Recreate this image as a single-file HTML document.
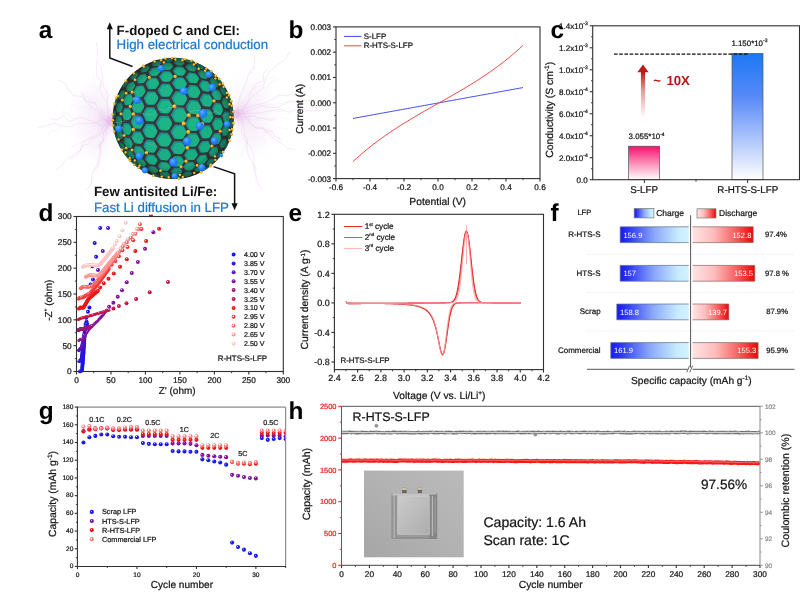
<!DOCTYPE html><html><head><meta charset="utf-8"><title>Figure</title><style>html,body{margin:0;padding:0;background:#fff}body{width:800px;height:592px;overflow:hidden}</style></head><body><svg width="800" height="592" viewBox="0 0 800 592" font-family='"Liberation Sans", sans-serif' text-rendering="geometricPrecision" style="display:block;will-change:transform;transform:translateZ(0)"><defs><filter id="blur1" x="-30%" y="-30%" width="160%" height="160%"><feGaussianBlur stdDeviation="0.55"/></filter><filter id="blur5" x="-50%" y="-50%" width="200%" height="200%"><feGaussianBlur stdDeviation="4.5"/></filter><filter id="blur9" x="-80%" y="-80%" width="260%" height="260%"><feGaussianBlur stdDeviation="8"/></filter><filter id="blur2" x="-50%" y="-50%" width="200%" height="200%"><feGaussianBlur stdDeviation="1.6"/></filter><radialGradient id="gsph" cx="0.46" cy="0.42" r="0.62"><stop offset="0" stop-color="#3a3c38"/><stop offset="0.8" stop-color="#35342f"/><stop offset="1" stop-color="#2a2824"/></radialGradient><radialGradient id="gvig" cx="0.5" cy="0.5" r="0.5"><stop offset="0.80" stop-color="#1a1a14" stop-opacity="0"/><stop offset="1" stop-color="#1a1a14" stop-opacity="0.5"/></radialGradient><clipPath id="clipsph"><circle cx="173.2" cy="118.4" r="60.6"/></clipPath><radialGradient id="gyel" cx="0.4" cy="0.35" r="0.65"><stop offset="0" stop-color="#ffe070"/><stop offset="0.5" stop-color="#f4b41c"/><stop offset="1" stop-color="#c88a10"/></radialGradient><radialGradient id="gblu" cx="0.4" cy="0.35" r="0.7"><stop offset="0" stop-color="#5cb0ff"/><stop offset="0.5" stop-color="#2486fa"/><stop offset="1" stop-color="#1a6cec"/></radialGradient><linearGradient id="gpink" x1="0" y1="0" x2="0" y2="1"><stop offset="0" stop-color="#fb0f6c"/><stop offset="0.45" stop-color="#fb7fae"/><stop offset="1" stop-color="#ffffff"/></linearGradient><linearGradient id="gblue" x1="0" y1="0" x2="0" y2="1"><stop offset="0" stop-color="#1b78f5"/><stop offset="0.35" stop-color="#5a8af8"/><stop offset="1" stop-color="#ffffff"/></linearGradient><linearGradient id="garrow" x1="0" y1="0" x2="0" y2="1"><stop offset="0" stop-color="#c01818"/><stop offset="0.14" stop-color="#c01818"/><stop offset="0.5" stop-color="#c41a1a" stop-opacity="0.42"/><stop offset="1" stop-color="#c41a1a" stop-opacity="0"/></linearGradient><radialGradient id="bd0" cx="0.38" cy="0.35" r="0.62"><stop offset="0" stop-color="#fff" stop-opacity="0.85"/><stop offset="0.28" stop-color="#1414f0"/><stop offset="1" stop-color="#1414f0"/></radialGradient><radialGradient id="bd1" cx="0.38" cy="0.35" r="0.62"><stop offset="0" stop-color="#fff" stop-opacity="0.85"/><stop offset="0.28" stop-color="#2a14e0"/><stop offset="1" stop-color="#2a14e0"/></radialGradient><radialGradient id="bd2" cx="0.38" cy="0.35" r="0.62"><stop offset="0" stop-color="#fff" stop-opacity="0.85"/><stop offset="0.28" stop-color="#5a12c4"/><stop offset="1" stop-color="#5a12c4"/></radialGradient><radialGradient id="bd3" cx="0.38" cy="0.35" r="0.62"><stop offset="0" stop-color="#fff" stop-opacity="0.85"/><stop offset="0.28" stop-color="#80129e"/><stop offset="1" stop-color="#80129e"/></radialGradient><radialGradient id="bd4" cx="0.38" cy="0.35" r="0.62"><stop offset="0" stop-color="#fff" stop-opacity="0.85"/><stop offset="0.28" stop-color="#a01270"/><stop offset="1" stop-color="#a01270"/></radialGradient><radialGradient id="bd5" cx="0.38" cy="0.35" r="0.62"><stop offset="0" stop-color="#fff" stop-opacity="0.85"/><stop offset="0.28" stop-color="#c81244"/><stop offset="1" stop-color="#c81244"/></radialGradient><radialGradient id="bd6" cx="0.38" cy="0.35" r="0.62"><stop offset="0" stop-color="#fff" stop-opacity="0.85"/><stop offset="0.28" stop-color="#ee1414"/><stop offset="1" stop-color="#ee1414"/></radialGradient><radialGradient id="bd7" cx="0.40" cy="0.38" r="0.62"><stop offset="0" stop-color="#fff" stop-opacity="0.95"/><stop offset="0.18" stop-color="#fff" stop-opacity="0.6"/><stop offset="0.42" stop-color="#f93030"/><stop offset="1" stop-color="#f93030"/></radialGradient><radialGradient id="bd8" cx="0.40" cy="0.38" r="0.62"><stop offset="0" stop-color="#fff" stop-opacity="0.95"/><stop offset="0.18" stop-color="#fff" stop-opacity="0.6"/><stop offset="0.42" stop-color="#fb6060"/><stop offset="1" stop-color="#fb6060"/></radialGradient><radialGradient id="bd9" cx="0.40" cy="0.38" r="0.62"><stop offset="0" stop-color="#fff" stop-opacity="0.95"/><stop offset="0.18" stop-color="#fff" stop-opacity="0.6"/><stop offset="0.42" stop-color="#fc9494"/><stop offset="1" stop-color="#fc9494"/></radialGradient><radialGradient id="bd10" cx="0.40" cy="0.38" r="0.62"><stop offset="0" stop-color="#fff" stop-opacity="0.95"/><stop offset="0.18" stop-color="#fff" stop-opacity="0.6"/><stop offset="0.42" stop-color="#fdc4c4"/><stop offset="1" stop-color="#fdc4c4"/></radialGradient><linearGradient id="gch" x1="0" y1="0" x2="1" y2="0"><stop offset="0" stop-color="#1a1af2"/><stop offset="0.12" stop-color="#2a34f4"/><stop offset="0.5" stop-color="#8aa8fa"/><stop offset="0.85" stop-color="#c8ecff"/><stop offset="1" stop-color="#d2f2ff"/></linearGradient><linearGradient id="gdis" x1="0" y1="0" x2="1" y2="0"><stop offset="0" stop-color="#ffe4e4"/><stop offset="0.35" stop-color="#fdbcbc"/><stop offset="0.7" stop-color="#f96060"/><stop offset="0.95" stop-color="#f01414"/><stop offset="1" stop-color="#ec0c0c"/></linearGradient><radialGradient id="bg0" cx="0.38" cy="0.35" r="0.62"><stop offset="0" stop-color="#fff" stop-opacity="0.85"/><stop offset="0.28" stop-color="#1818f0"/><stop offset="1" stop-color="#1818f0"/></radialGradient><radialGradient id="bg1" cx="0.38" cy="0.35" r="0.62"><stop offset="0" stop-color="#fff" stop-opacity="0.85"/><stop offset="0.28" stop-color="#80129e"/><stop offset="1" stop-color="#80129e"/></radialGradient><radialGradient id="bg2" cx="0.38" cy="0.35" r="0.62"><stop offset="0" stop-color="#fff" stop-opacity="0.85"/><stop offset="0.28" stop-color="#ee1414"/><stop offset="1" stop-color="#ee1414"/></radialGradient><radialGradient id="bg3" cx="0.40" cy="0.38" r="0.62"><stop offset="0" stop-color="#fff" stop-opacity="0.95"/><stop offset="0.18" stop-color="#fff" stop-opacity="0.6"/><stop offset="0.42" stop-color="#fb7a7a"/><stop offset="1" stop-color="#fb7a7a"/></radialGradient><linearGradient id="gphoto" x1="0" y1="1" x2="1" y2="0"><stop offset="0" stop-color="#a6a6a6"/><stop offset="0.5" stop-color="#b2b2b2"/><stop offset="1" stop-color="#bababa"/></linearGradient><linearGradient id="gcell" x1="0" y1="0" x2="1" y2="1"><stop offset="0" stop-color="#cbcbcb"/><stop offset="0.5" stop-color="#bcbcbc"/><stop offset="1" stop-color="#adadad"/></linearGradient><filter id="blurp" x="-10%" y="-10%" width="120%" height="120%"><feGaussianBlur stdDeviation="0.45"/></filter></defs><rect width="800" height="592" fill="#fff"/><g filter="url(#blur1)"><polyline fill="none" stroke="#e4c2ec" stroke-width="0.7" stroke-opacity="0.5" stroke-linejoin="round" points="110,121.5 108.14,112.72 107.27,103.77 108.01,94.53 103.56,86.2 102.27,77.32 101.22,68.4 97.12,60.02 97.63,50.82 96.25,41.96"/><polyline fill="none" stroke="#ead0f0" stroke-width="0.55" stroke-opacity="0.4" stroke-linejoin="round" points="103.56,86.2 100.04,85.03 100.17,80.5 97.6,78.45 93.29,77.99 93.04,73.8"/><polyline fill="none" stroke="#e4c2ec" stroke-width="0.7" stroke-opacity="0.5" stroke-linejoin="round" points="110,121.5 111.46,114.25 108.07,108.07 106.39,101.51 102.08,95.52 99.75,89.11 101.51,81.79 97.13,75.82 96.51,69.03 96.52,62.11"/><polyline fill="none" stroke="#ead0f0" stroke-width="0.55" stroke-opacity="0.4" stroke-linejoin="round" points="106.39,101.51 107.36,98.31 106.22,94.75 106.96,91.52 107.8,88.3 108.62,85.08"/><polyline fill="none" stroke="#e4c2ec" stroke-width="0.7" stroke-opacity="0.5" stroke-linejoin="round" points="110,121.5 102.57,118.96 99.06,111.5 92.29,108.13 87.09,102.8 82.83,96.29 73.67,95.92 68.57,90.45 64.81,83.32 58.02,79.98"/><polyline fill="none" stroke="#ead0f0" stroke-width="0.55" stroke-opacity="0.4" stroke-linejoin="round" points="92.29,108.13 87.73,108.24 83.34,105.96 78.66,107.65 74.3,104.82 69.66,106.04"/><polyline fill="none" stroke="#e4c2ec" stroke-width="0.7" stroke-opacity="0.5" stroke-linejoin="round" points="110,121.5 104.43,120.5 102.03,116.27 101.84,109.79 96.53,108.53 95.49,102.92 89.54,102.3 84.75,100.5 83.91,94.69 80.37,91.62"/><polyline fill="none" stroke="#ead0f0" stroke-width="0.55" stroke-opacity="0.4" stroke-linejoin="round" points="95.49,102.92 91.58,103.03 89.7,99.84 88.09,96.21 83.49,97.47 81.68,94.16"/><polyline fill="none" stroke="#e4c2ec" stroke-width="0.7" stroke-opacity="0.5" stroke-linejoin="round" points="110,121.5 102.28,125.34 94.02,123.17 86.01,123.75 77.9,123.23 70.18,127.1 61.99,125.78 53.72,123.46 45.84,125.56 38.01,128.15"/><polyline fill="none" stroke="#ead0f0" stroke-width="0.55" stroke-opacity="0.4" stroke-linejoin="round" points="61.99,125.78 59.84,128.9 56.79,130.8 52.09,130.4 49.62,133.09 47.66,136.48"/><polyline fill="none" stroke="#e4c2ec" stroke-width="0.7" stroke-opacity="0.5" stroke-linejoin="round" points="110,121.5 103.48,118.65 96.56,122.57 89.96,121.01 83.47,117.68 76.72,118.65 69.85,121.72 63.52,115.65 56.56,120.22 49.97,118.46"/><polyline fill="none" stroke="#ead0f0" stroke-width="0.55" stroke-opacity="0.4" stroke-linejoin="round" points="76.72,118.65 72.77,118.54 70.04,116.3 67.96,112.93 63.58,113.57 61.53,110.14"/><polyline fill="none" stroke="#e4c2ec" stroke-width="0.7" stroke-opacity="0.5" stroke-linejoin="round" points="110,121.5 103.37,126.3 99.36,134.07 91.3,137.25 84.15,141.46 80.99,150.19 73.82,154.38 66.68,158.61 61.91,165.52 55.34,170.39"/><polyline fill="none" stroke="#ead0f0" stroke-width="0.55" stroke-opacity="0.4" stroke-linejoin="round" points="84.15,141.46 81.31,142.07 78.83,143.49 75.99,144.08 73.9,146.42 71.1,147.11"/><polyline fill="none" stroke="#e4c2ec" stroke-width="0.7" stroke-opacity="0.5" stroke-linejoin="round" points="110,121.5 107.43,127.72 103.12,132.14 98.4,136.14 92.17,138.55 88.86,144.02 82.27,146.06 79.37,151.94 74.8,156.09 69.46,159.44"/><polyline fill="none" stroke="#ead0f0" stroke-width="0.55" stroke-opacity="0.4" stroke-linejoin="round" points="82.27,146.06 80,148.1 81.07,152.03 79.03,154.2 76.34,156 74.74,158.41"/><polyline fill="none" stroke="#e4c2ec" stroke-width="0.7" stroke-opacity="0.5" stroke-linejoin="round" points="110,121.5 106.64,128.87 105.99,137.19 99.48,143.45 101.12,152.57 99.59,160.58 95.39,167.66 91.66,174.89 91.32,183.32 86.59,190.21"/><polyline fill="none" stroke="#ead0f0" stroke-width="0.55" stroke-opacity="0.4" stroke-linejoin="round" points="99.59,160.58 99.35,166 97.26,170.69 94.08,174.93 92.67,179.89 89.79,184.26"/><polyline fill="none" stroke="#e4c2ec" stroke-width="0.7" stroke-opacity="0.5" stroke-linejoin="round" points="110,121.5 107.98,127.07 103.51,131.81 103.79,138.15 99.88,143.08 100.71,149.61 99.53,155.46 97.92,161.16 97.72,167.34 92.82,171.94"/><polyline fill="none" stroke="#ead0f0" stroke-width="0.55" stroke-opacity="0.4" stroke-linejoin="round" points="103.79,138.15 103.24,142.63 99.06,145.99 101.63,151.44 98.34,155.08 96.92,159.29"/><polyline fill="none" stroke="#e4c2ec" stroke-width="0.7" stroke-opacity="0.5" stroke-linejoin="round" points="110,121.5 106.47,123.82 106.35,127.33 105.44,130.57 103.78,133.55 101.94,136.45 104.23,140.81 101.1,143.27 98.69,145.98 99.33,149.76"/><polyline fill="none" stroke="#ead0f0" stroke-width="0.55" stroke-opacity="0.4" stroke-linejoin="round" points="104.23,140.81 102.19,142.24 101.39,145.42 97.71,144.51 96.39,146.95 94.42,148.47"/><polyline fill="none" stroke="#e4c2ec" stroke-width="0.7" stroke-opacity="0.5" stroke-linejoin="round" points="238,113.5 237.26,106.24 239.26,99.77 241.3,93.31 244.06,87.07 246.93,80.85 248.29,74.2 253.89,68.78 254.3,61.85 254.92,54.98"/><polyline fill="none" stroke="#ead0f0" stroke-width="0.55" stroke-opacity="0.4" stroke-linejoin="round" points="248.29,74.2 250.9,73.04 250.4,68.94 254.04,68.75 255.46,66.48 257.07,64.37"/><polyline fill="none" stroke="#e4c2ec" stroke-width="0.7" stroke-opacity="0.5" stroke-linejoin="round" points="238,113.5 244.75,107.49 249.54,99.82 255.89,93.47 263.17,87.9 265.7,78.32 270.28,70.48 277.47,64.84 285.09,59.57 289.56,51.63"/><polyline fill="none" stroke="#ead0f0" stroke-width="0.55" stroke-opacity="0.4" stroke-linejoin="round" points="263.17,87.9 267.02,87.9 269.01,84.6 271.38,81.96 274.66,80.94 277.63,79.37"/><polyline fill="none" stroke="#e4c2ec" stroke-width="0.7" stroke-opacity="0.5" stroke-linejoin="round" points="238,113.5 242.04,109.15 246.27,104.94 249.34,99.93 249.75,93.08 253.16,88.29 256.52,83.48 263.55,81.2 263.14,73.78 267.42,69.6"/><polyline fill="none" stroke="#ead0f0" stroke-width="0.55" stroke-opacity="0.4" stroke-linejoin="round" points="253.16,88.29 257.81,86.84 262.51,85.5 265.3,80.62 269.28,77.94 274.14,76.89"/><polyline fill="none" stroke="#e4c2ec" stroke-width="0.7" stroke-opacity="0.5" stroke-linejoin="round" points="238,113.5 244.34,109.34 251.08,106.14 258.46,104.49 265.86,102.91 272.43,99.3 278.88,95.41 287.05,95.67 294.28,93.69 299.97,87.92"/><polyline fill="none" stroke="#ead0f0" stroke-width="0.55" stroke-opacity="0.4" stroke-linejoin="round" points="258.46,104.49 261.6,105.19 264.74,105.72 268.04,104.2 271.19,104.74 274.3,105.8"/><polyline fill="none" stroke="#e4c2ec" stroke-width="0.7" stroke-opacity="0.5" stroke-linejoin="round" points="238,113.5 248.25,113.3 258.5,113.18 268.63,111.06 278.77,109.07 289.21,112.16 299.24,108.34 309.66,111.01 319.89,110.51 330.06,108.93"/><polyline fill="none" stroke="#ead0f0" stroke-width="0.55" stroke-opacity="0.4" stroke-linejoin="round" points="268.63,111.06 272.85,111.18 277.06,111.28 281.28,111.38 285.24,109.63 289.21,107.87"/><polyline fill="none" stroke="#e4c2ec" stroke-width="0.7" stroke-opacity="0.5" stroke-linejoin="round" points="238,113.5 245.97,111.84 253.62,108.48 261.42,105.92 269.97,107.33 278.25,107.35 285.62,102.48 293.73,101.57 301.82,100.53 310.07,100.37"/><polyline fill="none" stroke="#ead0f0" stroke-width="0.55" stroke-opacity="0.4" stroke-linejoin="round" points="269.97,107.33 274.92,107.5 278.09,102.58 283.68,104.58 287.73,102.19 291.61,99.29"/><polyline fill="none" stroke="#e4c2ec" stroke-width="0.7" stroke-opacity="0.5" stroke-linejoin="round" points="238,113.5 244.49,117.31 250.23,122.29 255.59,127.88 263.76,129.06 269.43,134.15 274.69,139.88 281.31,143.49 287.13,148.34 295.04,149.94"/><polyline fill="none" stroke="#ead0f0" stroke-width="0.55" stroke-opacity="0.4" stroke-linejoin="round" points="263.76,129.06 268.57,130.41 273.39,131 278.25,127.52 283.07,128.08 287.89,129.11"/><polyline fill="none" stroke="#e4c2ec" stroke-width="0.7" stroke-opacity="0.5" stroke-linejoin="round" points="238,113.5 244.07,114.21 247.98,118.36 250.37,124.91 255.19,127.62 262.15,126.93 265.25,132.35 272.32,131.49 275.32,137.08 280.47,139.25"/><polyline fill="none" stroke="#ead0f0" stroke-width="0.55" stroke-opacity="0.4" stroke-linejoin="round" points="262.15,126.93 265.85,129.58 270.71,130.65 272.35,136.11 277.96,136.16 280.25,140.72"/><polyline fill="none" stroke="#e4c2ec" stroke-width="0.7" stroke-opacity="0.5" stroke-linejoin="round" points="238,113.5 242.66,121.37 244.34,130.18 244.24,139.55 250.86,146.81 253.48,155.33 253.9,164.53 255.3,173.43 257.26,182.15 261.65,190.11"/><polyline fill="none" stroke="#ead0f0" stroke-width="0.55" stroke-opacity="0.4" stroke-linejoin="round" points="253.9,164.53 253.62,169 255.83,172.98 256.14,177.33 255.8,181.81 257.98,185.79"/><polyline fill="none" stroke="#e4c2ec" stroke-width="0.7" stroke-opacity="0.5" stroke-linejoin="round" points="238,113.5 242.05,119.13 241.91,126.08 241.52,133.12 247.48,138.14 246.96,145.22 247.23,152.05 249.74,158.16 253.33,163.93 256.36,169.89"/><polyline fill="none" stroke="#ead0f0" stroke-width="0.55" stroke-opacity="0.4" stroke-linejoin="round" points="247.48,138.14 245.87,141.67 246.09,145.86 243.39,148.99 242.2,152.68 240.77,156.27"/><polyline fill="none" stroke="#e4c2ec" stroke-width="0.7" stroke-opacity="0.5" stroke-linejoin="round" points="238,113.5 242.63,111.25 245.7,117.9 250.32,115.77 254.55,115.76 258.22,119.01 262.6,118.23 266.79,118.5 270.68,120.48 275.14,119.18"/><polyline fill="none" stroke="#ead0f0" stroke-width="0.55" stroke-opacity="0.4" stroke-linejoin="round" points="262.6,118.23 267.57,120.36 272.8,117.76 277.82,118.92 282.97,117.67 287.96,119.49"/></g>
<ellipse cx="96" cy="120" rx="16" ry="34" fill="#ecd2f2" fill-opacity="0.35" filter="url(#blur9)"/>
<ellipse cx="252" cy="116" rx="16" ry="34" fill="#ecd2f2" fill-opacity="0.35" filter="url(#blur9)"/>
<ellipse cx="106" cy="121" rx="8" ry="11" fill="#e6bcec" fill-opacity="0.5" filter="url(#blur5)"/>
<ellipse cx="241" cy="114" rx="8" ry="11" fill="#e6bcec" fill-opacity="0.5" filter="url(#blur5)"/>
<ellipse cx="110" cy="121" rx="3.5" ry="5" fill="#e9b9ee" fill-opacity="0.9" filter="url(#blur2)"/>
<ellipse cx="237" cy="114" rx="3.5" ry="5" fill="#e9b9ee" fill-opacity="0.9" filter="url(#blur2)"/>
<circle cx="173.2" cy="118.4" r="60.6" fill="url(#gsph)"/>
<g clip-path="url(#clipsph)"><polygon points="116.97,101.71 115.53,105.64 114.35,106.18 114.67,103.17 115.87,99.51 117,98.6" fill="rgb(25,123,127)" stroke="rgb(25,123,127)" stroke-width="0.97" stroke-linejoin="round"/><polygon points="116.55,102.39 115.61,104.97 114.78,105.35 114.91,103.3 115.74,100.83 116.55,100.29" fill="rgb(22,157,118)" stroke="rgb(22,157,118)" stroke-width="1.31" stroke-linejoin="round"/><polygon points="115.42,114.19 114.48,118.02 113.29,117.93 113.04,114.39 113.72,110.76 114.9,110.47" fill="rgb(25,124,128)" stroke="rgb(25,124,128)" stroke-width="0.97" stroke-linejoin="round"/><polygon points="115.07,114.79 114.46,117.31 113.62,117.28 113.38,114.88 113.87,112.44 114.71,112.31" fill="rgb(22,159,119)" stroke="rgb(22,159,119)" stroke-width="1.31" stroke-linejoin="round"/><polygon points="115.59,126.95 115.21,130.35 114.08,129.63 113.29,125.9 113.38,122.62 114.56,122.96" fill="rgb(25,122,127)" stroke="rgb(25,122,127)" stroke-width="0.97" stroke-linejoin="round"/><polygon points="115.33,127.42 115.09,129.66 114.29,129.21 113.69,126.69 113.8,124.51 114.63,124.79" fill="rgb(22,157,118)" stroke="rgb(22,157,118)" stroke-width="1.31" stroke-linejoin="round"/><polygon points="117.48,138.87 117.68,141.5 116.69,140.19 115.41,136.6 114.9,134 115.98,134.95" fill="rgb(24,119,123)" stroke="rgb(24,119,123)" stroke-width="0.97" stroke-linejoin="round"/><polygon points="117.32,139.16 117.47,140.89 116.75,140.05 115.84,137.64 115.56,135.91 116.31,136.6" fill="rgb(21,153,115)" stroke="rgb(21,153,115)" stroke-width="1.31" stroke-linejoin="round"/><polygon points="127.55,82.52 125.04,86.21 122.72,87.42 123.07,85.23 125.4,81.87 127.56,80.38" fill="rgb(25,126,130)" stroke="rgb(25,126,130)" stroke-width="0.97" stroke-linejoin="round"/><polygon points="126.86,83.21 125.21,85.64 123.63,86.45 123.78,84.95 125.35,82.66 126.86,81.73" fill="rgb(23,160,120)" stroke="rgb(23,160,120)" stroke-width="1.31" stroke-linejoin="round"/><polygon points="124.11,93.75 121.89,97.92 119.4,98.63 119.22,95.48 121.24,91.58 123.63,90.57" fill="rgb(26,130,135)" stroke="rgb(26,130,135)" stroke-width="1.49" stroke-linejoin="round"/><polygon points="123.43,94.47 121.98,97.22 120.28,97.7 120.09,95.56 121.46,92.93 123.11,92.32" fill="rgb(24,165,124)" stroke="rgb(24,165,124)" stroke-width="2.01" stroke-linejoin="round"/><polygon points="121.99,107.01 120.15,111.32 117.58,111.48 116.89,107.66 118.49,103.57 121.02,103.08" fill="rgb(27,132,137)" stroke="rgb(27,132,137)" stroke-width="1.82" stroke-linejoin="round"/><polygon points="121.36,107.7 120.16,110.54 118.41,110.67 117.87,108.09 118.97,105.34 120.71,105.08" fill="rgb(24,168,126)" stroke="rgb(24,168,126)" stroke-width="2.46" stroke-linejoin="round"/><polygon points="121.31,121.17 119.93,125.25 117.38,124.86 116.19,120.71 117.31,116.77 119.88,116.83" fill="rgb(27,132,137)" stroke="rgb(27,132,137)" stroke-width="1.88" stroke-linejoin="round"/><polygon points="120.74,121.77 119.85,124.46 118.11,124.22 117.25,121.44 118.03,118.81 119.78,118.9" fill="rgb(24,167,125)" stroke="rgb(24,167,125)" stroke-width="2.54" stroke-linejoin="round"/><polygon points="122.11,135.02 121.24,138.51 118.82,137.58 117.18,133.47 117.76,130.03 120.27,130.64" fill="rgb(26,130,134)" stroke="rgb(26,130,134)" stroke-width="1.66" stroke-linejoin="round"/><polygon points="121.63,135.48 121.08,137.78 119.42,137.19 118.28,134.43 118.7,132.15 120.4,132.6" fill="rgb(24,165,124)" stroke="rgb(24,165,124)" stroke-width="2.25" stroke-linejoin="round"/><polygon points="124.37,147.37 124.04,149.96 121.84,148.54 119.83,144.81 119.83,142.18 122.18,143.31" fill="rgb(25,125,129)" stroke="rgb(25,125,129)" stroke-width="1.19" stroke-linejoin="round"/><polygon points="124,147.65 123.8,149.35 122.29,148.44 120.9,145.94 120.96,144.21 122.54,145" fill="rgb(22,160,120)" stroke="rgb(22,160,120)" stroke-width="1.6" stroke-linejoin="round"/><polygon points="127.99,157.16 128.21,158.61 126.31,156.77 124,153.72 123.44,152.16 125.53,153.76" fill="rgb(24,117,122)" stroke="rgb(24,117,122)" stroke-width="0.97" stroke-linejoin="round"/><polygon points="127.73,157.23 127.9,158.17 126.58,156.98 125.02,154.94 124.7,153.94 126.1,155.03" fill="rgb(21,152,114)" stroke="rgb(21,152,114)" stroke-width="1.31" stroke-linejoin="round"/><polygon points="137.44,74.76 134.53,78.22 131.21,79.37 131,77.29 133.79,74.15 136.9,72.78" fill="rgb(26,130,134)" stroke="rgb(26,130,134)" stroke-width="1.33" stroke-linejoin="round"/><polygon points="136.59,75.4 134.67,77.68 132.45,78.44 132.23,77.02 134.09,74.88 136.23,74.02" fill="rgb(24,165,123)" stroke="rgb(24,165,123)" stroke-width="1.79" stroke-linejoin="round"/><polygon points="134.14,85.57 131.37,89.76 127.77,90.51 127.1,87.33 129.72,83.44 133.17,82.43" fill="rgb(27,135,140)" stroke="rgb(27,135,140)" stroke-width="2.08" stroke-linejoin="round"/><polygon points="133.28,86.29 131.45,89.05 129.04,89.55 128.51,87.4 130.27,84.77 132.62,84.16" fill="rgb(25,171,128)" stroke="rgb(25,171,128)" stroke-width="2.8" stroke-linejoin="round"/><polygon points="131.82,99.04 129.28,103.61 125.53,103.93 124.38,99.94 126.74,95.6 130.41,95.01" fill="rgb(28,138,142)" stroke="rgb(28,138,142)" stroke-width="2.58" stroke-linejoin="round"/><polygon points="130.96,99.78 129.29,102.79 126.77,103.01 125.94,100.33 127.53,97.42 130.02,97.08" fill="rgb(26,174,130)" stroke="rgb(26,174,130)" stroke-width="3.48" stroke-linejoin="round"/><polygon points="130.59,114.05 128.38,118.63 124.59,118.49 123,114.04 124.99,109.61 128.78,109.48" fill="rgb(28,139,143)" stroke="rgb(28,139,143)" stroke-width="2.79" stroke-linejoin="round"/><polygon points="129.77,114.75 128.32,117.77 125.77,117.69 124.66,114.71 126.01,111.75 128.56,111.71" fill="rgb(26,175,131)" stroke="rgb(26,175,131)" stroke-width="3.77" stroke-linejoin="round"/><polygon points="130.53,129.35 128.73,133.57 125.02,132.98 123.04,128.44 124.59,124.29 128.37,124.61" fill="rgb(28,138,142)" stroke="rgb(28,138,142)" stroke-width="2.7" stroke-linejoin="round"/><polygon points="129.78,129.96 128.6,132.74 126.1,132.36 124.74,129.33 125.8,126.58 128.34,126.83" fill="rgb(26,173,129)" stroke="rgb(26,173,129)" stroke-width="3.65" stroke-linejoin="round"/><polygon points="131.66,143.69 130.32,147.18 126.81,146.16 124.51,141.91 125.56,138.41 129.21,139.17" fill="rgb(27,134,138)" stroke="rgb(27,134,138)" stroke-width="2.32" stroke-linejoin="round"/><polygon points="130.99,144.15 130.12,146.45 127.75,145.8 126.18,142.96 126.93,140.65 129.37,141.19" fill="rgb(25,169,127)" stroke="rgb(25,169,127)" stroke-width="3.13" stroke-linejoin="round"/><polygon points="133.93,155.88 133.08,158.34 129.88,156.94 127.34,153.32 127.87,150.77 131.27,151.94" fill="rgb(26,128,133)" stroke="rgb(26,128,133)" stroke-width="1.67" stroke-linejoin="round"/><polygon points="133.37,156.15 132.83,157.76 130.66,156.87 128.94,154.45 129.35,152.79 131.61,153.59" fill="rgb(23,163,122)" stroke="rgb(23,163,122)" stroke-width="2.25" stroke-linejoin="round"/><polygon points="137.25,164.91 136.9,166.1 134.11,164.4 131.41,161.68 131.42,160.33 134.47,161.85" fill="rgb(24,120,125)" stroke="rgb(24,120,125)" stroke-width="0.97" stroke-linejoin="round"/><polygon points="136.81,164.95 136.6,165.74 134.7,164.63 132.89,162.83 132.96,161.97 134.97,163" fill="rgb(21,154,116)" stroke="rgb(21,154,116)" stroke-width="1.31" stroke-linejoin="round"/><polygon points="148.92,67.97 145.9,70.97 141.84,71.93 141.09,70.04 144.07,67.36 147.85,66.25" fill="rgb(26,131,135)" stroke="rgb(26,131,135)" stroke-width="1.49" stroke-linejoin="round"/><polygon points="147.99,68.51 145.99,70.48 143.29,71.11 142.72,69.83 144.7,67.99 147.28,67.29" fill="rgb(24,166,124)" stroke="rgb(24,166,124)" stroke-width="2.01" stroke-linejoin="round"/><polygon points="146.18,77.8 143.14,81.75 138.71,82.42 137.54,79.33 140.52,75.67 144.73,74.82" fill="rgb(28,138,142)" stroke="rgb(28,138,142)" stroke-width="2.39" stroke-linejoin="round"/><polygon points="145.2,78.46 143.19,81.06 140.24,81.51 139.4,79.42 141.38,76.94 144.23,76.42" fill="rgb(26,173,130)" stroke="rgb(26,173,130)" stroke-width="3.23" stroke-linejoin="round"/><polygon points="144.06,90.87 141.09,95.45 136.42,95.8 134.84,91.77 137.7,87.42 142.24,86.87" fill="rgb(29,142,146)" stroke="rgb(29,142,146)" stroke-width="3.07" stroke-linejoin="round"/><polygon points="143.05,91.6 141.09,94.62 137.98,94.86 136.87,92.16 138.78,89.23 141.84,88.91" fill="rgb(27,177,133)" stroke="rgb(27,177,133)" stroke-width="4.14" stroke-linejoin="round"/><polygon points="142.65,106.11 139.86,110.97 135.07,110.98 133.12,106.35 135.77,101.65 140.5,101.43" fill="rgb(29,143,147)" stroke="rgb(29,143,147)" stroke-width="3.46" stroke-linejoin="round"/><polygon points="141.65,106.86 139.81,110.06 136.61,110.08 135.27,106.98 137.04,103.85 140.22,103.74" fill="rgb(27,179,134)" stroke="rgb(27,179,134)" stroke-width="4.66" stroke-linejoin="round"/><polygon points="142.05,122.3 139.53,127.04 134.76,126.71 132.48,121.86 134.82,117.2 139.62,117.32" fill="rgb(29,143,147)" stroke="rgb(29,143,147)" stroke-width="3.52" stroke-linejoin="round"/><polygon points="141.09,123.01 139.43,126.13 136.24,125.93 134.69,122.69 136.27,119.6 139.47,119.71" fill="rgb(27,178,133)" stroke="rgb(27,178,133)" stroke-width="4.76" stroke-linejoin="round"/><polygon points="142.3,138.14 140.11,142.36 135.5,141.7 132.97,137.02 134.93,132.79 139.65,133.25" fill="rgb(28,140,144)" stroke="rgb(28,140,144)" stroke-width="3.27" stroke-linejoin="round"/><polygon points="141.39,138.74 139.96,141.52 136.87,141.11 135.16,137.99 136.5,135.2 139.64,135.53" fill="rgb(26,176,132)" stroke="rgb(26,176,132)" stroke-width="4.41" stroke-linejoin="round"/><polygon points="143.39,152.34 141.6,155.7 137.28,154.74 134.56,150.6 136.09,147.15 140.6,147.93" fill="rgb(27,136,140)" stroke="rgb(27,136,140)" stroke-width="2.71" stroke-linejoin="round"/><polygon points="142.58,152.78 141.41,155 138.51,154.39 136.68,151.63 137.74,149.38 140.72,149.91" fill="rgb(25,171,128)" stroke="rgb(25,171,128)" stroke-width="3.66" stroke-linejoin="round"/><polygon points="145.29,163.75 143.94,165.96 140.03,164.75 137.2,161.47 138.26,159.11 142.43,160.17" fill="rgb(26,129,134)" stroke="rgb(26,129,134)" stroke-width="1.89" stroke-linejoin="round"/><polygon points="144.59,164 143.71,165.46 141.07,164.68 139.2,162.51 139.94,160.98 142.69,161.7" fill="rgb(24,164,123)" stroke="rgb(24,164,123)" stroke-width="2.56" stroke-linejoin="round"/><polygon points="147.92,171.46 147.03,172.32 143.61,170.91 140.78,168.75 141.35,167.68 145.08,168.98" fill="rgb(24,120,125)" stroke="rgb(24,120,125)" stroke-width="0.97" stroke-linejoin="round"/><polygon points="147.34,171.49 146.77,172.05 144.46,171.14 142.58,169.71 143.02,169.06 145.46,169.92" fill="rgb(21,154,116)" stroke="rgb(21,154,116)" stroke-width="1.31" stroke-linejoin="round"/><polygon points="160.97,62.74 158.12,65.06 153.67,65.69 152.4,64.1 155.3,62.08 159.42,61.35" fill="rgb(26,130,134)" stroke="rgb(26,130,134)" stroke-width="1.38" stroke-linejoin="round"/><polygon points="160.04,63.12 158.15,64.65 155.21,65.06 154.3,63.97 156.21,62.57 159.01,62.12" fill="rgb(24,165,124)" stroke="rgb(24,165,124)" stroke-width="1.87" stroke-linejoin="round"/><polygon points="159.19,71.05 156.18,74.52 151.27,74.98 149.64,72.08 152.67,68.89 157.32,68.32" fill="rgb(28,138,142)" stroke="rgb(28,138,142)" stroke-width="2.42" stroke-linejoin="round"/><polygon points="158.18,71.6 156.18,73.89 152.93,74.19 151.79,72.24 153.8,70.07 156.93,69.72" fill="rgb(26,173,130)" stroke="rgb(26,173,130)" stroke-width="3.27" stroke-linejoin="round"/><polygon points="157.68,83.11 154.59,87.45 149.33,87.72 147.37,83.76 150.44,79.65 155.5,79.26" fill="rgb(29,143,147)" stroke="rgb(29,143,147)" stroke-width="3.26" stroke-linejoin="round"/><polygon points="156.61,83.78 154.57,86.65 151.08,86.82 149.72,84.18 151.76,81.41 155.17,81.18" fill="rgb(27,179,133)" stroke="rgb(27,179,133)" stroke-width="4.4" stroke-linejoin="round"/><polygon points="156.51,97.96 153.43,102.83 147.97,102.88 145.7,98.19 148.72,93.48 154.08,93.3" fill="rgb(29,145,149)" stroke="rgb(29,145,149)" stroke-width="3.82" stroke-linejoin="round"/><polygon points="155.41,98.7 153.38,101.91 149.75,101.95 148.21,98.83 150.21,95.67 153.8,95.58" fill="rgb(27,181,135)" stroke="rgb(27,181,135)" stroke-width="5.15" stroke-linejoin="round"/><polygon points="155.75,114.41 152.78,119.42 147.26,119.25 144.74,114.21 147.61,109.28 153.11,109.31" fill="rgb(29,145,149)" stroke="rgb(29,145,149)" stroke-width="4.06" stroke-linejoin="round"/><polygon points="154.65,115.15 152.69,118.47 149.02,118.37 147.32,115.01 149.24,111.73 152.9,111.77" fill="rgb(27,181,135)" stroke="rgb(27,181,135)" stroke-width="5.48" stroke-linejoin="round"/><polygon points="155.45,131.15 152.67,135.9 147.25,135.52 144.53,130.52 147.17,125.76 152.66,126.01" fill="rgb(29,144,148)" stroke="rgb(29,144,148)" stroke-width="3.96" stroke-linejoin="round"/><polygon points="154.38,131.85 152.55,134.98 148.94,134.75 147.12,131.43 148.89,128.28 152.54,128.47" fill="rgb(27,180,134)" stroke="rgb(27,180,134)" stroke-width="5.34" stroke-linejoin="round"/><polygon points="155.63,146.85 153.12,150.95 147.94,150.38 145.11,145.82 147.44,141.63 152.78,142.08" fill="rgb(29,141,145)" stroke="rgb(29,141,145)" stroke-width="3.53" stroke-linejoin="round"/><polygon points="154.63,147.44 152.98,150.15 149.52,149.79 147.64,146.76 149.21,144.01 152.74,144.33" fill="rgb(26,177,132)" stroke="rgb(26,177,132)" stroke-width="4.77" stroke-linejoin="round"/><polygon points="156.31,160.26 154.13,163.39 149.33,162.64 146.46,158.87 148.41,155.59 153.46,156.24" fill="rgb(27,136,140)" stroke="rgb(27,136,140)" stroke-width="2.8" stroke-linejoin="round"/><polygon points="155.39,160.7 153.97,162.76 150.75,162.28 148.86,159.79 150.19,157.66 153.51,158.09" fill="rgb(25,171,128)" stroke="rgb(25,171,128)" stroke-width="3.79" stroke-linejoin="round"/><polygon points="157.46,170.32 155.67,172.2 151.35,171.31 148.53,168.63 150.06,166.54 154.68,167.35" fill="rgb(26,128,133)" stroke="rgb(26,128,133)" stroke-width="1.84" stroke-linejoin="round"/><polygon points="156.65,170.56 155.48,171.8 152.59,171.23 150.73,169.46 151.79,168.13 154.82,168.66" fill="rgb(23,163,122)" stroke="rgb(23,163,122)" stroke-width="2.48" stroke-linejoin="round"/><polygon points="159.03,176.23 157.65,176.7 153.93,175.71 151.22,174.3 152.31,173.59 156.4,174.52" fill="rgb(24,118,122)" stroke="rgb(24,118,122)" stroke-width="0.97" stroke-linejoin="round"/><polygon points="158.35,176.24 157.46,176.55 154.95,175.92 153.18,175 153.95,174.59 156.62,175.2" fill="rgb(21,152,114)" stroke="rgb(21,152,114)" stroke-width="1.31" stroke-linejoin="round"/><polygon points="172.55,59.55 170.15,61.02 165.65,61.21 163.93,59.98 166.47,58.79 170.59,58.56" fill="rgb(25,126,131)" stroke="rgb(25,126,131)" stroke-width="1.02" stroke-linejoin="round"/><polygon points="171.7,59.75 170.11,60.72 167.15,60.83 165.95,59.98 167.61,59.13 170.4,59.01" fill="rgb(23,161,121)" stroke="rgb(23,161,121)" stroke-width="1.37" stroke-linejoin="round"/><polygon points="172.09,65.9 169.4,68.67 164.36,68.8 162.33,66.2 165.13,63.69 169.85,63.52" fill="rgb(27,136,140)" stroke="rgb(27,136,140)" stroke-width="2.16" stroke-linejoin="round"/><polygon points="171.13,66.29 169.35,68.13 166.03,68.2 164.63,66.45 166.47,64.73 169.65,64.65" fill="rgb(25,171,128)" stroke="rgb(25,171,128)" stroke-width="2.92" stroke-linejoin="round"/><polygon points="171.58,76.4 168.67,80.26 163.2,80.3 160.9,76.55 163.89,72.92 169.11,72.82" fill="rgb(29,142,146)" stroke="rgb(29,142,146)" stroke-width="3.13" stroke-linejoin="round"/><polygon points="170.54,76.96 168.6,79.51 165,79.53 163.43,77.03 165.39,74.57 168.9,74.53" fill="rgb(27,178,133)" stroke="rgb(27,178,133)" stroke-width="4.23" stroke-linejoin="round"/><polygon points="171.05,90.22 167.99,94.85 162.24,94.82 159.71,90.21 162.8,85.74 168.39,85.72" fill="rgb(29,145,149)" stroke="rgb(29,145,149)" stroke-width="3.85" stroke-linejoin="round"/><polygon points="169.94,90.9 167.92,93.96 164.11,93.94 162.4,90.87 164.45,87.87 168.18,87.88" fill="rgb(27,181,135)" stroke="rgb(27,181,135)" stroke-width="5.2" stroke-linejoin="round"/><polygon points="170.54,106.27 167.42,111.3 161.53,111.18 158.82,106.08 161.92,101.13 167.75,101.2" fill="rgb(30,146,150)" stroke="rgb(30,146,150)" stroke-width="4.26" stroke-linejoin="round"/><polygon points="169.4,107.02 167.33,110.34 163.43,110.26 161.62,106.88 163.68,103.58 167.55,103.64" fill="rgb(28,182,136)" stroke="rgb(28,182,136)" stroke-width="5.76" stroke-linejoin="round"/><polygon points="170.07,123.27 166.99,128.31 161.11,128.11 158.29,122.92 161.32,117.88 167.23,118.03" fill="rgb(29,145,149)" stroke="rgb(29,145,149)" stroke-width="4.34" stroke-linejoin="round"/><polygon points="168.93,124.02 166.89,127.35 163,127.23 161.12,123.79 163.14,120.45 167.05,120.56" fill="rgb(27,181,135)" stroke="rgb(27,181,135)" stroke-width="5.86" stroke-linejoin="round"/><polygon points="169.7,139.88 166.73,144.52 161.03,144.24 158.17,139.37 161.04,134.65 166.86,134.88" fill="rgb(29,143,148)" stroke="rgb(29,143,148)" stroke-width="4.06" stroke-linejoin="round"/><polygon points="168.59,140.58 166.63,143.65 162.84,143.47 160.96,140.25 162.87,137.14 166.71,137.3" fill="rgb(27,179,134)" stroke="rgb(27,179,134)" stroke-width="5.49" stroke-linejoin="round"/><polygon points="169.45,154.79 166.68,158.66 161.3,158.32 158.47,154.14 161.1,150.12 166.69,150.42" fill="rgb(28,140,144)" stroke="rgb(28,140,144)" stroke-width="3.47" stroke-linejoin="round"/><polygon points="168.4,155.37 166.58,157.93 162.99,157.72 161.14,154.96 162.9,152.34 166.57,152.54" fill="rgb(26,175,131)" stroke="rgb(26,175,131)" stroke-width="4.68" stroke-linejoin="round"/><polygon points="169.34,166.82 166.85,169.6 161.92,169.2 159.19,166.05 161.5,163.05 166.72,163.42" fill="rgb(27,134,138)" stroke="rgb(27,134,138)" stroke-width="2.59" stroke-linejoin="round"/><polygon points="168.38,167.24 166.74,169.08 163.45,168.83 161.67,166.76 163.23,164.83 166.65,165.06" fill="rgb(25,169,126)" stroke="rgb(25,169,126)" stroke-width="3.5" stroke-linejoin="round"/><polygon points="169.4,175.01 167.24,176.48 162.87,176.05 160.31,174.16 162.26,172.43 166.98,172.84" fill="rgb(25,125,129)" stroke="rgb(25,125,129)" stroke-width="1.51" stroke-linejoin="round"/><polygon points="168.54,175.23 167.13,176.21 164.21,175.94 162.55,174.71 163.87,173.62 166.95,173.88" fill="rgb(22,159,120)" stroke="rgb(22,159,120)" stroke-width="2.04" stroke-linejoin="round"/><polygon points="182.69,58.78 180.98,59.27 176.78,58.94 174.68,58.12 176.61,57.9 180.42,58.23" fill="rgb(24,120,125)" stroke="rgb(24,120,125)" stroke-width="0.97" stroke-linejoin="round"/><polygon points="182,58.77 180.86,59.09 178.1,58.85 176.67,58.29 177.91,58.08 180.49,58.32" fill="rgb(21,155,116)" stroke="rgb(21,155,116)" stroke-width="1.31" stroke-linejoin="round"/><polygon points="183.81,62.84 181.72,64.73 176.92,64.42 174.56,62.2 176.85,60.56 181.31,60.88" fill="rgb(26,131,136)" stroke="rgb(26,131,136)" stroke-width="1.63" stroke-linejoin="round"/><polygon points="182.99,63.04 181.59,64.3 178.45,64.07 176.85,62.58 178.33,61.43 181.33,61.67" fill="rgb(24,166,125)" stroke="rgb(24,166,125)" stroke-width="2.2" stroke-linejoin="round"/><polygon points="184.63,71.31 182.19,74.46 176.9,74.17 174.33,70.72 176.93,67.8 181.94,68.1" fill="rgb(28,139,143)" stroke="rgb(28,139,143)" stroke-width="2.7" stroke-linejoin="round"/><polygon points="183.69,71.72 182.07,73.8 178.59,73.59 176.86,71.3 178.56,69.31 181.91,69.52" fill="rgb(26,175,131)" stroke="rgb(26,175,131)" stroke-width="3.64" stroke-linejoin="round"/><polygon points="185.1,83.54 182.38,87.67 176.72,87.43 174,83.02 176.85,79.04 182.3,79.31" fill="rgb(29,144,148)" stroke="rgb(29,144,148)" stroke-width="3.55" stroke-linejoin="round"/><polygon points="184.08,84.11 182.27,86.84 178.55,86.67 176.72,83.74 178.59,81.07 182.22,81.26" fill="rgb(27,179,134)" stroke="rgb(27,179,134)" stroke-width="4.8" stroke-linejoin="round"/><polygon points="185.23,98.55 182.29,103.34 176.42,103.13 173.59,98.11 176.62,93.4 182.38,93.63" fill="rgb(29,145,149)" stroke="rgb(29,145,149)" stroke-width="4.13" stroke-linejoin="round"/><polygon points="184.14,99.23 182.19,102.4 178.32,102.26 176.44,98.93 178.43,95.8 182.25,95.95" fill="rgb(27,181,135)" stroke="rgb(27,181,135)" stroke-width="5.57" stroke-linejoin="round"/><polygon points="185.02,115.14 181.94,120.21 176,120.06 173.15,114.81 176.26,109.75 182.18,109.93" fill="rgb(29,145,149)" stroke="rgb(29,145,149)" stroke-width="4.37" stroke-linejoin="round"/><polygon points="183.89,115.89 181.86,119.24 177.93,119.14 176.05,115.67 178.1,112.32 182.02,112.44" fill="rgb(27,181,135)" stroke="rgb(27,181,135)" stroke-width="5.9" stroke-linejoin="round"/><polygon points="184.48,132.01 181.37,136.94 175.52,136.85 172.71,131.79 175.82,126.78 181.74,126.91" fill="rgb(29,144,148)" stroke="rgb(29,144,148)" stroke-width="4.27" stroke-linejoin="round"/><polygon points="183.36,132.76 181.29,136.02 177.43,135.96 175.58,132.63 177.64,129.33 181.55,129.4" fill="rgb(27,180,135)" stroke="rgb(27,180,135)" stroke-width="5.77" stroke-linejoin="round"/><polygon points="183.67,147.82 180.6,152.23 175,152.19 172.3,147.71 175.32,143.15 181.09,143.23" fill="rgb(29,141,146)" stroke="rgb(29,141,146)" stroke-width="3.83" stroke-linejoin="round"/><polygon points="182.57,148.51 180.54,151.42 176.83,151.41 175.07,148.46 177.08,145.48 180.86,145.51" fill="rgb(27,177,132)" stroke="rgb(27,177,132)" stroke-width="5.17" stroke-linejoin="round"/><polygon points="182.63,161.31 179.7,164.84 174.48,164.86 171.95,161.32 174.79,157.57 180.26,157.59" fill="rgb(28,137,141)" stroke="rgb(28,137,141)" stroke-width="3.09" stroke-linejoin="round"/><polygon points="181.59,161.88 179.66,164.22 176.19,164.24 174.56,161.92 176.45,159.49 180.02,159.48" fill="rgb(25,172,129)" stroke="rgb(25,172,129)" stroke-width="4.17" stroke-linejoin="round"/><polygon points="181.43,171.41 178.71,173.78 174,173.85 171.69,171.52 174.29,168.9 179.32,168.86" fill="rgb(26,129,134)" stroke="rgb(26,129,134)" stroke-width="2.1" stroke-linejoin="round"/><polygon points="180.47,171.83 178.68,173.39 175.55,173.46 174.07,171.94 175.8,170.26 179.08,170.21" fill="rgb(24,164,123)" stroke="rgb(24,164,123)" stroke-width="2.83" stroke-linejoin="round"/><polygon points="180.12,177.32 177.69,178.35 173.59,178.46 171.55,177.53 173.83,176.23 178.31,176.14" fill="rgb(24,119,124)" stroke="rgb(24,119,124)" stroke-width="0.97" stroke-linejoin="round"/><polygon points="179.27,177.54 177.67,178.22 174.94,178.32 173.64,177.73 175.18,176.93 178.07,176.84" fill="rgb(21,153,115)" stroke="rgb(21,153,115)" stroke-width="1.31" stroke-linejoin="round"/><polygon points="193.42,62.21 192.14,63.11 187.91,62.28 185.32,60.51 186.87,59.86 190.73,60.73" fill="rgb(25,124,129)" stroke="rgb(25,124,129)" stroke-width="0.97" stroke-linejoin="round"/><polygon points="192.8,62.2 191.94,62.8 189.18,62.23 187.44,61.04 188.42,60.55 191.02,61.14" fill="rgb(22,159,119)" stroke="rgb(22,159,119)" stroke-width="1.31" stroke-linejoin="round"/><polygon points="195.78,68.31 194.07,70.57 189.31,69.85 186.56,66.81 188.51,64.76 192.96,65.55" fill="rgb(27,134,138)" stroke="rgb(27,134,138)" stroke-width="1.99" stroke-linejoin="round"/><polygon points="195.03,68.52 193.89,70.02 190.78,69.53 188.94,67.5 190.19,66.1 193.17,66.62" fill="rgb(25,169,126)" stroke="rgb(25,169,126)" stroke-width="2.69" stroke-linejoin="round"/><polygon points="197.55,78.46 195.45,81.88 190.27,81.31 187.43,77.23 189.74,73.96 194.69,74.62" fill="rgb(28,140,144)" stroke="rgb(28,140,144)" stroke-width="2.95" stroke-linejoin="round"/><polygon points="196.7,78.87 195.29,81.14 191.9,80.75 190.01,78.04 191.51,75.84 194.8,76.28" fill="rgb(26,175,131)" stroke="rgb(26,175,131)" stroke-width="3.98" stroke-linejoin="round"/><polygon points="198.67,91.85 196.22,96.15 190.75,95.74 187.89,90.93 190.52,86.72 195.83,87.22" fill="rgb(29,143,147)" stroke="rgb(29,143,147)" stroke-width="3.65" stroke-linejoin="round"/><polygon points="197.72,92.42 196.09,95.27 192.5,94.99 190.61,91.81 192.32,89 195.85,89.33" fill="rgb(27,179,134)" stroke="rgb(27,179,134)" stroke-width="4.93" stroke-linejoin="round"/><polygon points="199.09,107.4 196.36,112.23 190.74,112 187.94,106.84 190.81,102.02 196.35,102.35" fill="rgb(29,144,148)" stroke="rgb(29,144,148)" stroke-width="4.06" stroke-linejoin="round"/><polygon points="198.08,108.09 196.26,111.29 192.57,111.13 190.73,107.72 192.61,104.53 196.27,104.73" fill="rgb(27,180,135)" stroke="rgb(27,180,135)" stroke-width="5.48" stroke-linejoin="round"/><polygon points="198.81,123.87 195.86,128.83 190.26,128.79 187.58,123.68 190.61,118.65 196.23,118.8" fill="rgb(29,144,148)" stroke="rgb(29,144,148)" stroke-width="4.13" stroke-linejoin="round"/><polygon points="197.75,124.61 195.8,127.9 192.11,127.87 190.37,124.51 192.36,121.19 196.06,121.27" fill="rgb(27,180,134)" stroke="rgb(27,180,134)" stroke-width="5.58" stroke-linejoin="round"/><polygon points="197.84,139.94 194.78,144.63 189.34,144.78 186.84,140.13 189.95,135.28 195.5,135.24" fill="rgb(29,142,146)" stroke="rgb(29,142,146)" stroke-width="3.86" stroke-linejoin="round"/><polygon points="196.78,140.68 194.76,143.78 191.17,143.89 189.55,140.83 191.6,137.65 195.24,137.6" fill="rgb(27,177,133)" stroke="rgb(27,177,133)" stroke-width="5.22" stroke-linejoin="round"/><polygon points="196.26,154.31 193.18,158.37 188.04,158.7 185.78,154.87 188.87,150.59 194.21,150.37" fill="rgb(28,138,142)" stroke="rgb(28,138,142)" stroke-width="3.28" stroke-linejoin="round"/><polygon points="195.22,154.99 193.18,157.67 189.79,157.9 188.35,155.39 190.39,152.61 193.87,152.43" fill="rgb(26,173,130)" stroke="rgb(26,173,130)" stroke-width="4.42" stroke-linejoin="round"/><polygon points="194.14,165.85 191.13,168.94 186.43,169.43 184.46,166.73 187.44,163.37 192.42,162.97" fill="rgb(27,131,136)" stroke="rgb(27,131,136)" stroke-width="2.42" stroke-linejoin="round"/><polygon points="193.16,166.4 191.17,168.45 188.06,168.78 186.81,167.03 188.79,164.87 192.02,164.57" fill="rgb(24,167,125)" stroke="rgb(24,167,125)" stroke-width="3.26" stroke-linejoin="round"/><polygon points="191.61,173.6 188.76,175.49 184.6,176.11 182.95,174.77 185.73,172.59 190.23,172.04" fill="rgb(25,123,127)" stroke="rgb(25,123,127)" stroke-width="1.36" stroke-linejoin="round"/><polygon points="190.7,174 188.82,175.25 186.06,175.68 185.04,174.82 186.89,173.44 189.79,173.05" fill="rgb(22,157,118)" stroke="rgb(22,157,118)" stroke-width="1.83" stroke-linejoin="round"/><polygon points="204.16,67.72 203.38,68.97 199.46,67.77 196.63,65.21 197.71,64.16 201.32,65.47" fill="rgb(25,126,130)" stroke="rgb(25,126,130)" stroke-width="1.07" stroke-linejoin="round"/><polygon points="203.66,67.72 203.13,68.55 200.58,67.74 198.7,66.04 199.37,65.29 201.78,66.16" fill="rgb(23,160,120)" stroke="rgb(23,160,120)" stroke-width="1.45" stroke-linejoin="round"/><polygon points="207.43,75.43 206.18,77.97 201.81,77 198.94,73.34 200.47,70.96 204.59,72.07" fill="rgb(27,134,138)" stroke="rgb(27,134,138)" stroke-width="2.08" stroke-linejoin="round"/><polygon points="206.81,75.66 205.96,77.35 203.12,76.68 201.23,74.26 202.19,72.64 204.93,73.38" fill="rgb(25,169,126)" stroke="rgb(25,169,126)" stroke-width="2.81" stroke-linejoin="round"/><polygon points="209.81,86.72 208.11,90.32 203.4,89.61 200.58,85.13 202.53,81.63 207.05,82.5" fill="rgb(28,139,143)" stroke="rgb(28,139,143)" stroke-width="2.89" stroke-linejoin="round"/><polygon points="209.08,87.15 207.93,89.53 204.86,89.04 203.02,86.09 204.27,83.75 207.26,84.31" fill="rgb(26,174,130)" stroke="rgb(26,174,130)" stroke-width="3.9" stroke-linejoin="round"/><polygon points="211.19,100.65 209.08,105 204.17,104.58 201.48,99.64 203.8,95.3 208.61,95.9" fill="rgb(29,141,145)" stroke="rgb(29,141,145)" stroke-width="3.43" stroke-linejoin="round"/><polygon points="210.37,101.24 208.96,104.12 205.75,103.83 204,100.57 205.5,97.7 208.66,98.07" fill="rgb(26,177,132)" stroke="rgb(26,177,132)" stroke-width="4.63" stroke-linejoin="round"/><polygon points="211.53,116.09 209.06,120.82 204.08,120.72 201.6,115.69 204.23,110.89 209.19,111.18" fill="rgb(29,141,146)" stroke="rgb(29,141,146)" stroke-width="3.66" stroke-linejoin="round"/><polygon points="210.64,116.78 208.99,119.91 205.74,119.84 204.13,116.54 205.85,113.37 209.1,113.53" fill="rgb(27,177,132)" stroke="rgb(27,177,132)" stroke-width="4.94" stroke-linejoin="round"/><polygon points="210.81,131.77 208.07,136.49 203.17,136.71 200.95,132.01 203.82,127.12 208.78,127.1" fill="rgb(28,140,144)" stroke="rgb(28,140,144)" stroke-width="3.57" stroke-linejoin="round"/><polygon points="209.88,132.5 208.06,135.64 204.85,135.77 203.43,132.69 205.31,129.49 208.55,129.44" fill="rgb(26,176,131)" stroke="rgb(26,176,131)" stroke-width="4.81" stroke-linejoin="round"/><polygon points="209.1,146.41 206.17,150.75 201.49,151.26 199.58,147.26 202.59,142.7 207.42,142.36" fill="rgb(28,137,141)" stroke="rgb(28,137,141)" stroke-width="3.15" stroke-linejoin="round"/><polygon points="208.15,147.13 206.21,150.01 203.14,150.35 201.93,147.74 203.91,144.76 207.06,144.5" fill="rgb(25,172,129)" stroke="rgb(25,172,129)" stroke-width="4.25" stroke-linejoin="round"/><polygon points="206.47,158.81 203.46,162.41 199.12,163.21 197.56,160.24 200.63,156.35 205.19,155.72" fill="rgb(27,132,136)" stroke="rgb(27,132,136)" stroke-width="2.45" stroke-linejoin="round"/><polygon points="205.55,159.47 203.56,161.86 200.7,162.39 199.73,160.46 201.75,157.95 204.71,157.49" fill="rgb(24,167,125)" stroke="rgb(24,167,125)" stroke-width="3.3" stroke-linejoin="round"/><polygon points="203.08,167.96 200.09,170.54 196.2,171.58 195.01,169.89 198.02,166.99 202.2,166.09" fill="rgb(25,124,129)" stroke="rgb(25,124,129)" stroke-width="1.52" stroke-linejoin="round"/><polygon points="202.2,168.5 200.22,170.21 197.66,170.91 196.95,169.82 198.94,167.97 201.63,167.34" fill="rgb(22,159,119)" stroke="rgb(22,159,119)" stroke-width="2.05" stroke-linejoin="round"/><polygon points="213.96,74.77 213.73,76.31 210.44,74.88 207.63,71.73 208.2,70.35 211.23,71.96" fill="rgb(25,124,129)" stroke="rgb(25,124,129)" stroke-width="1.02" stroke-linejoin="round"/><polygon points="213.63,74.79 213.46,75.82 211.33,74.85 209.49,72.77 209.81,71.81 211.82,72.86" fill="rgb(22,159,119)" stroke="rgb(22,159,119)" stroke-width="1.38" stroke-linejoin="round"/><polygon points="217.76,83.6 217.01,86.32 213.37,85.23 210.67,81.2 211.72,78.57 215.16,79.88" fill="rgb(26,131,136)" stroke="rgb(26,131,136)" stroke-width="1.88" stroke-linejoin="round"/><polygon points="217.3,83.84 216.79,85.65 214.43,84.91 212.68,82.26 213.32,80.49 215.59,81.33" fill="rgb(24,166,125)" stroke="rgb(24,166,125)" stroke-width="2.54" stroke-linejoin="round"/><polygon points="220.35,95.43 219.1,99.09 215.21,98.38 212.7,93.78 214.23,90.15 217.98,91.09" fill="rgb(27,135,140)" stroke="rgb(27,135,140)" stroke-width="2.52" stroke-linejoin="round"/><polygon points="219.79,95.87 218.94,98.29 216.42,97.81 214.8,94.79 215.77,92.37 218.23,92.96" fill="rgb(25,171,128)" stroke="rgb(25,171,128)" stroke-width="3.41" stroke-linejoin="round"/><polygon points="221.62,109.27 219.89,113.53 215.88,113.25 213.65,108.44 215.61,104.12 219.57,104.66" fill="rgb(28,137,141)" stroke="rgb(28,137,141)" stroke-width="2.89" stroke-linejoin="round"/><polygon points="220.97,109.85 219.81,112.68 217.2,112.48 215.77,109.33 217.03,106.47 219.62,106.79" fill="rgb(25,172,129)" stroke="rgb(25,172,129)" stroke-width="3.91" stroke-linejoin="round"/><polygon points="221.52,123.94 219.38,128.45 215.37,128.6 213.47,123.98 215.82,119.32 219.85,119.43" fill="rgb(28,137,141)" stroke="rgb(28,137,141)" stroke-width="2.96" stroke-linejoin="round"/><polygon points="220.8,124.63 219.37,127.62 216.76,127.7 215.56,124.68 217.08,121.63 219.7,121.66" fill="rgb(25,172,129)" stroke="rgb(25,172,129)" stroke-width="3.99" stroke-linejoin="round"/><polygon points="220.07,138.22 217.6,142.59 213.71,143.17 212.2,139.12 214.85,134.52 218.83,134.2" fill="rgb(27,134,139)" stroke="rgb(27,134,139)" stroke-width="2.71" stroke-linejoin="round"/><polygon points="219.31,138.95 217.66,141.85 215.13,142.22 214.2,139.58 215.92,136.58 218.49,136.32" fill="rgb(25,169,127)" stroke="rgb(25,169,127)" stroke-width="3.67" stroke-linejoin="round"/><polygon points="217.36,150.9 214.65,154.78 211,155.76 209.91,152.61 212.76,148.44 216.56,147.7" fill="rgb(26,130,134)" stroke="rgb(26,130,134)" stroke-width="2.18" stroke-linejoin="round"/><polygon points="216.58,151.61 214.77,154.19 212.39,154.83 211.75,152.79 213.61,150.08 216.06,149.55" fill="rgb(24,165,124)" stroke="rgb(24,165,124)" stroke-width="2.95" stroke-linejoin="round"/><polygon points="213.52,160.91 210.67,163.99 207.38,165.31 206.72,163.35 209.67,159.94 213.19,158.83" fill="rgb(25,123,128)" stroke="rgb(25,123,128)" stroke-width="1.41" stroke-linejoin="round"/><polygon points="212.75,161.55 210.86,163.59 208.71,164.47 208.35,163.21 210.29,161.02 212.54,160.24" fill="rgb(22,158,118)" stroke="rgb(22,158,118)" stroke-width="1.9" stroke-linejoin="round"/><polygon points="208.76,167.39 205.88,169.43 203.03,171.03 202.78,170.44 205.74,168.06 208.87,166.62" fill="rgb(23,114,119)" stroke="rgb(23,114,119)" stroke-width="0.97" stroke-linejoin="round"/><polygon points="208.03,167.91 206.12,169.26 204.25,170.33 204.17,169.98 206.12,168.48 208.1,167.48" fill="rgb(20,148,111)" stroke="rgb(20,148,111)" stroke-width="1.31" stroke-linejoin="round"/><polygon points="221.91,82.76 222.25,84.5 219.88,82.99 217.37,79.48 217.37,77.85 219.55,79.61" fill="rgb(24,121,126)" stroke="rgb(24,121,126)" stroke-width="0.97" stroke-linejoin="round"/><polygon points="221.78,82.8 221.98,83.96 220.47,82.94 218.84,80.64 218.79,79.53 220.21,80.66" fill="rgb(22,155,117)" stroke="rgb(22,155,117)" stroke-width="1.31" stroke-linejoin="round"/><polygon points="225.84,92.14 225.61,94.95 222.99,93.88 220.73,89.73 221.27,86.97 223.75,88.31" fill="rgb(25,127,131)" stroke="rgb(25,127,131)" stroke-width="1.42" stroke-linejoin="round"/><polygon points="225.59,92.41 225.42,94.27 223.74,93.54 222.29,90.83 222.59,88.98 224.21,89.83" fill="rgb(23,161,121)" stroke="rgb(23,161,121)" stroke-width="1.92" stroke-linejoin="round"/><polygon points="228.26,103.92 227.48,107.51 224.69,106.95 222.77,102.49 223.83,98.85 226.54,99.71" fill="rgb(26,130,134)" stroke="rgb(26,130,134)" stroke-width="1.89" stroke-linejoin="round"/><polygon points="227.9,104.36 227.37,106.75 225.58,106.36 224.36,103.45 225.02,101.03 226.77,101.56" fill="rgb(24,165,124)" stroke="rgb(24,165,124)" stroke-width="2.55" stroke-linejoin="round"/><polygon points="229.07,117.04 227.77,121.1 224.92,121.07 223.4,116.67 224.96,112.47 227.79,112.82" fill="rgb(26,131,135)" stroke="rgb(26,131,135)" stroke-width="2.09" stroke-linejoin="round"/><polygon points="228.63,117.63 227.75,120.32 225.92,120.29 224.97,117.42 225.96,114.66 227.79,114.84" fill="rgb(24,166,124)" stroke="rgb(24,166,124)" stroke-width="2.82" stroke-linejoin="round"/><polygon points="228.25,130.37 226.48,134.54 223.68,135.05 222.61,131.07 224.61,126.68 227.45,126.49" fill="rgb(26,129,134)" stroke="rgb(26,129,134)" stroke-width="2.01" stroke-linejoin="round"/><polygon points="227.73,131.05 226.55,133.81 224.74,134.13 224.11,131.55 225.39,128.68 227.21,128.5" fill="rgb(24,164,123)" stroke="rgb(24,164,123)" stroke-width="2.71" stroke-linejoin="round"/><polygon points="225.84,142.74 223.69,146.66 221.05,147.67 220.45,144.46 222.8,140.26 225.55,139.54" fill="rgb(25,126,130)" stroke="rgb(25,126,130)" stroke-width="1.65" stroke-linejoin="round"/><polygon points="225.28,143.44 223.84,146.05 222.13,146.71 221.82,144.63 223.34,141.9 225.1,141.37" fill="rgb(23,160,120)" stroke="rgb(23,160,120)" stroke-width="2.23" stroke-linejoin="round"/><polygon points="221.99,153.05 219.55,156.4 217.15,157.87 217.04,155.73 219.65,152.04 222.2,150.84" fill="rgb(24,120,125)" stroke="rgb(24,120,125)" stroke-width="1.04" stroke-linejoin="round"/><polygon points="221.4,153.73 219.77,155.96 218.23,156.92 218.23,155.55 219.93,153.18 221.55,152.33" fill="rgb(21,154,116)" stroke="rgb(21,154,116)" stroke-width="1.41" stroke-linejoin="round"/><polygon points="230.9,100.42 231.19,103.19 229.8,102.3 228.21,98.28 228.23,95.48 229.53,96.72" fill="rgb(24,119,124)" stroke="rgb(24,119,124)" stroke-width="0.97" stroke-linejoin="round"/><polygon points="230.87,100.7 231.04,102.54 230.18,101.93 229.19,99.31 229.16,97.45 229.97,98.22" fill="rgb(21,154,116)" stroke="rgb(21,154,116)" stroke-width="1.31" stroke-linejoin="round"/><polygon points="232.82,111.56 232.51,114.97 231.03,114.68 229.9,110.6 230.49,107.07 231.93,107.73" fill="rgb(24,122,126)" stroke="rgb(24,122,126)" stroke-width="1.03" stroke-linejoin="round"/><polygon points="232.68,112.01 232.46,114.28 231.54,114.06 230.86,111.41 231.21,109.09 232.11,109.47" fill="rgb(22,156,117)" stroke="rgb(22,156,117)" stroke-width="1.4" stroke-linejoin="round"/><polygon points="232.89,123.42 232.03,127.16 230.54,127.49 229.91,123.7 231.04,119.75 232.54,119.8" fill="rgb(24,122,126)" stroke="rgb(24,122,126)" stroke-width="1.09" stroke-linejoin="round"/><polygon points="232.67,124 232.08,126.49 231.15,126.68 230.81,124.23 231.52,121.65 232.45,121.62" fill="rgb(22,156,117)" stroke="rgb(22,156,117)" stroke-width="1.47" stroke-linejoin="round"/><polygon points="231.14,134.92 229.76,138.64 228.35,139.57 228.26,136.42 229.87,132.41 231.34,131.84" fill="rgb(24,119,124)" stroke="rgb(24,119,124)" stroke-width="0.97" stroke-linejoin="round"/><polygon points="230.84,135.57 229.92,138.05 229.03,138.65 229.05,136.61 230.08,134.01 230.99,133.57" fill="rgb(21,153,115)" stroke="rgb(21,153,115)" stroke-width="1.31" stroke-linejoin="round"/><polygon points="227.65,144.98 225.86,148.37 224.6,149.85 225.03,147.63 227.05,143.91 228.41,142.75" fill="rgb(23,114,119)" stroke="rgb(23,114,119)" stroke-width="0.97" stroke-linejoin="round"/><polygon points="227.3,145.66 226.1,147.91 225.31,148.88 225.68,147.46 226.98,145.06 227.81,144.23" fill="rgb(20,148,112)" stroke="rgb(20,148,112)" stroke-width="1.31" stroke-linejoin="round"/><circle cx="173.2" cy="118.4" r="60.6" fill="url(#gvig)"/></g>
<g filter="url(#blur1)"><polyline fill="none" stroke="#e8d4f2" stroke-width="0.6" stroke-opacity="0.3" stroke-linejoin="round" points="112,122 118.24,122.44 124.16,121.54 129.37,117.66 134.94,115.33 140.57,113.2 146.97,114.29 153.2,114.68 157.88,108.64 164.59,111.03 169.8,107.16"/><polyline fill="none" stroke="#e8d4f2" stroke-width="0.6" stroke-opacity="0.3" stroke-linejoin="round" points="170,108 176.82,106.98 183.4,107.98 189.66,111.51 196.53,110.14 203.1,111.14 209.51,113.51 216.49,111.25 222.63,115.78 229.67,112.95 236,116.02"/><polyline fill="none" stroke="#e8d4f2" stroke-width="0.5" stroke-opacity="0.25" stroke-linejoin="round" points="120,135 126.02,135.69 131.73,137.32 136.83,140.77 142.6,142.2 148.32,143.79 153.89,145.84 159.33,148.26 165.16,149.52"/></g>
<circle cx="112.77" cy="114.48" r="1.3" fill="url(#gyel)"/><circle cx="113.04" cy="120.21" r="1.3" fill="url(#gyel)"/><circle cx="113.04" cy="125.55" r="1.3" fill="url(#gyel)"/><circle cx="114.41" cy="103.68" r="1.3" fill="url(#gyel)"/><circle cx="114.22" cy="131.56" r="1.3" fill="url(#gyel)"/><circle cx="116.26" cy="97.8" r="1.3" fill="url(#gyel)"/><circle cx="116.83" cy="127.29" r="1.3" fill="url(#gyel)"/><circle cx="118.09" cy="96.1" r="1.3" fill="url(#gyel)"/><circle cx="118.63" cy="139.57" r="1.3" fill="url(#gyel)"/><circle cx="120.94" cy="114.06" r="1.49" fill="url(#gyel)"/><circle cx="121" cy="128.12" r="1.46" fill="url(#gyel)"/><circle cx="122.36" cy="100.29" r="1.42" fill="url(#gyel)"/><circle cx="122.03" cy="149.9" r="1.3" fill="url(#gyel)"/><circle cx="124.16" cy="135.49" r="1.51" fill="url(#gyel)"/><circle cx="125.79" cy="80.84" r="1.3" fill="url(#gyel)"/><circle cx="126.14" cy="93.25" r="1.45" fill="url(#gyel)"/><circle cx="126.28" cy="148.14" r="1.33" fill="url(#gyel)"/><circle cx="125.57" cy="152.39" r="1.3" fill="url(#gyel)"/><circle cx="130.34" cy="106.46" r="1.73" fill="url(#gyel)"/><circle cx="129.7" cy="158.2" r="1.3" fill="url(#gyel)"/><circle cx="129.87" cy="160.52" r="1.3" fill="url(#gyel)"/><circle cx="132.15" cy="92.14" r="1.62" fill="url(#gyel)"/><circle cx="131.99" cy="149.95" r="1.51" fill="url(#gyel)"/><circle cx="133.44" cy="114.07" r="1.82" fill="url(#gyel)"/><circle cx="133.35" cy="129.63" r="1.79" fill="url(#gyel)"/><circle cx="133.8" cy="73.24" r="1.3" fill="url(#gyel)"/><circle cx="134.26" cy="164.81" r="1.3" fill="url(#gyel)"/><circle cx="135.03" cy="79.94" r="1.41" fill="url(#gyel)"/><circle cx="134.61" cy="98.81" r="1.76" fill="url(#gyel)"/><circle cx="134.86" cy="160.61" r="1.3" fill="url(#gyel)"/><circle cx="139.5" cy="165.85" r="1.3" fill="url(#gyel)"/><circle cx="138.73" cy="167.71" r="1.3" fill="url(#gyel)"/><circle cx="143.33" cy="65.69" r="1.3" fill="url(#gyel)"/><circle cx="143.39" cy="171.11" r="1.3" fill="url(#gyel)"/><circle cx="143.71" cy="66.61" r="1.3" fill="url(#gyel)"/><circle cx="146.54" cy="152.82" r="1.75" fill="url(#gyel)"/><circle cx="149.26" cy="77.42" r="1.66" fill="url(#gyel)"/><circle cx="153.36" cy="175.66" r="1.3" fill="url(#gyel)"/><circle cx="154.59" cy="61.54" r="1.3" fill="url(#gyel)"/><circle cx="161.2" cy="60.3" r="1.3" fill="url(#gyel)"/><circle cx="160.53" cy="170.73" r="1.42" fill="url(#gyel)"/><circle cx="161.73" cy="176.68" r="1.3" fill="url(#gyel)"/><circle cx="163.9" cy="62.47" r="1.3" fill="url(#gyel)"/><circle cx="165.45" cy="58.51" r="1.3" fill="url(#gyel)"/><circle cx="168.74" cy="177.41" r="1.3" fill="url(#gyel)"/><circle cx="172.05" cy="58.11" r="1.3" fill="url(#gyel)"/><circle cx="174.41" cy="106.37" r="2.08" fill="url(#gyel)"/><circle cx="175.4" cy="59.6" r="1.3" fill="url(#gyel)"/><circle cx="175.11" cy="76.48" r="1.78" fill="url(#gyel)"/><circle cx="178.77" cy="178.6" r="1.3" fill="url(#gyel)"/><circle cx="180" cy="174.98" r="1.3" fill="url(#gyel)"/><circle cx="181.17" cy="166.88" r="1.61" fill="url(#gyel)"/><circle cx="182.55" cy="60.14" r="1.3" fill="url(#gyel)"/><circle cx="182.86" cy="177.07" r="1.3" fill="url(#gyel)"/><circle cx="183.77" cy="123.61" r="2.08" fill="url(#gyel)"/><circle cx="185.24" cy="59.2" r="1.3" fill="url(#gyel)"/><circle cx="186.05" cy="161.19" r="1.73" fill="url(#gyel)"/><circle cx="187.31" cy="147.77" r="1.93" fill="url(#gyel)"/><circle cx="188.25" cy="132.05" r="2.04" fill="url(#gyel)"/><circle cx="188.81" cy="115.26" r="2.06" fill="url(#gyel)"/><circle cx="191.43" cy="60.66" r="1.3" fill="url(#gyel)"/><circle cx="193.94" cy="64.54" r="1.3" fill="url(#gyel)"/><circle cx="194.27" cy="173.05" r="1.3" fill="url(#gyel)"/><circle cx="195.89" cy="62.94" r="1.3" fill="url(#gyel)"/><circle cx="197.13" cy="165.41" r="1.47" fill="url(#gyel)"/><circle cx="198.1" cy="115.57" r="2" fill="url(#gyel)"/><circle cx="198.61" cy="68.94" r="1.32" fill="url(#gyel)"/><circle cx="201.13" cy="172.16" r="1.3" fill="url(#gyel)"/><circle cx="202.28" cy="123.91" r="1.96" fill="url(#gyel)"/><circle cx="205.25" cy="70.86" r="1.3" fill="url(#gyel)"/><circle cx="206.35" cy="68.68" r="1.3" fill="url(#gyel)"/><circle cx="210.38" cy="166.26" r="1.3" fill="url(#gyel)"/><circle cx="211.22" cy="71.42" r="1.3" fill="url(#gyel)"/><circle cx="210.75" cy="164.9" r="1.3" fill="url(#gyel)"/><circle cx="211.91" cy="146.04" r="1.65" fill="url(#gyel)"/><circle cx="214.06" cy="101.03" r="1.73" fill="url(#gyel)"/><circle cx="215.48" cy="78.5" r="1.3" fill="url(#gyel)"/><circle cx="215.02" cy="156.5" r="1.3" fill="url(#gyel)"/><circle cx="215.39" cy="160" r="1.3" fill="url(#gyel)"/><circle cx="215.67" cy="75.88" r="1.3" fill="url(#gyel)"/><circle cx="219.15" cy="78.9" r="1.3" fill="url(#gyel)"/><circle cx="219.7" cy="84.47" r="1.3" fill="url(#gyel)"/><circle cx="220.34" cy="131.25" r="1.62" fill="url(#gyel)"/><circle cx="222.97" cy="83.91" r="1.3" fill="url(#gyel)"/><circle cx="223.18" cy="152.09" r="1.3" fill="url(#gyel)"/><circle cx="223.71" cy="86.83" r="1.3" fill="url(#gyel)"/><circle cx="227.06" cy="92.99" r="1.3" fill="url(#gyel)"/><circle cx="226.86" cy="97.62" r="1.3" fill="url(#gyel)"/><circle cx="228.45" cy="123.77" r="1.33" fill="url(#gyel)"/><circle cx="229.14" cy="95.21" r="1.3" fill="url(#gyel)"/><circle cx="229.45" cy="140.38" r="1.3" fill="url(#gyel)"/><circle cx="229.6" cy="104.41" r="1.3" fill="url(#gyel)"/><circle cx="230.47" cy="117.16" r="1.3" fill="url(#gyel)"/><circle cx="229.63" cy="130.11" r="1.3" fill="url(#gyel)"/><circle cx="231.29" cy="101.14" r="1.3" fill="url(#gyel)"/><circle cx="231.93" cy="105.69" r="1.3" fill="url(#gyel)"/><circle cx="232.08" cy="129.37" r="1.3" fill="url(#gyel)"/><circle cx="231.59" cy="134.38" r="1.3" fill="url(#gyel)"/><circle cx="233.27" cy="111.87" r="1.3" fill="url(#gyel)"/><circle cx="232.92" cy="117.44" r="1.3" fill="url(#gyel)"/><circle cx="233.37" cy="123.31" r="1.3" fill="url(#gyel)"/>
<circle cx="160.9" cy="68.2" r="3.28" fill="url(#gblu)"/>
<circle cx="208.7" cy="74.6" r="3.28" fill="url(#gblu)"/>
<circle cx="183.7" cy="91" r="4.07" fill="url(#gblu)"/>
<circle cx="212.2" cy="87.6" r="3.73" fill="url(#gblu)"/>
<circle cx="136.9" cy="100.2" r="3.84" fill="url(#gblu)"/>
<circle cx="203" cy="113.4" r="4.41" fill="url(#gblu)"/>
<circle cx="139.2" cy="120.7" r="4.07" fill="url(#gblu)"/>
<circle cx="199.6" cy="125.9" r="3.84" fill="url(#gblu)"/>
<circle cx="118.7" cy="128.7" r="3.39" fill="url(#gblu)"/>
<circle cx="227" cy="124.1" r="3.16" fill="url(#gblu)"/>
<circle cx="187.1" cy="141.2" r="4.18" fill="url(#gblu)"/>
<circle cx="214.4" cy="140.7" r="3.73" fill="url(#gblu)"/>
<circle cx="139.2" cy="156" r="3.73" fill="url(#gblu)"/>
<circle cx="173.4" cy="162.2" r="4.18" fill="url(#gblu)"/>
<circle cx="201.9" cy="167.4" r="3.5" fill="url(#gblu)"/>
<circle cx="144.9" cy="170.2" r="3.05" fill="url(#gblu)"/>
<circle cx="174.5" cy="176.1" r="3.05" fill="url(#gblu)"/>
<circle cx="221.3" cy="155.6" r="1.81" fill="url(#gblu)"/>
<polyline fill="none" stroke="#111" stroke-width="1.5" points="109.8,27 109.8,58 132.5,66.5"/>
<path d="M109.8,22.2 L112.9,29.2 L106.7,29.2 Z" fill="#111"/>
<polyline fill="none" stroke="#111" stroke-width="1.5" points="213.5,166.6 234.6,173.8 234.6,205"/>
<path d="M234.6,210.2 L231.5,203.2 L237.7,203.2 Z" fill="#111"/>
<text x="116.6" y="34.8" font-size="13.3" text-anchor="start" fill="#111" font-weight="bold"  >F-doped C and CEI:</text>
<text x="116.6" y="49" font-size="13.3" text-anchor="start" fill="#1878d2" font-weight="normal" stroke="#1878d2" stroke-width="0.22" >High electrical conduction</text>
<text x="93.9" y="195.6" font-size="13.3" text-anchor="start" fill="#111" font-weight="bold"  >Few antisited Li/Fe:</text>
<text x="93.9" y="211.5" font-size="13.3" text-anchor="start" fill="#1878d2" font-weight="normal" stroke="#1878d2" stroke-width="0.22" >Fast Li diffusion in LFP</text>
<rect x="336" y="26.9" width="204" height="151.7" fill="none" stroke="#303030" stroke-width="1.1"/>
<line x1="353" y1="178.6" x2="353" y2="180.3" stroke="#303030" stroke-width="0.9" />
<line x1="387" y1="178.6" x2="387" y2="180.3" stroke="#303030" stroke-width="0.9" />
<line x1="421" y1="178.6" x2="421" y2="180.3" stroke="#303030" stroke-width="0.9" />
<line x1="455" y1="178.6" x2="455" y2="180.3" stroke="#303030" stroke-width="0.9" />
<line x1="489" y1="178.6" x2="489" y2="180.3" stroke="#303030" stroke-width="0.9" />
<line x1="523" y1="178.6" x2="523" y2="180.3" stroke="#303030" stroke-width="0.9" />
<line x1="336" y1="178.6" x2="336" y2="181.6" stroke="#303030" stroke-width="1.1" />
<text x="336" y="190.1" font-size="8.2" text-anchor="middle" fill="#141414" font-weight="normal" stroke="#141414" stroke-width="0.22" >-0.6</text>
<line x1="370" y1="178.6" x2="370" y2="181.6" stroke="#303030" stroke-width="1.1" />
<text x="370" y="190.1" font-size="8.2" text-anchor="middle" fill="#141414" font-weight="normal" stroke="#141414" stroke-width="0.22" >-0.4</text>
<line x1="404" y1="178.6" x2="404" y2="181.6" stroke="#303030" stroke-width="1.1" />
<text x="404" y="190.1" font-size="8.2" text-anchor="middle" fill="#141414" font-weight="normal" stroke="#141414" stroke-width="0.22" >-0.2</text>
<line x1="438" y1="178.6" x2="438" y2="181.6" stroke="#303030" stroke-width="1.1" />
<text x="438" y="190.1" font-size="8.2" text-anchor="middle" fill="#141414" font-weight="normal" stroke="#141414" stroke-width="0.22" >0.0</text>
<line x1="472" y1="178.6" x2="472" y2="181.6" stroke="#303030" stroke-width="1.1" />
<text x="472" y="190.1" font-size="8.2" text-anchor="middle" fill="#141414" font-weight="normal" stroke="#141414" stroke-width="0.22" >0.2</text>
<line x1="506" y1="178.6" x2="506" y2="181.6" stroke="#303030" stroke-width="1.1" />
<text x="506" y="190.1" font-size="8.2" text-anchor="middle" fill="#141414" font-weight="normal" stroke="#141414" stroke-width="0.22" >0.4</text>
<line x1="540" y1="178.6" x2="540" y2="181.6" stroke="#303030" stroke-width="1.1" />
<text x="540" y="190.1" font-size="8.2" text-anchor="middle" fill="#141414" font-weight="normal" stroke="#141414" stroke-width="0.22" >0.6</text>
<line x1="336" y1="165.96" x2="334.3" y2="165.96" stroke="#303030" stroke-width="0.9" />
<line x1="336" y1="140.68" x2="334.3" y2="140.68" stroke="#303030" stroke-width="0.9" />
<line x1="336" y1="115.39" x2="334.3" y2="115.39" stroke="#303030" stroke-width="0.9" />
<line x1="336" y1="90.11" x2="334.3" y2="90.11" stroke="#303030" stroke-width="0.9" />
<line x1="336" y1="64.82" x2="334.3" y2="64.82" stroke="#303030" stroke-width="0.9" />
<line x1="336" y1="39.54" x2="334.3" y2="39.54" stroke="#303030" stroke-width="0.9" />
<line x1="336" y1="178.6" x2="333" y2="178.6" stroke="#303030" stroke-width="1.1" />
<text x="331.1" y="181.55" font-size="8.2" text-anchor="end" fill="#141414" font-weight="normal" stroke="#141414" stroke-width="0.22" >-0.003</text>
<line x1="336" y1="153.32" x2="333" y2="153.32" stroke="#303030" stroke-width="1.1" />
<text x="331.1" y="156.27" font-size="8.2" text-anchor="end" fill="#141414" font-weight="normal" stroke="#141414" stroke-width="0.22" >-0.002</text>
<line x1="336" y1="128.03" x2="333" y2="128.03" stroke="#303030" stroke-width="1.1" />
<text x="331.1" y="130.99" font-size="8.2" text-anchor="end" fill="#141414" font-weight="normal" stroke="#141414" stroke-width="0.22" >-0.001</text>
<line x1="336" y1="102.75" x2="333" y2="102.75" stroke="#303030" stroke-width="1.1" />
<text x="331.1" y="105.7" font-size="8.2" text-anchor="end" fill="#141414" font-weight="normal" stroke="#141414" stroke-width="0.22" >0.000</text>
<line x1="336" y1="77.47" x2="333" y2="77.47" stroke="#303030" stroke-width="1.1" />
<text x="331.1" y="80.42" font-size="8.2" text-anchor="end" fill="#141414" font-weight="normal" stroke="#141414" stroke-width="0.22" >0.001</text>
<line x1="336" y1="52.18" x2="333" y2="52.18" stroke="#303030" stroke-width="1.1" />
<text x="331.1" y="55.14" font-size="8.2" text-anchor="end" fill="#141414" font-weight="normal" stroke="#141414" stroke-width="0.22" >0.002</text>
<line x1="336" y1="26.9" x2="333" y2="26.9" stroke="#303030" stroke-width="1.1" />
<text x="331.1" y="29.85" font-size="8.2" text-anchor="end" fill="#141414" font-weight="normal" stroke="#141414" stroke-width="0.22" >0.003</text>
<polyline fill="none" stroke="#3a49e6" stroke-width="1" points="353,118.43 354.7,118.12 356.4,117.81 358.1,117.5 359.8,117.19 361.5,116.88 363.2,116.57 364.9,116.27 366.6,115.96 368.3,115.65 370,115.34 371.7,115.03 373.4,114.72 375.1,114.42 376.8,114.11 378.5,113.8 380.2,113.49 381.9,113.18 383.6,112.87 385.3,112.56 387,112.26 388.7,111.95 390.4,111.64 392.1,111.33 393.8,111.02 395.5,110.71 397.2,110.41 398.9,110.1 400.6,109.79 402.3,109.48 404,109.17 405.7,108.86 407.4,108.56 409.1,108.25 410.8,107.94 412.5,107.63 414.2,107.32 415.9,107.01 417.6,106.7 419.3,106.4 421,106.09 422.7,105.78 424.4,105.47 426.1,105.16 427.8,104.85 429.5,104.55 431.2,104.24 432.9,103.93 434.6,103.62 436.3,103.31 438,103 439.7,102.69 441.4,102.39 443.1,102.08 444.8,101.77 446.5,101.46 448.2,101.15 449.9,100.84 451.6,100.54 453.3,100.23 455,99.92 456.7,99.61 458.4,99.3 460.1,98.99 461.8,98.68 463.5,98.38 465.2,98.07 466.9,97.76 468.6,97.45 470.3,97.14 472,96.83 473.7,96.53 475.4,96.22 477.1,95.91 478.8,95.6 480.5,95.29 482.2,94.98 483.9,94.67 485.6,94.37 487.3,94.06 489,93.75 490.7,93.44 492.4,93.13 494.1,92.82 495.8,92.52 497.5,92.21 499.2,91.9 500.9,91.59 502.6,91.28 504.3,90.97 506,90.66 507.7,90.36 509.4,90.05 511.1,89.74 512.8,89.43 514.5,89.12 516.2,88.81 517.9,88.51 519.6,88.2 521.3,87.89 523,87.58"/>
<polyline fill="none" stroke="#f0403c" stroke-width="1" points="353,161.66 354.7,160.08 356.4,158.52 358.1,156.99 359.8,155.48 361.5,154.01 363.2,152.55 364.9,151.12 366.6,149.71 368.3,148.33 370,146.96 371.7,145.62 373.4,144.3 375.1,142.99 376.8,141.71 378.5,140.45 380.2,139.2 381.9,137.97 383.6,136.75 385.3,135.56 387,134.38 388.7,133.21 390.4,132.06 392.1,130.92 393.8,129.79 395.5,128.68 397.2,127.58 398.9,126.49 400.6,125.41 402.3,124.35 404,123.29 405.7,122.24 407.4,121.2 409.1,120.17 410.8,119.15 412.5,118.14 414.2,117.13 415.9,116.13 417.6,115.14 419.3,114.15 421,113.16 422.7,112.19 424.4,111.21 426.1,110.24 427.8,109.27 429.5,108.31 431.2,107.34 432.9,106.38 434.6,105.42 436.3,104.47 438,103.51 439.7,102.55 441.4,101.59 443.1,100.63 444.8,99.67 446.5,98.71 448.2,97.74 449.9,96.78 451.6,95.81 453.3,94.83 455,93.85 456.7,92.87 458.4,91.88 460.1,90.89 461.8,89.89 463.5,88.88 465.2,87.86 466.9,86.84 468.6,85.81 470.3,84.78 472,83.73 473.7,82.67 475.4,81.6 477.1,80.53 478.8,79.44 480.5,78.34 482.2,77.22 483.9,76.1 485.6,74.96 487.3,73.81 489,72.64 490.7,71.46 492.4,70.26 494.1,69.05 495.8,67.82 497.5,66.57 499.2,65.31 500.9,64.02 502.6,62.72 504.3,61.4 506,60.06 507.7,58.69 509.4,57.31 511.1,55.9 512.8,54.47 514.5,53.01 516.2,51.53 517.9,50.03 519.6,48.5 521.3,46.94 523,45.36"/>
<line x1="344" y1="36.4" x2="361.4" y2="36.4" stroke="#3a49e6" stroke-width="1" />
<line x1="344" y1="45.8" x2="361.4" y2="45.8" stroke="#f0403c" stroke-width="1" />
<text x="363.8" y="38.9" font-size="7.9" text-anchor="start" fill="#141414" font-weight="normal" stroke="#141414" stroke-width="0.22" >S-LFP</text>
<text x="363.8" y="48.4" font-size="7.9" text-anchor="start" fill="#141414" font-weight="normal" stroke="#141414" stroke-width="0.22" >R-HTS-S-LFP</text>
<text transform="translate(303.2,108.8) rotate(-90)" font-size="10.1" text-anchor="middle" fill="#141414" stroke="#141414" stroke-width="0.22" >Current (A)</text>
<text x="437.7" y="204.6" font-size="10.3" text-anchor="middle" fill="#141414" font-weight="normal" stroke="#141414" stroke-width="0.22" >Potential (V)</text>
<rect x="628.6" y="146.2" width="31" height="33.5" fill="url(#gpink)" stroke="#555" stroke-width="0.7"/>
<rect x="732" y="53.4" width="31" height="126.3" fill="url(#gblue)" stroke="#555" stroke-width="0.7"/>
<rect x="592.7" y="25.8" width="206.8" height="153.9" fill="none" stroke="#303030" stroke-width="1.1"/>
<line x1="592.7" y1="168.71" x2="591" y2="168.71" stroke="#303030" stroke-width="0.9" />
<line x1="592.7" y1="146.72" x2="591" y2="146.72" stroke="#303030" stroke-width="0.9" />
<line x1="592.7" y1="124.74" x2="591" y2="124.74" stroke="#303030" stroke-width="0.9" />
<line x1="592.7" y1="102.75" x2="591" y2="102.75" stroke="#303030" stroke-width="0.9" />
<line x1="592.7" y1="80.76" x2="591" y2="80.76" stroke="#303030" stroke-width="0.9" />
<line x1="592.7" y1="58.78" x2="591" y2="58.78" stroke="#303030" stroke-width="0.9" />
<line x1="592.7" y1="36.79" x2="591" y2="36.79" stroke="#303030" stroke-width="0.9" />
<line x1="592.7" y1="179.7" x2="589.7" y2="179.7" stroke="#303030" stroke-width="1.1" />
<text x="587.7" y="182.6" font-size="8.05" text-anchor="end" fill="#141414" font-weight="normal" stroke="#141414" stroke-width="0.22" >0.0</text>
<line x1="592.7" y1="157.71" x2="589.7" y2="157.71" stroke="#303030" stroke-width="1.1" />
<text x="587.7" y="160.61" font-size="8.05" text-anchor="end" fill="#141414" font-weight="normal" stroke="#141414" stroke-width="0.22" >2.0x10<tspan dy="-3.6" font-size="5">-4</tspan></text>
<line x1="592.7" y1="135.73" x2="589.7" y2="135.73" stroke="#303030" stroke-width="1.1" />
<text x="587.7" y="138.63" font-size="8.05" text-anchor="end" fill="#141414" font-weight="normal" stroke="#141414" stroke-width="0.22" >4.0x10<tspan dy="-3.6" font-size="5">-4</tspan></text>
<line x1="592.7" y1="113.74" x2="589.7" y2="113.74" stroke="#303030" stroke-width="1.1" />
<text x="587.7" y="116.64" font-size="8.05" text-anchor="end" fill="#141414" font-weight="normal" stroke="#141414" stroke-width="0.22" >6.0x10<tspan dy="-3.6" font-size="5">-4</tspan></text>
<line x1="592.7" y1="91.76" x2="589.7" y2="91.76" stroke="#303030" stroke-width="1.1" />
<text x="587.7" y="94.66" font-size="8.05" text-anchor="end" fill="#141414" font-weight="normal" stroke="#141414" stroke-width="0.22" >8.0x10<tspan dy="-3.6" font-size="5">-4</tspan></text>
<line x1="592.7" y1="69.77" x2="589.7" y2="69.77" stroke="#303030" stroke-width="1.1" />
<text x="587.7" y="72.67" font-size="8.05" text-anchor="end" fill="#141414" font-weight="normal" stroke="#141414" stroke-width="0.22" >1.0x10<tspan dy="-3.6" font-size="5">-3</tspan></text>
<line x1="592.7" y1="47.79" x2="589.7" y2="47.79" stroke="#303030" stroke-width="1.1" />
<text x="587.7" y="50.68" font-size="8.05" text-anchor="end" fill="#141414" font-weight="normal" stroke="#141414" stroke-width="0.22" >1.2x10<tspan dy="-3.6" font-size="5">-3</tspan></text>
<line x1="592.7" y1="25.8" x2="589.7" y2="25.8" stroke="#303030" stroke-width="1.1" />
<text x="587.7" y="28.7" font-size="8.05" text-anchor="end" fill="#141414" font-weight="normal" stroke="#141414" stroke-width="0.22" >1.4x10<tspan dy="-3.6" font-size="5">-3</tspan></text>
<line x1="644.4" y1="179.7" x2="644.4" y2="183" stroke="#303030" stroke-width="1.0" />
<line x1="747.6" y1="179.7" x2="747.6" y2="183" stroke="#303030" stroke-width="1.0" />
<line x1="696" y1="179.7" x2="696" y2="181.6" stroke="#303030" stroke-width="0.9" />
<text x="644.2" y="193" font-size="9.8" text-anchor="middle" fill="#141414" font-weight="normal" stroke="#141414" stroke-width="0.22" >S-LFP</text>
<text x="747.8" y="193" font-size="9.8" text-anchor="middle" fill="#141414" font-weight="normal" stroke="#141414" stroke-width="0.22" >R-HTS-S-LFP</text>
<line x1="614" y1="54.1" x2="748" y2="54.1" stroke="#111" stroke-width="1.3" stroke-dasharray="3.6 1.6"/>
<text x="731.4" y="45.9" font-size="7.9" text-anchor="start" fill="#141414" font-weight="normal" stroke="#141414" stroke-width="0.22" >1.150*10<tspan dy="-3.6" font-size="5">-3</tspan></text>
<text x="628.6" y="139.2" font-size="7.9" text-anchor="start" fill="#141414" font-weight="normal" stroke="#141414" stroke-width="0.22" >3.055*10<tspan dy="-3.6" font-size="5">-4</tspan></text>
<path d="M643,64.6 L648.6,72.3 L645.1,72.3 L645.1,118 L640.9,118 L640.9,72.3 L637.4,72.3 Z" fill="url(#garrow)"/>
<text x="653.2" y="85.2" font-size="13.2" text-anchor="start" fill="#b81414" font-weight="bold"  >~</text>
<text x="666.4" y="85.2" font-size="13.2" text-anchor="start" fill="#b81414" font-weight="bold"  >10X</text>
<text transform="translate(552.9,109.8) rotate(-90)" font-size="10.4" text-anchor="middle" fill="#141414" stroke="#141414" stroke-width="0.22" >Conductivity (S cm<tspan dy="-3.8" font-size="6.5">-1</tspan><tspan dy="3.8">)</tspan></text>
<clipPath id="clipd"><rect x="74.5" y="214.5" width="210.8" height="159.0"/></clipPath>
<g clip-path="url(#clipd)"><circle cx="79.95" cy="371.5" r="1.9" fill="url(#bd0)"/><circle cx="81.19" cy="370.88" r="1.9" fill="url(#bd0)"/><circle cx="82.05" cy="370.08" r="1.9" fill="url(#bd0)"/><circle cx="82.15" cy="368.96" r="1.9" fill="url(#bd0)"/><circle cx="82.24" cy="367.84" r="1.9" fill="url(#bd0)"/><circle cx="82.34" cy="366.72" r="1.9" fill="url(#bd0)"/><circle cx="82.44" cy="365.6" r="1.9" fill="url(#bd0)"/><circle cx="82.54" cy="364.48" r="1.9" fill="url(#bd0)"/><circle cx="82.63" cy="363.36" r="1.9" fill="url(#bd0)"/><circle cx="82.73" cy="362.24" r="1.9" fill="url(#bd0)"/><circle cx="82.83" cy="361.12" r="1.9" fill="url(#bd0)"/><circle cx="82.93" cy="360" r="1.9" fill="url(#bd0)"/><circle cx="83.02" cy="358.88" r="1.9" fill="url(#bd0)"/><circle cx="83.11" cy="357.76" r="1.9" fill="url(#bd0)"/><circle cx="83.18" cy="356.64" r="1.9" fill="url(#bd0)"/><circle cx="83.26" cy="355.52" r="1.9" fill="url(#bd0)"/><circle cx="83.34" cy="354.4" r="1.9" fill="url(#bd0)"/><circle cx="83.42" cy="353.27" r="1.9" fill="url(#bd0)"/><circle cx="83.49" cy="352.15" r="1.9" fill="url(#bd0)"/><circle cx="83.57" cy="351.03" r="1.9" fill="url(#bd0)"/><circle cx="83.65" cy="349.91" r="1.9" fill="url(#bd0)"/><circle cx="83.73" cy="348.79" r="1.9" fill="url(#bd0)"/><circle cx="83.81" cy="347.67" r="1.9" fill="url(#bd0)"/><circle cx="83.88" cy="346.55" r="1.9" fill="url(#bd0)"/><circle cx="83.96" cy="345.43" r="1.9" fill="url(#bd0)"/><circle cx="84.04" cy="344.3" r="1.9" fill="url(#bd0)"/><circle cx="84.11" cy="343.18" r="1.9" fill="url(#bd0)"/><circle cx="84.19" cy="342.06" r="1.9" fill="url(#bd0)"/><circle cx="84.26" cy="340.94" r="1.9" fill="url(#bd0)"/><circle cx="84.33" cy="339.82" r="1.9" fill="url(#bd0)"/><circle cx="84.41" cy="338.7" r="1.9" fill="url(#bd0)"/><circle cx="84.48" cy="337.58" r="1.9" fill="url(#bd0)"/><circle cx="84.56" cy="336.45" r="1.9" fill="url(#bd0)"/><circle cx="84.63" cy="335.33" r="1.9" fill="url(#bd0)"/><circle cx="85.05" cy="330.17" r="2.0" fill="url(#bd0)"/><circle cx="85.6" cy="323.97" r="2.0" fill="url(#bd0)"/><circle cx="86.15" cy="317.77" r="2.0" fill="url(#bd0)"/><circle cx="87.25" cy="323.97" r="2.0" fill="url(#bd0)"/><circle cx="87.94" cy="311.82" r="2.0" fill="url(#bd0)"/><circle cx="89.39" cy="307.43" r="2.0" fill="url(#bd0)"/><circle cx="90.56" cy="284.44" r="2.0" fill="url(#bd0)"/><circle cx="94.7" cy="243" r="2.0" fill="url(#bd0)"/><circle cx="79.26" cy="361.17" r="1.9" fill="url(#bd1)"/><circle cx="80.63" cy="360.48" r="1.9" fill="url(#bd1)"/><circle cx="81.42" cy="359.53" r="1.9" fill="url(#bd1)"/><circle cx="81.6" cy="358.3" r="1.9" fill="url(#bd1)"/><circle cx="81.78" cy="357.07" r="1.9" fill="url(#bd1)"/><circle cx="81.96" cy="355.84" r="1.9" fill="url(#bd1)"/><circle cx="82.14" cy="354.61" r="1.9" fill="url(#bd1)"/><circle cx="82.33" cy="353.38" r="1.9" fill="url(#bd1)"/><circle cx="82.51" cy="352.15" r="1.9" fill="url(#bd1)"/><circle cx="82.69" cy="350.92" r="1.9" fill="url(#bd1)"/><circle cx="82.82" cy="349.69" r="1.9" fill="url(#bd1)"/><circle cx="82.94" cy="348.46" r="1.9" fill="url(#bd1)"/><circle cx="83.07" cy="347.22" r="1.9" fill="url(#bd1)"/><circle cx="83.19" cy="345.99" r="1.9" fill="url(#bd1)"/><circle cx="83.31" cy="344.76" r="1.9" fill="url(#bd1)"/><circle cx="83.44" cy="343.53" r="1.9" fill="url(#bd1)"/><circle cx="83.56" cy="342.29" r="1.9" fill="url(#bd1)"/><circle cx="83.68" cy="341.06" r="1.9" fill="url(#bd1)"/><circle cx="83.81" cy="339.83" r="1.9" fill="url(#bd1)"/><circle cx="83.95" cy="338.59" r="1.9" fill="url(#bd1)"/><circle cx="84.09" cy="337.36" r="1.9" fill="url(#bd1)"/><circle cx="84.22" cy="336.13" r="1.9" fill="url(#bd1)"/><circle cx="84.36" cy="334.9" r="1.9" fill="url(#bd1)"/><circle cx="84.5" cy="333.66" r="1.9" fill="url(#bd1)"/><circle cx="84.63" cy="332.43" r="1.9" fill="url(#bd1)"/><circle cx="84.77" cy="331.2" r="1.9" fill="url(#bd1)"/><circle cx="85.46" cy="326.03" r="2.0" fill="url(#bd1)"/><circle cx="86.5" cy="321.38" r="2.0" fill="url(#bd1)"/><circle cx="92.98" cy="279.53" r="2.0" fill="url(#bd1)"/><circle cx="92.29" cy="266.31" r="2.0" fill="url(#bd1)"/><circle cx="96.15" cy="256.8" r="2.0" fill="url(#bd1)"/><circle cx="100.21" cy="228.02" r="2.0" fill="url(#bd1)"/><circle cx="78.91" cy="350.32" r="1.9" fill="url(#bd2)"/><circle cx="79.81" cy="349.51" r="1.9" fill="url(#bd2)"/><circle cx="80.69" cy="348.69" r="1.9" fill="url(#bd2)"/><circle cx="81.32" cy="347.74" r="1.9" fill="url(#bd2)"/><circle cx="81.95" cy="346.8" r="1.9" fill="url(#bd2)"/><circle cx="82.2" cy="345.77" r="1.9" fill="url(#bd2)"/><circle cx="82.41" cy="344.73" r="1.9" fill="url(#bd2)"/><circle cx="82.62" cy="343.69" r="1.9" fill="url(#bd2)"/><circle cx="82.83" cy="342.65" r="1.9" fill="url(#bd2)"/><circle cx="83.03" cy="341.6" r="1.9" fill="url(#bd2)"/><circle cx="83.21" cy="340.56" r="1.9" fill="url(#bd2)"/><circle cx="83.39" cy="339.51" r="1.9" fill="url(#bd2)"/><circle cx="83.56" cy="338.47" r="1.9" fill="url(#bd2)"/><circle cx="83.73" cy="337.42" r="1.9" fill="url(#bd2)"/><circle cx="83.91" cy="336.38" r="1.9" fill="url(#bd2)"/><circle cx="84.08" cy="335.33" r="1.9" fill="url(#bd2)"/><circle cx="98.01" cy="269.92" r="2.0" fill="url(#bd2)"/><circle cx="102.76" cy="251.12" r="2.0" fill="url(#bd2)"/><circle cx="108.07" cy="228.02" r="2.0" fill="url(#bd2)"/><circle cx="78.91" cy="340.5" r="1.55" fill="url(#bd3)"/><circle cx="80.17" cy="339.37" r="1.55" fill="url(#bd3)"/><circle cx="81.76" cy="339.31" r="1.55" fill="url(#bd3)"/><circle cx="83.27" cy="338.72" r="1.55" fill="url(#bd3)"/><circle cx="84.13" cy="337.44" r="1.55" fill="url(#bd3)"/><circle cx="84.78" cy="336.05" r="1.55" fill="url(#bd3)"/><circle cx="85.5" cy="334.69" r="1.55" fill="url(#bd3)"/><circle cx="86.29" cy="333.35" r="1.55" fill="url(#bd3)"/><circle cx="87.08" cy="332.01" r="1.55" fill="url(#bd3)"/><circle cx="87.99" cy="330.71" r="1.55" fill="url(#bd3)"/><circle cx="88.94" cy="329.43" r="1.55" fill="url(#bd3)"/><circle cx="90" cy="328.2" r="1.55" fill="url(#bd3)"/><circle cx="91.16" cy="327.02" r="1.55" fill="url(#bd3)"/><circle cx="92.34" cy="325.85" r="1.55" fill="url(#bd3)"/><circle cx="93.53" cy="324.69" r="1.55" fill="url(#bd3)"/><circle cx="94.76" cy="323.55" r="1.55" fill="url(#bd3)"/><circle cx="96" cy="322.41" r="1.55" fill="url(#bd3)"/><circle cx="97.17" cy="321.24" r="1.55" fill="url(#bd3)"/><circle cx="98.3" cy="320.04" r="1.55" fill="url(#bd3)"/><circle cx="99.42" cy="318.84" r="1.55" fill="url(#bd3)"/><circle cx="100.53" cy="317.63" r="1.55" fill="url(#bd3)"/><circle cx="101.63" cy="316.42" r="1.55" fill="url(#bd3)"/><circle cx="102.74" cy="315.21" r="1.55" fill="url(#bd3)"/><circle cx="103.71" cy="313.94" r="1.55" fill="url(#bd3)"/><circle cx="104.68" cy="312.67" r="1.55" fill="url(#bd3)"/><circle cx="105.65" cy="311.39" r="1.55" fill="url(#bd3)"/><circle cx="106.62" cy="310.12" r="1.55" fill="url(#bd3)"/><circle cx="109.11" cy="306.81" r="2.0" fill="url(#bd3)"/><circle cx="113.38" cy="302.63" r="2.0" fill="url(#bd3)"/><circle cx="117.72" cy="296.79" r="2.0" fill="url(#bd3)"/><circle cx="122" cy="290.18" r="2.0" fill="url(#bd3)"/><circle cx="126.75" cy="282.27" r="2.0" fill="url(#bd3)"/><circle cx="131.78" cy="272.92" r="2.0" fill="url(#bd3)"/><circle cx="137.85" cy="261.97" r="2.0" fill="url(#bd3)"/><circle cx="145.02" cy="248.79" r="2.0" fill="url(#bd3)"/><circle cx="153.36" cy="232.26" r="2.0" fill="url(#bd3)"/><circle cx="78.36" cy="330.17" r="1.9" fill="url(#bd4)"/><circle cx="78.88" cy="329.87" r="1.9" fill="url(#bd4)"/><circle cx="79.39" cy="329.58" r="1.9" fill="url(#bd4)"/><circle cx="79.91" cy="329.29" r="1.9" fill="url(#bd4)"/><circle cx="80.43" cy="328.99" r="1.9" fill="url(#bd4)"/><circle cx="81.02" cy="328.91" r="1.9" fill="url(#bd4)"/><circle cx="81.66" cy="328.97" r="1.9" fill="url(#bd4)"/><circle cx="82.31" cy="329.03" r="1.9" fill="url(#bd4)"/><circle cx="82.95" cy="329.09" r="1.9" fill="url(#bd4)"/><circle cx="83.57" cy="329.07" r="1.9" fill="url(#bd4)"/><circle cx="84.15" cy="328.85" r="1.9" fill="url(#bd4)"/><circle cx="84.73" cy="328.63" r="1.9" fill="url(#bd4)"/><circle cx="85.31" cy="328.41" r="1.9" fill="url(#bd4)"/><circle cx="85.89" cy="328.2" r="1.9" fill="url(#bd4)"/><circle cx="86.49" cy="328" r="1.9" fill="url(#bd4)"/><circle cx="87.1" cy="327.83" r="1.9" fill="url(#bd4)"/><circle cx="87.7" cy="327.66" r="1.9" fill="url(#bd4)"/><circle cx="88.31" cy="327.49" r="1.9" fill="url(#bd4)"/><circle cx="88.92" cy="327.32" r="1.9" fill="url(#bd4)"/><circle cx="89.47" cy="327.06" r="1.9" fill="url(#bd4)"/><circle cx="90.02" cy="326.81" r="1.9" fill="url(#bd4)"/><circle cx="90.57" cy="326.55" r="1.9" fill="url(#bd4)"/><circle cx="91.12" cy="326.29" r="1.9" fill="url(#bd4)"/><circle cx="91.67" cy="326.03" r="1.9" fill="url(#bd4)"/><circle cx="78.36" cy="319.57" r="1.55" fill="url(#bd5)"/><circle cx="79.42" cy="318.98" r="1.55" fill="url(#bd5)"/><circle cx="80.47" cy="318.38" r="1.55" fill="url(#bd5)"/><circle cx="81.68" cy="317.99" r="1.55" fill="url(#bd5)"/><circle cx="82.92" cy="317.64" r="1.55" fill="url(#bd5)"/><circle cx="84.16" cy="317.31" r="1.55" fill="url(#bd5)"/><circle cx="85.41" cy="316.98" r="1.55" fill="url(#bd5)"/><circle cx="86.66" cy="316.65" r="1.55" fill="url(#bd5)"/><circle cx="87.91" cy="316.32" r="1.55" fill="url(#bd5)"/><circle cx="89.16" cy="316" r="1.55" fill="url(#bd5)"/><circle cx="90.41" cy="315.66" r="1.55" fill="url(#bd5)"/><circle cx="91.63" cy="315.3" r="1.55" fill="url(#bd5)"/><circle cx="92.86" cy="314.93" r="1.55" fill="url(#bd5)"/><circle cx="94.09" cy="314.56" r="1.55" fill="url(#bd5)"/><circle cx="95.32" cy="314.19" r="1.55" fill="url(#bd5)"/><circle cx="96.55" cy="313.82" r="1.55" fill="url(#bd5)"/><circle cx="97.78" cy="313.45" r="1.55" fill="url(#bd5)"/><circle cx="99" cy="313.09" r="1.55" fill="url(#bd5)"/><circle cx="100.23" cy="312.72" r="1.55" fill="url(#bd5)"/><circle cx="101.46" cy="312.35" r="1.55" fill="url(#bd5)"/><circle cx="102.69" cy="311.98" r="1.55" fill="url(#bd5)"/><circle cx="103.92" cy="311.61" r="1.55" fill="url(#bd5)"/><circle cx="105.16" cy="311.28" r="1.55" fill="url(#bd5)"/><circle cx="106.41" cy="310.94" r="1.55" fill="url(#bd5)"/><circle cx="107.65" cy="310.61" r="1.55" fill="url(#bd5)"/><circle cx="108.9" cy="310.27" r="1.55" fill="url(#bd5)"/><circle cx="113.38" cy="308.47" r="2.0" fill="url(#bd5)"/><circle cx="118.89" cy="305.88" r="2.0" fill="url(#bd5)"/><circle cx="126.48" cy="303.3" r="2.0" fill="url(#bd5)"/><circle cx="136.13" cy="298.91" r="2.0" fill="url(#bd5)"/><circle cx="149.71" cy="292.19" r="2.0" fill="url(#bd5)"/><circle cx="167.97" cy="282.12" r="2.0" fill="url(#bd5)"/><circle cx="78.91" cy="308.67" r="1.9" fill="url(#bd6)"/><circle cx="79.72" cy="308.09" r="1.9" fill="url(#bd6)"/><circle cx="80.53" cy="307.51" r="1.9" fill="url(#bd6)"/><circle cx="81.58" cy="307.65" r="1.9" fill="url(#bd6)"/><circle cx="82.65" cy="307.89" r="1.9" fill="url(#bd6)"/><circle cx="83.32" cy="307.39" r="1.9" fill="url(#bd6)"/><circle cx="83.85" cy="306.65" r="1.9" fill="url(#bd6)"/><circle cx="84.38" cy="305.91" r="1.9" fill="url(#bd6)"/><circle cx="84.89" cy="305.16" r="1.9" fill="url(#bd6)"/><circle cx="85.35" cy="304.39" r="1.9" fill="url(#bd6)"/><circle cx="85.8" cy="303.61" r="1.9" fill="url(#bd6)"/><circle cx="86.25" cy="302.84" r="1.9" fill="url(#bd6)"/><circle cx="86.7" cy="302.07" r="1.9" fill="url(#bd6)"/><circle cx="87.15" cy="301.3" r="1.9" fill="url(#bd6)"/><circle cx="87.6" cy="300.53" r="1.9" fill="url(#bd6)"/><circle cx="88.05" cy="299.76" r="1.9" fill="url(#bd6)"/><circle cx="88.5" cy="298.99" r="1.9" fill="url(#bd6)"/><circle cx="89.12" cy="298.29" r="1.9" fill="url(#bd6)"/><circle cx="89.85" cy="297.66" r="1.9" fill="url(#bd6)"/><circle cx="90.59" cy="297.02" r="1.9" fill="url(#bd6)"/><circle cx="91.33" cy="296.38" r="1.9" fill="url(#bd6)"/><circle cx="92.07" cy="295.75" r="1.9" fill="url(#bd6)"/><circle cx="92.8" cy="295.11" r="1.9" fill="url(#bd6)"/><circle cx="93.54" cy="294.48" r="1.9" fill="url(#bd6)"/><circle cx="94.28" cy="293.85" r="1.9" fill="url(#bd6)"/><circle cx="95.03" cy="293.22" r="1.9" fill="url(#bd6)"/><circle cx="95.77" cy="292.58" r="1.9" fill="url(#bd6)"/><circle cx="96.52" cy="291.95" r="1.9" fill="url(#bd6)"/><circle cx="97.26" cy="291.32" r="1.9" fill="url(#bd6)"/><circle cx="98.01" cy="290.69" r="1.9" fill="url(#bd6)"/><circle cx="100.21" cy="287.59" r="2.0" fill="url(#bd6)"/><circle cx="103.8" cy="283.31" r="2.0" fill="url(#bd6)"/><circle cx="108.49" cy="278.71" r="2.0" fill="url(#bd6)"/><circle cx="113.79" cy="273.54" r="2.0" fill="url(#bd6)"/><circle cx="120" cy="266.77" r="2.0" fill="url(#bd6)"/><circle cx="126.82" cy="259.28" r="2.0" fill="url(#bd6)"/><circle cx="135.37" cy="250.96" r="2.0" fill="url(#bd6)"/><circle cx="146.12" cy="240.94" r="2.0" fill="url(#bd6)"/><circle cx="159.08" cy="228.69" r="2.0" fill="url(#bd6)"/><circle cx="150.95" cy="215.21" r="2.0" fill="url(#bd6)"/><circle cx="78.57" cy="298.65" r="1.9" fill="url(#bd7)"/><circle cx="79.71" cy="297.94" r="1.9" fill="url(#bd7)"/><circle cx="80.91" cy="297.39" r="1.9" fill="url(#bd7)"/><circle cx="82.37" cy="297.58" r="1.9" fill="url(#bd7)"/><circle cx="83.52" cy="297.01" r="1.9" fill="url(#bd7)"/><circle cx="84.57" cy="296.22" r="1.9" fill="url(#bd7)"/><circle cx="85.77" cy="295.57" r="1.9" fill="url(#bd7)"/><circle cx="86.99" cy="294.94" r="1.9" fill="url(#bd7)"/><circle cx="88.15" cy="294.25" r="1.9" fill="url(#bd7)"/><circle cx="89.31" cy="293.55" r="1.9" fill="url(#bd7)"/><circle cx="90.41" cy="292.82" r="1.9" fill="url(#bd7)"/><circle cx="91.2" cy="291.88" r="1.9" fill="url(#bd7)"/><circle cx="91.98" cy="290.93" r="1.9" fill="url(#bd7)"/><circle cx="92.77" cy="289.99" r="1.9" fill="url(#bd7)"/><circle cx="93.56" cy="289.04" r="1.9" fill="url(#bd7)"/><circle cx="94.34" cy="288.1" r="1.9" fill="url(#bd7)"/><circle cx="95.13" cy="287.16" r="1.9" fill="url(#bd7)"/><circle cx="95.92" cy="286.21" r="1.9" fill="url(#bd7)"/><circle cx="96.7" cy="285.27" r="1.9" fill="url(#bd7)"/><circle cx="97.47" cy="284.32" r="1.9" fill="url(#bd7)"/><circle cx="98.19" cy="283.34" r="1.9" fill="url(#bd7)"/><circle cx="98.91" cy="282.37" r="1.9" fill="url(#bd7)"/><circle cx="99.63" cy="281.4" r="1.9" fill="url(#bd7)"/><circle cx="100.35" cy="280.42" r="1.9" fill="url(#bd7)"/><circle cx="101.07" cy="279.45" r="1.9" fill="url(#bd7)"/><circle cx="101.79" cy="278.48" r="1.9" fill="url(#bd7)"/><circle cx="102.51" cy="277.51" r="1.9" fill="url(#bd7)"/><circle cx="103.23" cy="276.53" r="1.9" fill="url(#bd7)"/><circle cx="103.95" cy="275.56" r="1.9" fill="url(#bd7)"/><circle cx="104.65" cy="274.58" r="1.9" fill="url(#bd7)"/><circle cx="105.35" cy="273.6" r="1.9" fill="url(#bd7)"/><circle cx="106.05" cy="272.61" r="1.9" fill="url(#bd7)"/><circle cx="106.74" cy="271.63" r="1.9" fill="url(#bd7)"/><circle cx="107.44" cy="270.65" r="1.9" fill="url(#bd7)"/><circle cx="108.13" cy="269.67" r="1.9" fill="url(#bd7)"/><circle cx="108.83" cy="268.68" r="1.9" fill="url(#bd7)"/><circle cx="111.66" cy="264.86" r="2.0" fill="url(#bd7)"/><circle cx="115.31" cy="260.99" r="2.0" fill="url(#bd7)"/><circle cx="118.89" cy="256.28" r="2.0" fill="url(#bd7)"/><circle cx="122.41" cy="250.24" r="2.0" fill="url(#bd7)"/><circle cx="127.51" cy="246.98" r="2.0" fill="url(#bd7)"/><circle cx="133.23" cy="240.16" r="2.0" fill="url(#bd7)"/><circle cx="141.44" cy="228.95" r="2.0" fill="url(#bd7)"/><circle cx="80.77" cy="288.32" r="1.9" fill="url(#bd8)"/><circle cx="81.75" cy="287.64" r="1.9" fill="url(#bd8)"/><circle cx="82.72" cy="286.97" r="1.9" fill="url(#bd8)"/><circle cx="83.8" cy="286.55" r="1.9" fill="url(#bd8)"/><circle cx="85.11" cy="286.67" r="1.9" fill="url(#bd8)"/><circle cx="86.43" cy="286.77" r="1.9" fill="url(#bd8)"/><circle cx="87.75" cy="286.77" r="1.9" fill="url(#bd8)"/><circle cx="89.07" cy="286.73" r="1.9" fill="url(#bd8)"/><circle cx="90.33" cy="286.43" r="1.9" fill="url(#bd8)"/><circle cx="91.57" cy="286.11" r="1.9" fill="url(#bd8)"/><circle cx="92.44" cy="285.36" r="1.9" fill="url(#bd8)"/><circle cx="93.31" cy="284.62" r="1.9" fill="url(#bd8)"/><circle cx="94.18" cy="283.87" r="1.9" fill="url(#bd8)"/><circle cx="94.97" cy="283.08" r="1.9" fill="url(#bd8)"/><circle cx="95.73" cy="282.26" r="1.9" fill="url(#bd8)"/><circle cx="96.49" cy="281.45" r="1.9" fill="url(#bd8)"/><circle cx="97.25" cy="280.64" r="1.9" fill="url(#bd8)"/><circle cx="98.01" cy="279.83" r="1.9" fill="url(#bd8)"/><circle cx="98.77" cy="279.01" r="1.9" fill="url(#bd8)"/><circle cx="99.44" cy="278.16" r="1.9" fill="url(#bd8)"/><circle cx="100.12" cy="277.31" r="1.9" fill="url(#bd8)"/><circle cx="100.79" cy="276.45" r="1.9" fill="url(#bd8)"/><circle cx="101.46" cy="275.6" r="1.9" fill="url(#bd8)"/><circle cx="102.14" cy="274.75" r="1.9" fill="url(#bd8)"/><circle cx="102.81" cy="273.89" r="1.9" fill="url(#bd8)"/><circle cx="103.49" cy="273.04" r="1.9" fill="url(#bd8)"/><circle cx="104.16" cy="272.19" r="1.9" fill="url(#bd8)"/><circle cx="104.83" cy="271.33" r="1.9" fill="url(#bd8)"/><circle cx="105.5" cy="270.48" r="1.9" fill="url(#bd8)"/><circle cx="106.17" cy="269.62" r="1.9" fill="url(#bd8)"/><circle cx="106.84" cy="268.77" r="1.9" fill="url(#bd8)"/><circle cx="107.52" cy="267.91" r="1.9" fill="url(#bd8)"/><circle cx="108.19" cy="267.06" r="1.9" fill="url(#bd8)"/><circle cx="108.86" cy="266.2" r="1.9" fill="url(#bd8)"/><circle cx="109.53" cy="265.35" r="1.9" fill="url(#bd8)"/><circle cx="110.2" cy="264.49" r="1.9" fill="url(#bd8)"/><circle cx="110.87" cy="263.64" r="1.9" fill="url(#bd8)"/><circle cx="111.5" cy="262.77" r="1.9" fill="url(#bd8)"/><circle cx="112.12" cy="261.89" r="1.9" fill="url(#bd8)"/><circle cx="112.75" cy="261.02" r="1.9" fill="url(#bd8)"/><circle cx="113.37" cy="260.14" r="1.9" fill="url(#bd8)"/><circle cx="113.99" cy="259.27" r="1.9" fill="url(#bd8)"/><circle cx="114.61" cy="258.39" r="1.9" fill="url(#bd8)"/><circle cx="115.24" cy="257.52" r="1.9" fill="url(#bd8)"/><circle cx="115.86" cy="256.64" r="1.9" fill="url(#bd8)"/><circle cx="116.48" cy="255.77" r="1.9" fill="url(#bd8)"/><circle cx="119.24" cy="251.63" r="2.0" fill="url(#bd8)"/><circle cx="122.69" cy="246.47" r="2.0" fill="url(#bd8)"/><circle cx="126.82" cy="242.33" r="2.0" fill="url(#bd8)"/><circle cx="130.96" cy="237.68" r="2.0" fill="url(#bd8)"/><circle cx="135.37" cy="233.7" r="2.0" fill="url(#bd8)"/><circle cx="138.54" cy="228.9" r="2.0" fill="url(#bd8)"/><circle cx="139.99" cy="224.35" r="2.0" fill="url(#bd8)"/><circle cx="85.81" cy="276.8" r="1.9" fill="url(#bd9)"/><circle cx="86.75" cy="276.29" r="1.9" fill="url(#bd9)"/><circle cx="87.69" cy="275.79" r="1.9" fill="url(#bd9)"/><circle cx="88.63" cy="275.29" r="1.9" fill="url(#bd9)"/><circle cx="89.72" cy="275.14" r="1.9" fill="url(#bd9)"/><circle cx="90.87" cy="275.14" r="1.9" fill="url(#bd9)"/><circle cx="92.03" cy="275.14" r="1.9" fill="url(#bd9)"/><circle cx="93.16" cy="275.26" r="1.9" fill="url(#bd9)"/><circle cx="94.3" cy="275.43" r="1.9" fill="url(#bd9)"/><circle cx="95.43" cy="275.6" r="1.9" fill="url(#bd9)"/><circle cx="96.57" cy="275.59" r="1.9" fill="url(#bd9)"/><circle cx="97.72" cy="275.49" r="1.9" fill="url(#bd9)"/><circle cx="98.83" cy="275.34" r="1.9" fill="url(#bd9)"/><circle cx="99.54" cy="274.66" r="1.9" fill="url(#bd9)"/><circle cx="100.25" cy="273.98" r="1.9" fill="url(#bd9)"/><circle cx="100.96" cy="273.3" r="1.9" fill="url(#bd9)"/><circle cx="101.67" cy="272.62" r="1.9" fill="url(#bd9)"/><circle cx="102.31" cy="271.9" r="1.9" fill="url(#bd9)"/><circle cx="102.9" cy="271.16" r="1.9" fill="url(#bd9)"/><circle cx="103.48" cy="270.41" r="1.9" fill="url(#bd9)"/><circle cx="104.06" cy="269.66" r="1.9" fill="url(#bd9)"/><circle cx="104.64" cy="268.91" r="1.9" fill="url(#bd9)"/><circle cx="105.22" cy="268.17" r="1.9" fill="url(#bd9)"/><circle cx="105.8" cy="267.42" r="1.9" fill="url(#bd9)"/><circle cx="106.39" cy="266.67" r="1.9" fill="url(#bd9)"/><circle cx="106.97" cy="265.93" r="1.9" fill="url(#bd9)"/><circle cx="107.58" cy="265.19" r="1.9" fill="url(#bd9)"/><circle cx="108.18" cy="264.45" r="1.9" fill="url(#bd9)"/><circle cx="108.79" cy="263.72" r="1.9" fill="url(#bd9)"/><circle cx="109.39" cy="262.98" r="1.9" fill="url(#bd9)"/><circle cx="110" cy="262.24" r="1.9" fill="url(#bd9)"/><circle cx="110.6" cy="261.51" r="1.9" fill="url(#bd9)"/><circle cx="111.21" cy="260.77" r="1.9" fill="url(#bd9)"/><circle cx="111.81" cy="260.03" r="1.9" fill="url(#bd9)"/><circle cx="112.42" cy="259.3" r="1.9" fill="url(#bd9)"/><circle cx="113.02" cy="258.56" r="1.9" fill="url(#bd9)"/><circle cx="113.63" cy="257.82" r="1.9" fill="url(#bd9)"/><circle cx="114.23" cy="257.09" r="1.9" fill="url(#bd9)"/><circle cx="114.84" cy="256.35" r="1.9" fill="url(#bd9)"/><circle cx="115.44" cy="255.61" r="1.9" fill="url(#bd9)"/><circle cx="116.05" cy="254.88" r="1.9" fill="url(#bd9)"/><circle cx="116.65" cy="254.14" r="1.9" fill="url(#bd9)"/><circle cx="117.26" cy="253.4" r="1.9" fill="url(#bd9)"/><circle cx="117.86" cy="252.67" r="1.9" fill="url(#bd9)"/><circle cx="120.62" cy="248.53" r="2.0" fill="url(#bd9)"/><circle cx="124.06" cy="243.88" r="2.0" fill="url(#bd9)"/><circle cx="128.2" cy="239.23" r="2.0" fill="url(#bd9)"/><circle cx="133.03" cy="234.07" r="2.0" fill="url(#bd9)"/><circle cx="137.16" cy="228.9" r="2.0" fill="url(#bd9)"/><circle cx="82.91" cy="266.77" r="1.9" fill="url(#bd10)"/><circle cx="83.78" cy="266.38" r="1.9" fill="url(#bd10)"/><circle cx="84.66" cy="265.99" r="1.9" fill="url(#bd10)"/><circle cx="85.53" cy="265.6" r="1.9" fill="url(#bd10)"/><circle cx="86.44" cy="265.29" r="1.9" fill="url(#bd10)"/><circle cx="87.44" cy="265.16" r="1.9" fill="url(#bd10)"/><circle cx="88.44" cy="265.04" r="1.9" fill="url(#bd10)"/><circle cx="89.44" cy="264.91" r="1.9" fill="url(#bd10)"/><circle cx="90.44" cy="264.83" r="1.9" fill="url(#bd10)"/><circle cx="91.45" cy="264.95" r="1.9" fill="url(#bd10)"/><circle cx="92.45" cy="265.08" r="1.9" fill="url(#bd10)"/><circle cx="93.45" cy="265.2" r="1.9" fill="url(#bd10)"/><circle cx="94.45" cy="265.32" r="1.9" fill="url(#bd10)"/><circle cx="95.47" cy="265.32" r="1.9" fill="url(#bd10)"/><circle cx="96.48" cy="265.32" r="1.9" fill="url(#bd10)"/><circle cx="97.5" cy="265.32" r="1.9" fill="url(#bd10)"/><circle cx="98.51" cy="265.32" r="1.9" fill="url(#bd10)"/><circle cx="99.25" cy="264.88" r="1.9" fill="url(#bd10)"/><circle cx="99.9" cy="264.3" r="1.9" fill="url(#bd10)"/><circle cx="100.54" cy="263.71" r="1.9" fill="url(#bd10)"/><circle cx="101.19" cy="263.12" r="1.9" fill="url(#bd10)"/><circle cx="101.74" cy="262.48" r="1.9" fill="url(#bd10)"/><circle cx="102.28" cy="261.84" r="1.9" fill="url(#bd10)"/><circle cx="102.81" cy="261.19" r="1.9" fill="url(#bd10)"/><circle cx="103.35" cy="260.54" r="1.9" fill="url(#bd10)"/><circle cx="103.88" cy="259.9" r="1.9" fill="url(#bd10)"/><circle cx="104.42" cy="259.25" r="1.9" fill="url(#bd10)"/><circle cx="104.95" cy="258.6" r="1.9" fill="url(#bd10)"/><circle cx="105.49" cy="257.96" r="1.9" fill="url(#bd10)"/><circle cx="106.02" cy="257.31" r="1.9" fill="url(#bd10)"/><circle cx="106.53" cy="256.65" r="1.9" fill="url(#bd10)"/><circle cx="107.03" cy="255.99" r="1.9" fill="url(#bd10)"/><circle cx="107.54" cy="255.33" r="1.9" fill="url(#bd10)"/><circle cx="108.05" cy="254.67" r="1.9" fill="url(#bd10)"/><circle cx="108.56" cy="254.01" r="1.9" fill="url(#bd10)"/><circle cx="109.06" cy="253.35" r="1.9" fill="url(#bd10)"/><circle cx="109.57" cy="252.69" r="1.9" fill="url(#bd10)"/><circle cx="110.07" cy="252.03" r="1.9" fill="url(#bd10)"/><circle cx="110.58" cy="251.37" r="1.9" fill="url(#bd10)"/><circle cx="111.08" cy="250.71" r="1.9" fill="url(#bd10)"/><circle cx="111.59" cy="250.05" r="1.9" fill="url(#bd10)"/><circle cx="112.09" cy="249.39" r="1.9" fill="url(#bd10)"/><circle cx="112.6" cy="248.73" r="1.9" fill="url(#bd10)"/><circle cx="113.1" cy="248.07" r="1.9" fill="url(#bd10)"/><circle cx="114.9" cy="244.4" r="2.0" fill="url(#bd10)"/><circle cx="116.69" cy="240.89" r="2.0" fill="url(#bd10)"/><circle cx="119.58" cy="236.29" r="2.0" fill="url(#bd10)"/><circle cx="122.41" cy="230.14" r="2.0" fill="url(#bd10)"/><circle cx="125.72" cy="222.7" r="2.0" fill="url(#bd10)"/></g>
<rect x="76.5" y="216.5" width="206.8" height="155" fill="none" stroke="#303030" stroke-width="1.1"/>
<line x1="93.73" y1="371.5" x2="93.73" y2="373.2" stroke="#303030" stroke-width="0.9" />
<line x1="128.2" y1="371.5" x2="128.2" y2="373.2" stroke="#303030" stroke-width="0.9" />
<line x1="162.67" y1="371.5" x2="162.67" y2="373.2" stroke="#303030" stroke-width="0.9" />
<line x1="197.13" y1="371.5" x2="197.13" y2="373.2" stroke="#303030" stroke-width="0.9" />
<line x1="231.6" y1="371.5" x2="231.6" y2="373.2" stroke="#303030" stroke-width="0.9" />
<line x1="266.07" y1="371.5" x2="266.07" y2="373.2" stroke="#303030" stroke-width="0.9" />
<line x1="76.5" y1="371.5" x2="76.5" y2="374.5" stroke="#303030" stroke-width="1.1" />
<text x="76.5" y="382.85" font-size="8.3" text-anchor="middle" fill="#141414" font-weight="normal" stroke="#141414" stroke-width="0.22" >0</text>
<line x1="110.97" y1="371.5" x2="110.97" y2="374.5" stroke="#303030" stroke-width="1.1" />
<text x="110.97" y="382.85" font-size="8.3" text-anchor="middle" fill="#141414" font-weight="normal" stroke="#141414" stroke-width="0.22" >50</text>
<line x1="145.43" y1="371.5" x2="145.43" y2="374.5" stroke="#303030" stroke-width="1.1" />
<text x="145.43" y="382.85" font-size="8.3" text-anchor="middle" fill="#141414" font-weight="normal" stroke="#141414" stroke-width="0.22" >100</text>
<line x1="179.9" y1="371.5" x2="179.9" y2="374.5" stroke="#303030" stroke-width="1.1" />
<text x="179.9" y="382.85" font-size="8.3" text-anchor="middle" fill="#141414" font-weight="normal" stroke="#141414" stroke-width="0.22" >150</text>
<line x1="214.37" y1="371.5" x2="214.37" y2="374.5" stroke="#303030" stroke-width="1.1" />
<text x="214.37" y="382.85" font-size="8.3" text-anchor="middle" fill="#141414" font-weight="normal" stroke="#141414" stroke-width="0.22" >200</text>
<line x1="248.83" y1="371.5" x2="248.83" y2="374.5" stroke="#303030" stroke-width="1.1" />
<text x="248.83" y="382.85" font-size="8.3" text-anchor="middle" fill="#141414" font-weight="normal" stroke="#141414" stroke-width="0.22" >250</text>
<line x1="283.3" y1="371.5" x2="283.3" y2="374.5" stroke="#303030" stroke-width="1.1" />
<text x="283.3" y="382.85" font-size="8.3" text-anchor="middle" fill="#141414" font-weight="normal" stroke="#141414" stroke-width="0.22" >300</text>
<line x1="76.5" y1="358.58" x2="74.8" y2="358.58" stroke="#303030" stroke-width="0.9" />
<line x1="76.5" y1="332.75" x2="74.8" y2="332.75" stroke="#303030" stroke-width="0.9" />
<line x1="76.5" y1="306.92" x2="74.8" y2="306.92" stroke="#303030" stroke-width="0.9" />
<line x1="76.5" y1="281.08" x2="74.8" y2="281.08" stroke="#303030" stroke-width="0.9" />
<line x1="76.5" y1="255.25" x2="74.8" y2="255.25" stroke="#303030" stroke-width="0.9" />
<line x1="76.5" y1="229.42" x2="74.8" y2="229.42" stroke="#303030" stroke-width="0.9" />
<line x1="76.5" y1="371.5" x2="73.5" y2="371.5" stroke="#303030" stroke-width="1.1" />
<text x="71.7" y="374.49" font-size="8.3" text-anchor="end" fill="#141414" font-weight="normal" stroke="#141414" stroke-width="0.22" >0</text>
<line x1="76.5" y1="345.67" x2="73.5" y2="345.67" stroke="#303030" stroke-width="1.1" />
<text x="71.7" y="348.65" font-size="8.3" text-anchor="end" fill="#141414" font-weight="normal" stroke="#141414" stroke-width="0.22" >50</text>
<line x1="76.5" y1="319.83" x2="73.5" y2="319.83" stroke="#303030" stroke-width="1.1" />
<text x="71.7" y="322.82" font-size="8.3" text-anchor="end" fill="#141414" font-weight="normal" stroke="#141414" stroke-width="0.22" >100</text>
<line x1="76.5" y1="294" x2="73.5" y2="294" stroke="#303030" stroke-width="1.1" />
<text x="71.7" y="296.99" font-size="8.3" text-anchor="end" fill="#141414" font-weight="normal" stroke="#141414" stroke-width="0.22" >150</text>
<line x1="76.5" y1="268.17" x2="73.5" y2="268.17" stroke="#303030" stroke-width="1.1" />
<text x="71.7" y="271.15" font-size="8.3" text-anchor="end" fill="#141414" font-weight="normal" stroke="#141414" stroke-width="0.22" >200</text>
<line x1="76.5" y1="242.33" x2="73.5" y2="242.33" stroke="#303030" stroke-width="1.1" />
<text x="71.7" y="245.32" font-size="8.3" text-anchor="end" fill="#141414" font-weight="normal" stroke="#141414" stroke-width="0.22" >250</text>
<line x1="76.5" y1="216.5" x2="73.5" y2="216.5" stroke="#303030" stroke-width="1.1" />
<text x="71.7" y="219.49" font-size="8.3" text-anchor="end" fill="#141414" font-weight="normal" stroke="#141414" stroke-width="0.22" >300</text>
<text transform="translate(52.4,300.2) rotate(-90)" font-size="10" text-anchor="middle" fill="#141414" stroke="#141414" stroke-width="0.22" >-Z<tspan font-size="7.5" dy="-2">"</tspan><tspan dy="2"> (ohm)</tspan></text>
<text x="177.2" y="394.3" font-size="10" text-anchor="middle" fill="#141414" font-weight="normal" stroke="#141414" stroke-width="0.22" >Z' (ohm)</text>
<circle cx="233.6" cy="254.6" r="2.0" fill="url(#bd0)"/>
<text x="244" y="257.2" font-size="7.1" text-anchor="start" fill="#141414" font-weight="normal" stroke="#141414" stroke-width="0.22" >4.00 V</text>
<circle cx="233.6" cy="263.48" r="2.0" fill="url(#bd1)"/>
<text x="244" y="266.08" font-size="7.1" text-anchor="start" fill="#141414" font-weight="normal" stroke="#141414" stroke-width="0.22" >3.85 V</text>
<circle cx="233.6" cy="272.36" r="2.0" fill="url(#bd2)"/>
<text x="244" y="274.96" font-size="7.1" text-anchor="start" fill="#141414" font-weight="normal" stroke="#141414" stroke-width="0.22" >3.70 V</text>
<circle cx="233.6" cy="281.24" r="2.0" fill="url(#bd3)"/>
<text x="244" y="283.84" font-size="7.1" text-anchor="start" fill="#141414" font-weight="normal" stroke="#141414" stroke-width="0.22" >3.55 V</text>
<circle cx="233.6" cy="290.12" r="2.0" fill="url(#bd4)"/>
<text x="244" y="292.72" font-size="7.1" text-anchor="start" fill="#141414" font-weight="normal" stroke="#141414" stroke-width="0.22" >3.40 V</text>
<circle cx="233.6" cy="299" r="2.0" fill="url(#bd5)"/>
<text x="244" y="301.6" font-size="7.1" text-anchor="start" fill="#141414" font-weight="normal" stroke="#141414" stroke-width="0.22" >3.25 V</text>
<circle cx="233.6" cy="307.88" r="2.0" fill="url(#bd6)"/>
<text x="244" y="310.48" font-size="7.1" text-anchor="start" fill="#141414" font-weight="normal" stroke="#141414" stroke-width="0.22" >3.10 V</text>
<circle cx="233.6" cy="316.76" r="2.0" fill="url(#bd7)"/>
<text x="244" y="319.36" font-size="7.1" text-anchor="start" fill="#141414" font-weight="normal" stroke="#141414" stroke-width="0.22" >2.95 V</text>
<circle cx="233.6" cy="325.64" r="2.0" fill="url(#bd8)"/>
<text x="244" y="328.24" font-size="7.1" text-anchor="start" fill="#141414" font-weight="normal" stroke="#141414" stroke-width="0.22" >2.80 V</text>
<circle cx="233.6" cy="334.52" r="2.0" fill="url(#bd9)"/>
<text x="244" y="337.12" font-size="7.1" text-anchor="start" fill="#141414" font-weight="normal" stroke="#141414" stroke-width="0.22" >2.65 V</text>
<circle cx="233.6" cy="343.4" r="2.0" fill="url(#bd10)"/>
<text x="244" y="346" font-size="7.1" text-anchor="start" fill="#141414" font-weight="normal" stroke="#141414" stroke-width="0.22" >2.50 V</text>
<text x="217.7" y="360.8" font-size="7.95" text-anchor="start" fill="#141414" font-weight="normal" stroke="#141414" stroke-width="0.22" >R-HTS-S-LFP</text>
<polyline fill="none" stroke="#d81e1e" stroke-width="1.1" stroke-linejoin="round" points="346.02,301.56 346.6,302.81 347.18,303.34 347.76,303.57 348.34,303.66 348.92,303.7 349.5,303.71 350.08,303.71 350.66,303.71 351.24,303.7 351.82,303.69 352.41,303.69 352.99,303.68 353.57,303.67 354.15,303.66 354.73,303.65 355.31,303.65 355.89,303.64 356.47,303.63 357.05,303.62 357.63,303.62 358.21,303.61 358.79,303.6 359.38,303.59 359.96,303.59 360.54,303.58 361.12,303.57 361.7,303.57 362.28,303.56 362.86,303.55 363.44,303.55 364.02,303.54 364.6,303.53 365.18,303.53 365.76,303.52 366.35,303.51 366.93,303.51 367.51,303.5 368.09,303.49 368.67,303.49 369.25,303.48 369.83,303.48 370.41,303.47 370.99,303.46 371.57,303.46 372.15,303.45 372.74,303.45 373.32,303.44 373.9,303.44 374.48,303.43 375.06,303.42 375.64,303.42 376.22,303.41 376.8,303.41 377.38,303.4 377.96,303.4 378.54,303.39 379.12,303.39 379.7,303.38 380.29,303.38 380.87,303.37 381.45,303.37 382.03,303.36 382.61,303.36 383.19,303.35 383.77,303.35 384.35,303.34 384.93,303.34 385.51,303.33 386.09,303.33 386.68,303.32 387.26,303.32 387.84,303.31 388.42,303.31 389,303.31 389.58,303.3 390.16,303.3 390.74,303.29 391.32,303.29 391.9,303.28 392.48,303.28 393.06,303.27 393.64,303.27 394.23,303.27 394.81,303.26 395.39,303.26 395.97,303.25 396.55,303.25 397.13,303.25 397.71,303.24 398.29,303.24 398.87,303.23 399.45,303.23 400.03,303.23 400.61,303.22 401.2,303.22 401.78,303.21 402.36,303.21 402.94,303.21 403.52,303.2 404.1,303.2 404.68,303.2 405.26,303.19 405.84,303.19 406.42,303.18 407,303.18 407.59,303.18 408.17,303.17 408.75,303.17 409.33,303.17 409.91,303.16 410.49,303.16 411.07,303.16 411.65,303.15 412.23,303.15 412.81,303.15 413.39,303.14 413.97,303.14 414.55,303.13 415.14,303.13 415.72,303.13 416.3,303.12 416.88,303.12 417.46,303.12 418.04,303.11 418.62,303.11 419.2,303.11 419.78,303.1 420.36,303.1 420.94,303.1 421.52,303.09 422.11,303.09 422.69,303.08 423.27,303.08 423.85,303.08 424.43,303.07 425.01,303.07 425.59,303.07 426.17,303.06 426.75,303.06 427.33,303.05 427.91,303.05 428.5,303.04 429.08,303.04 429.66,303.04 430.24,303.03 430.82,303.03 431.4,303.02 431.98,303.02 432.56,303.01 433.14,303.01 433.72,303 434.3,303 434.88,302.99 435.46,302.99 436.05,302.98 436.63,302.98 437.21,302.97 437.79,302.96 438.37,302.96 438.95,302.95 439.53,302.94 440.11,302.94 440.69,302.93 441.27,302.92 441.85,302.91 442.44,302.9 443.02,302.89 443.6,302.88 444.18,302.87 444.76,302.86 445.34,302.85 445.92,302.83 446.5,302.82 447.08,302.79 447.66,302.77 448.24,302.73 448.82,302.69 449.4,302.62 449.99,302.54 450.57,302.42 451.15,302.26 451.73,302.04 452.31,301.73 452.89,301.32 453.47,300.78 454.05,300.06 454.63,299.13 455.21,297.95 455.79,296.46 456.38,294.61 456.96,292.38 457.54,289.71 458.12,286.58 458.7,282.98 459.28,278.93 459.86,274.45 460.44,269.62 461.02,264.52 461.6,259.27 462.18,254.03 462.76,248.94 463.34,244.19 463.93,239.96 464.51,236.4 465.09,233.68 465.67,231.91 466.25,231.17 466.83,231.5 467.41,232.93 467.99,235.4 468.57,238.78 469.15,242.92 469.73,247.66 470.32,252.8 470.9,258.15 471.48,263.54 472.06,268.8 472.64,273.79 473.22,278.42 473.8,282.62 474.38,286.34 474.96,289.56 475.54,292.31 476.12,294.59 476.7,296.47 477.28,297.98 477.87,299.17 478.45,300.09 479.03,300.8 479.61,301.33 480.19,301.73 480.77,302.02 481.35,302.23 481.93,302.38 482.51,302.49 483.09,302.57 483.67,302.62 484.25,302.66 484.84,302.69 485.42,302.72 486,302.74 486.58,302.75 487.16,302.76 487.74,302.77 488.32,302.78 488.9,302.79 489.48,302.8 490.06,302.81 490.64,302.81 491.22,302.82 491.81,302.83 492.39,302.83 492.97,302.84 493.55,302.84 494.13,302.84 494.71,302.85 495.29,302.85 495.87,302.86 496.45,302.86 497.03,302.86 497.61,302.87 498.19,302.87 498.78,302.87 499.36,302.87 499.94,302.88 500.52,302.88 501.1,302.88 501.68,302.88 502.26,302.88 502.84,302.89 503.42,302.89 504,302.89 504.58,302.89 505.16,302.89 505.75,302.89 506.33,302.89 506.91,302.89 507.49,302.9 508.07,302.9 508.65,302.9 509.23,302.9 509.81,302.9 510.39,302.9 510.97,302.9 511.55,302.9 512.13,302.9 512.72,302.9 513.3,302.9 513.88,302.9 514.46,302.91 515.04,302.91 515.62,302.91 516.2,302.91 516.78,302.91 517.36,302.91 517.94,302.91 518.52,302.91 519.11,302.91 519.69,302.91 520.27,302.91 520.27,302.46 519.69,302.46 519.11,302.47 518.52,302.48 517.94,302.48 517.36,302.49 516.78,302.5 516.2,302.51 515.62,302.51 515.04,302.52 514.46,302.52 513.88,302.53 513.3,302.54 512.72,302.54 512.13,302.55 511.55,302.55 510.97,302.56 510.39,302.57 509.81,302.57 509.23,302.58 508.65,302.58 508.07,302.59 507.49,302.59 506.91,302.6 506.33,302.6 505.75,302.61 505.16,302.61 504.58,302.62 504,302.62 503.42,302.63 502.84,302.63 502.26,302.64 501.68,302.64 501.1,302.64 500.52,302.65 499.94,302.65 499.36,302.66 498.78,302.66 498.19,302.66 497.61,302.67 497.03,302.67 496.45,302.68 495.87,302.68 495.29,302.68 494.71,302.69 494.13,302.69 493.55,302.69 492.97,302.7 492.39,302.7 491.81,302.7 491.22,302.71 490.64,302.71 490.06,302.71 489.48,302.72 488.9,302.72 488.32,302.72 487.74,302.73 487.16,302.73 486.58,302.73 486,302.73 485.42,302.74 484.84,302.74 484.25,302.74 483.67,302.74 483.09,302.75 482.51,302.75 481.93,302.75 481.35,302.75 480.77,302.76 480.19,302.76 479.61,302.76 479.03,302.76 478.45,302.77 477.87,302.77 477.28,302.77 476.7,302.77 476.12,302.77 475.54,302.78 474.96,302.78 474.38,302.78 473.8,302.78 473.22,302.78 472.64,302.79 472.06,302.79 471.48,302.79 470.9,302.79 470.31,302.79 469.73,302.8 469.15,302.8 468.57,302.8 467.99,302.8 467.41,302.8 466.83,302.8 466.25,302.81 465.67,302.81 465.09,302.81 464.51,302.81 463.93,302.81 463.34,302.81 462.76,302.82 462.18,302.82 461.6,302.82 461.02,302.83 460.44,302.84 459.86,302.85 459.28,302.87 458.7,302.89 458.12,302.94 457.54,303 456.96,303.1 456.38,303.24 455.79,303.45 455.21,303.74 454.63,304.14 454.05,304.69 453.47,305.42 452.89,306.37 452.31,307.59 451.73,309.12 451.15,311 450.57,313.26 449.99,315.92 449.4,318.97 448.82,322.38 448.24,326.12 447.66,330.09 447.08,334.19 446.5,338.29 445.92,342.24 445.34,345.88 444.76,349.05 444.18,351.59 443.6,353.4 443.02,354.37 442.44,354.47 441.85,353.79 441.27,352.41 440.69,350.45 440.11,348.04 439.53,345.33 438.95,342.48 438.37,339.59 437.79,336.76 437.21,334.06 436.63,331.51 436.05,329.15 435.46,326.98 434.88,325 434.3,323.2 433.72,321.57 433.14,320.1 432.56,318.77 431.98,317.56 431.4,316.48 430.82,315.49 430.24,314.6 429.66,313.8 429.08,313.06 428.5,312.4 427.91,311.79 427.33,311.23 426.75,310.72 426.17,310.26 425.59,309.83 425.01,309.44 424.43,309.08 423.85,308.74 423.27,308.44 422.69,308.15 422.11,307.88 421.52,307.64 420.94,307.41 420.36,307.2 419.78,307 419.2,306.81 418.62,306.64 418.04,306.47 417.46,306.32 416.88,306.18 416.3,306.04 415.72,305.92 415.14,305.8 414.55,305.69 413.97,305.58 413.39,305.48 412.81,305.38 412.23,305.29 411.65,305.21 411.07,305.13 410.49,305.05 409.91,304.98 409.33,304.91 408.75,304.84 408.17,304.78 407.59,304.72 407,304.66 406.42,304.61 405.84,304.56 405.26,304.51 404.68,304.46 404.1,304.41 403.52,304.37 402.94,304.33 402.36,304.29 401.78,304.25 401.2,304.21 400.61,304.18 400.03,304.14 399.45,304.11 398.87,304.08 398.29,304.05 397.71,304.02 397.13,303.99 396.55,303.97 395.97,303.94 395.39,303.92 394.81,303.89 394.23,303.87 393.64,303.85 393.06,303.82 392.48,303.8 391.9,303.78 391.32,303.76 390.74,303.74 390.16,303.73 389.58,303.71 389,303.69 388.42,303.67 387.84,303.66 387.26,303.64 386.68,303.63 386.09,303.61 385.51,303.6 384.93,303.58 384.35,303.57 383.77,303.56 383.19,303.55 382.61,303.53 382.03,303.52 381.45,303.51 380.87,303.5 380.29,303.49 379.7,303.48 379.12,303.47 378.54,303.46 377.96,303.45 377.38,303.44 376.8,303.43 376.22,303.42 375.64,303.41 375.06,303.4 374.48,303.39 373.9,303.38 373.32,303.38 372.74,303.37 372.15,303.36 371.57,303.35 370.99,303.35 370.41,303.34 369.83,303.33 369.25,303.33 368.67,303.32 368.09,303.31 367.51,303.31 366.93,303.3 366.35,303.29 365.76,303.29 365.18,303.28 364.6,303.28 364.02,303.27 363.44,303.27 362.86,303.26 362.28,303.26 361.7,303.25 361.12,303.25 360.54,303.24 359.96,303.24 359.38,303.23 358.8,303.23 358.21,303.22 357.63,303.22 357.05,303.21 356.47,303.21 355.89,303.21 355.31,303.2 354.73,303.2 354.15,303.19 353.57,303.19 352.99,303.19 352.41,303.18 351.82,303.18 351.24,303.18 350.66,303.17 350.08,303.17 349.5,303.17 348.92,303.16 348.34,303.16 347.76,303.16 347.18,303.15 346.6,303.15 346.02,303.15"/>
<polyline fill="none" stroke="#f04a4a" stroke-width="0.9" stroke-linejoin="round" points="346.02,301.56 346.6,302.81 347.18,303.34 347.76,303.57 348.34,303.66 348.92,303.7 349.5,303.71 350.08,303.71 350.66,303.71 351.24,303.7 351.82,303.69 352.41,303.69 352.99,303.68 353.57,303.67 354.15,303.66 354.73,303.65 355.31,303.65 355.89,303.64 356.47,303.63 357.05,303.62 357.63,303.62 358.21,303.61 358.79,303.6 359.38,303.59 359.96,303.59 360.54,303.58 361.12,303.57 361.7,303.57 362.28,303.56 362.86,303.55 363.44,303.55 364.02,303.54 364.6,303.53 365.18,303.53 365.76,303.52 366.35,303.51 366.93,303.51 367.51,303.5 368.09,303.49 368.67,303.49 369.25,303.48 369.83,303.48 370.41,303.47 370.99,303.46 371.57,303.46 372.15,303.45 372.74,303.45 373.32,303.44 373.9,303.44 374.48,303.43 375.06,303.42 375.64,303.42 376.22,303.41 376.8,303.41 377.38,303.4 377.96,303.4 378.54,303.39 379.12,303.39 379.7,303.38 380.29,303.38 380.87,303.37 381.45,303.37 382.03,303.36 382.61,303.36 383.19,303.35 383.77,303.35 384.35,303.34 384.93,303.34 385.51,303.33 386.09,303.33 386.68,303.32 387.26,303.32 387.84,303.31 388.42,303.31 389,303.31 389.58,303.3 390.16,303.3 390.74,303.29 391.32,303.29 391.9,303.28 392.48,303.28 393.06,303.27 393.64,303.27 394.23,303.27 394.81,303.26 395.39,303.26 395.97,303.25 396.55,303.25 397.13,303.25 397.71,303.24 398.29,303.24 398.87,303.23 399.45,303.23 400.03,303.23 400.61,303.22 401.2,303.22 401.78,303.21 402.36,303.21 402.94,303.21 403.52,303.2 404.1,303.2 404.68,303.2 405.26,303.19 405.84,303.19 406.42,303.18 407,303.18 407.59,303.18 408.17,303.17 408.75,303.17 409.33,303.17 409.91,303.16 410.49,303.16 411.07,303.16 411.65,303.15 412.23,303.15 412.81,303.15 413.39,303.14 413.97,303.14 414.55,303.13 415.14,303.13 415.72,303.13 416.3,303.12 416.88,303.12 417.46,303.12 418.04,303.11 418.62,303.11 419.2,303.11 419.78,303.1 420.36,303.1 420.94,303.1 421.52,303.09 422.11,303.09 422.69,303.08 423.27,303.08 423.85,303.08 424.43,303.07 425.01,303.07 425.59,303.07 426.17,303.06 426.75,303.06 427.33,303.05 427.91,303.05 428.5,303.05 429.08,303.04 429.66,303.04 430.24,303.03 430.82,303.03 431.4,303.02 431.98,303.02 432.56,303.01 433.14,303.01 433.72,303 434.3,303 434.88,302.99 435.46,302.99 436.05,302.98 436.63,302.98 437.21,302.97 437.79,302.97 438.37,302.96 438.95,302.95 439.53,302.95 440.11,302.94 440.69,302.93 441.27,302.92 441.85,302.92 442.44,302.91 443.02,302.9 443.6,302.89 444.18,302.88 444.76,302.87 445.34,302.85 445.92,302.84 446.5,302.83 447.08,302.81 447.66,302.79 448.24,302.77 448.82,302.75 449.4,302.71 449.99,302.67 450.57,302.61 451.15,302.52 451.73,302.4 452.31,302.24 452.89,302 453.47,301.67 454.05,301.22 454.63,300.61 455.21,299.79 455.79,298.71 456.38,297.31 456.96,295.54 457.54,293.33 458.12,290.65 458.7,287.43 459.28,283.68 459.86,279.4 460.44,274.62 461.02,269.43 461.6,263.94 462.18,258.31 462.76,252.71 463.34,247.37 463.93,242.49 464.51,238.29 465.09,234.98 465.67,232.72 466.25,231.62 466.83,231.76 467.41,233.16 467.99,235.77 468.57,239.44 469.15,243.98 469.73,249.17 470.32,254.78 470.9,260.56 471.48,266.3 472.06,271.81 472.64,276.95 473.22,281.61 473.8,285.72 474.38,289.26 474.96,292.25 475.54,294.7 476.12,296.67 476.7,298.23 477.28,299.43 477.87,300.34 478.45,301.02 479.03,301.52 479.61,301.88 480.19,302.13 480.77,302.31 481.35,302.44 481.93,302.52 482.51,302.59 483.09,302.63 483.67,302.67 484.25,302.69 484.84,302.71 485.42,302.73 486,302.74 486.58,302.75 487.16,302.76 487.74,302.77 488.32,302.78 488.9,302.79 489.48,302.8 490.06,302.81 490.64,302.81 491.22,302.82 491.81,302.82 492.39,302.83 492.97,302.84 493.55,302.84 494.13,302.84 494.71,302.85 495.29,302.85 495.87,302.86 496.45,302.86 497.03,302.86 497.61,302.87 498.19,302.87 498.78,302.87 499.36,302.87 499.94,302.88 500.52,302.88 501.1,302.88 501.68,302.88 502.26,302.88 502.84,302.89 503.42,302.89 504,302.89 504.58,302.89 505.16,302.89 505.75,302.89 506.33,302.89 506.91,302.89 507.49,302.9 508.07,302.9 508.65,302.9 509.23,302.9 509.81,302.9 510.39,302.9 510.97,302.9 511.55,302.9 512.13,302.9 512.72,302.9 513.3,302.9 513.88,302.9 514.46,302.91 515.04,302.91 515.62,302.91 516.2,302.91 516.78,302.91 517.36,302.91 517.94,302.91 518.52,302.91 519.11,302.91 519.69,302.91 520.27,302.91 520.27,302.46 519.69,302.46 519.11,302.47 518.52,302.48 517.94,302.48 517.36,302.49 516.78,302.5 516.2,302.51 515.62,302.51 515.04,302.52 514.46,302.52 513.88,302.53 513.3,302.54 512.72,302.54 512.13,302.55 511.55,302.55 510.97,302.56 510.39,302.57 509.81,302.57 509.23,302.58 508.65,302.58 508.07,302.59 507.49,302.59 506.91,302.6 506.33,302.6 505.75,302.61 505.16,302.61 504.58,302.62 504,302.62 503.42,302.63 502.84,302.63 502.26,302.64 501.68,302.64 501.1,302.64 500.52,302.65 499.94,302.65 499.36,302.66 498.78,302.66 498.19,302.66 497.61,302.67 497.03,302.67 496.45,302.68 495.87,302.68 495.29,302.68 494.71,302.69 494.13,302.69 493.55,302.69 492.97,302.7 492.39,302.7 491.81,302.7 491.22,302.71 490.64,302.71 490.06,302.71 489.48,302.72 488.9,302.72 488.32,302.72 487.74,302.73 487.16,302.73 486.58,302.73 486,302.73 485.42,302.74 484.84,302.74 484.25,302.74 483.67,302.74 483.09,302.75 482.51,302.75 481.93,302.75 481.35,302.75 480.77,302.76 480.19,302.76 479.61,302.76 479.03,302.76 478.45,302.77 477.87,302.77 477.28,302.77 476.7,302.77 476.12,302.77 475.54,302.78 474.96,302.78 474.38,302.78 473.8,302.78 473.22,302.78 472.64,302.79 472.06,302.79 471.48,302.79 470.9,302.79 470.31,302.79 469.73,302.8 469.15,302.8 468.57,302.8 467.99,302.8 467.41,302.8 466.83,302.8 466.25,302.81 465.67,302.81 465.09,302.81 464.51,302.81 463.93,302.81 463.34,302.81 462.76,302.81 462.18,302.82 461.6,302.82 461.02,302.82 460.44,302.83 459.86,302.83 459.28,302.84 458.7,302.85 458.12,302.88 457.54,302.91 456.96,302.97 456.38,303.05 455.79,303.18 455.21,303.36 454.63,303.63 454.05,304.02 453.47,304.56 452.89,305.29 452.31,306.26 451.73,307.52 451.15,309.13 450.57,311.13 449.99,313.56 449.4,316.43 448.82,319.74 448.24,323.46 447.66,327.51 447.08,331.79 446.5,336.17 445.92,340.48 445.34,344.53 444.76,348.13 444.18,351.11 443.6,353.3 443.02,354.58 442.44,354.89 441.85,354.29 441.27,352.9 440.69,350.85 440.11,348.28 439.53,345.4 438.95,342.36 438.37,339.3 437.79,336.32 437.21,333.49 436.63,330.85 436.05,328.42 435.46,326.2 434.88,324.19 434.3,322.38 433.72,320.75 433.14,319.29 432.56,317.97 431.98,316.79 431.4,315.73 430.82,314.77 430.24,313.91 429.66,313.13 429.08,312.42 428.5,311.78 427.91,311.2 427.33,310.67 426.75,310.19 426.17,309.74 425.59,309.34 425.01,308.97 424.43,308.63 423.85,308.31 423.27,308.02 422.69,307.75 422.11,307.5 421.52,307.27 420.94,307.06 420.36,306.86 419.78,306.67 419.2,306.5 418.62,306.34 418.04,306.19 417.46,306.05 416.88,305.91 416.3,305.79 415.72,305.67 415.14,305.56 414.55,305.45 413.97,305.36 413.39,305.26 412.81,305.18 412.23,305.09 411.65,305.01 411.07,304.94 410.49,304.87 409.91,304.8 409.33,304.74 408.75,304.68 408.17,304.62 407.59,304.56 407,304.51 406.42,304.46 405.84,304.41 405.26,304.37 404.68,304.32 404.1,304.28 403.52,304.24 402.94,304.2 402.36,304.17 401.78,304.13 401.2,304.1 400.61,304.07 400.03,304.03 399.45,304 398.87,303.98 398.29,303.95 397.71,303.92 397.13,303.9 396.55,303.87 395.97,303.85 395.39,303.83 394.81,303.8 394.23,303.78 393.64,303.76 393.06,303.74 392.48,303.72 391.9,303.7 391.32,303.69 390.74,303.67 390.16,303.65 389.58,303.64 389,303.62 388.42,303.6 387.84,303.59 387.26,303.58 386.68,303.56 386.09,303.55 385.51,303.54 384.93,303.52 384.35,303.51 383.77,303.5 383.19,303.49 382.61,303.48 382.03,303.46 381.45,303.45 380.87,303.44 380.29,303.43 379.7,303.42 379.12,303.41 378.54,303.41 377.96,303.4 377.38,303.39 376.8,303.38 376.22,303.37 375.64,303.36 375.06,303.35 374.48,303.35 373.9,303.34 373.32,303.33 372.74,303.33 372.15,303.32 371.57,303.31 370.99,303.3 370.41,303.3 369.83,303.29 369.25,303.29 368.67,303.28 368.09,303.27 367.51,303.27 366.93,303.26 366.35,303.26 365.76,303.25 365.18,303.25 364.6,303.24 364.02,303.24 363.44,303.23 362.86,303.23 362.28,303.22 361.7,303.22 361.12,303.21 360.54,303.21 359.96,303.2 359.38,303.2 358.8,303.2 358.21,303.19 357.63,303.19 357.05,303.18 356.47,303.18 355.89,303.18 355.31,303.17 354.73,303.17 354.15,303.17 353.57,303.16 352.99,303.16 352.41,303.16 351.82,303.15 351.24,303.15 350.66,303.15 350.08,303.14 349.5,303.14 348.92,303.14 348.34,303.13 347.76,303.13 347.18,303.13 346.6,303.13 346.02,303.12"/>
<polyline fill="none" stroke="#f9a0a0" stroke-width="0.8" stroke-linejoin="round" points="346.02,301.56 346.6,302.81 347.18,303.34 347.76,303.57 348.34,303.66 348.92,303.7 349.5,303.71 350.08,303.71 350.66,303.71 351.24,303.7 351.82,303.69 352.41,303.69 352.99,303.68 353.57,303.67 354.15,303.66 354.73,303.65 355.31,303.65 355.89,303.64 356.47,303.63 357.05,303.62 357.63,303.62 358.21,303.61 358.79,303.6 359.38,303.59 359.96,303.59 360.54,303.58 361.12,303.57 361.7,303.57 362.28,303.56 362.86,303.55 363.44,303.55 364.02,303.54 364.6,303.53 365.18,303.53 365.76,303.52 366.35,303.51 366.93,303.51 367.51,303.5 368.09,303.5 368.67,303.49 369.25,303.48 369.83,303.48 370.41,303.47 370.99,303.46 371.57,303.46 372.15,303.45 372.74,303.45 373.32,303.44 373.9,303.44 374.48,303.43 375.06,303.42 375.64,303.42 376.22,303.41 376.8,303.41 377.38,303.4 377.96,303.4 378.54,303.39 379.12,303.39 379.7,303.38 380.29,303.38 380.87,303.37 381.45,303.37 382.03,303.36 382.61,303.36 383.19,303.35 383.77,303.35 384.35,303.34 384.93,303.34 385.51,303.33 386.09,303.33 386.68,303.32 387.26,303.32 387.84,303.31 388.42,303.31 389,303.31 389.58,303.3 390.16,303.3 390.74,303.29 391.32,303.29 391.9,303.28 392.48,303.28 393.06,303.28 393.64,303.27 394.23,303.27 394.81,303.26 395.39,303.26 395.97,303.25 396.55,303.25 397.13,303.25 397.71,303.24 398.29,303.24 398.87,303.23 399.45,303.23 400.03,303.23 400.61,303.22 401.2,303.22 401.78,303.22 402.36,303.21 402.94,303.21 403.52,303.2 404.1,303.2 404.68,303.2 405.26,303.19 405.84,303.19 406.42,303.19 407,303.18 407.59,303.18 408.17,303.17 408.75,303.17 409.33,303.17 409.91,303.16 410.49,303.16 411.07,303.16 411.65,303.15 412.23,303.15 412.81,303.15 413.39,303.14 413.97,303.14 414.55,303.14 415.14,303.13 415.72,303.13 416.3,303.12 416.88,303.12 417.46,303.12 418.04,303.11 418.62,303.11 419.2,303.11 419.78,303.1 420.36,303.1 420.94,303.1 421.52,303.09 422.11,303.09 422.69,303.09 423.27,303.08 423.85,303.08 424.43,303.07 425.01,303.07 425.59,303.07 426.17,303.06 426.75,303.06 427.33,303.05 427.91,303.05 428.5,303.05 429.08,303.04 429.66,303.04 430.24,303.03 430.82,303.03 431.4,303.03 431.98,303.02 432.56,303.02 433.14,303.01 433.72,303.01 434.3,303 434.88,303 435.46,302.99 436.05,302.99 436.63,302.98 437.21,302.97 437.79,302.97 438.37,302.96 438.95,302.96 439.53,302.95 440.11,302.94 440.69,302.93 441.27,302.93 441.85,302.92 442.44,302.91 443.02,302.9 443.6,302.89 444.18,302.88 444.76,302.87 445.34,302.86 445.92,302.85 446.5,302.84 447.08,302.82 447.66,302.81 448.24,302.79 448.82,302.77 449.4,302.76 449.99,302.73 450.57,302.71 451.15,302.68 451.73,302.63 452.31,302.58 452.89,302.5 453.47,302.39 454.05,302.23 454.63,301.99 455.21,301.64 455.79,301.13 456.38,300.42 456.96,299.42 457.54,298.06 458.12,296.25 458.7,293.91 459.28,290.95 459.86,287.31 460.44,282.96 461.02,277.93 461.6,272.28 462.18,266.17 462.76,259.79 463.34,253.42 463.93,247.36 464.51,241.95 465.09,237.51 465.67,234.31 466.25,232.58 466.83,232.43 467.41,234.04 467.99,237.32 468.57,242.02 469.15,247.81 469.73,254.3 470.32,261.1 470.9,267.83 471.48,274.19 472.06,279.97 472.64,285.01 473.22,289.25 473.8,292.71 474.38,295.44 474.96,297.52 475.54,299.08 476.12,300.2 476.7,300.99 477.28,301.54 477.87,301.91 478.45,302.15 479.03,302.32 479.61,302.43 480.19,302.5 480.77,302.56 481.35,302.59 481.93,302.62 482.51,302.65 483.09,302.67 483.67,302.69 484.25,302.7 484.84,302.72 485.42,302.73 486,302.74 486.58,302.75 487.16,302.77 487.74,302.77 488.32,302.78 488.9,302.79 489.48,302.8 490.06,302.81 490.64,302.81 491.22,302.82 491.81,302.83 492.39,302.83 492.97,302.84 493.55,302.84 494.13,302.84 494.71,302.85 495.29,302.85 495.87,302.86 496.45,302.86 497.03,302.86 497.61,302.87 498.19,302.87 498.78,302.87 499.36,302.87 499.94,302.88 500.52,302.88 501.1,302.88 501.68,302.88 502.26,302.88 502.84,302.89 503.42,302.89 504,302.89 504.58,302.89 505.16,302.89 505.75,302.89 506.33,302.89 506.91,302.9 507.49,302.9 508.07,302.9 508.65,302.9 509.23,302.9 509.81,302.9 510.39,302.9 510.97,302.9 511.55,302.9 512.13,302.9 512.72,302.9 513.3,302.9 513.88,302.9 514.46,302.91 515.04,302.91 515.62,302.91 516.2,302.91 516.78,302.91 517.36,302.91 517.94,302.91 518.52,302.91 519.11,302.91 519.69,302.91 520.27,302.91 520.27,302.46 519.69,302.46 519.11,302.47 518.52,302.48 517.94,302.48 517.36,302.49 516.78,302.5 516.2,302.51 515.62,302.51 515.04,302.52 514.46,302.52 513.88,302.53 513.3,302.54 512.72,302.54 512.13,302.55 511.55,302.55 510.97,302.56 510.39,302.57 509.81,302.57 509.23,302.58 508.65,302.58 508.07,302.59 507.49,302.59 506.91,302.6 506.33,302.6 505.75,302.61 505.16,302.61 504.58,302.62 504,302.62 503.42,302.63 502.84,302.63 502.26,302.64 501.68,302.64 501.1,302.64 500.52,302.65 499.94,302.65 499.36,302.66 498.78,302.66 498.19,302.66 497.61,302.67 497.03,302.67 496.45,302.68 495.87,302.68 495.29,302.68 494.71,302.69 494.13,302.69 493.55,302.69 492.97,302.7 492.39,302.7 491.81,302.7 491.22,302.71 490.64,302.71 490.06,302.71 489.48,302.72 488.9,302.72 488.32,302.72 487.74,302.73 487.16,302.73 486.58,302.73 486,302.73 485.42,302.74 484.84,302.74 484.25,302.74 483.67,302.74 483.09,302.75 482.51,302.75 481.93,302.75 481.35,302.75 480.77,302.76 480.19,302.76 479.61,302.76 479.03,302.76 478.45,302.77 477.87,302.77 477.28,302.77 476.7,302.77 476.12,302.77 475.54,302.78 474.96,302.78 474.38,302.78 473.8,302.78 473.22,302.78 472.64,302.79 472.06,302.79 471.48,302.79 470.9,302.79 470.31,302.79 469.73,302.8 469.15,302.8 468.57,302.8 467.99,302.8 467.41,302.8 466.83,302.8 466.25,302.81 465.67,302.81 465.09,302.81 464.51,302.81 463.93,302.81 463.34,302.81 462.76,302.81 462.18,302.82 461.6,302.82 461.02,302.82 460.44,302.82 459.86,302.82 459.28,302.83 458.7,302.83 458.12,302.84 457.54,302.85 456.96,302.87 456.38,302.9 455.79,302.95 455.21,303.04 454.63,303.17 454.05,303.37 453.47,303.68 452.89,304.12 452.31,304.76 451.73,305.65 451.15,306.86 450.57,308.44 449.99,310.48 449.4,313.02 448.82,316.1 448.24,319.71 447.66,323.82 447.08,328.35 446.5,333.14 445.92,338.01 445.34,342.75 444.76,347.09 444.18,350.79 443.6,353.62 443.02,355.4 442.44,356.01 441.85,355.53 441.27,354.12 440.69,351.93 440.11,349.16 439.53,346.03 438.95,342.74 438.37,339.44 437.79,336.26 437.21,333.25 436.63,330.48 436.05,327.95 435.46,325.66 434.88,323.61 434.3,321.77 433.72,320.12 433.14,318.65 432.56,317.34 431.98,316.17 431.4,315.12 430.82,314.18 430.24,313.34 429.66,312.58 429.08,311.89 428.5,311.27 427.91,310.71 427.33,310.2 426.75,309.74 426.17,309.31 425.59,308.93 425.01,308.57 424.43,308.25 423.85,307.95 423.27,307.67 422.69,307.42 422.11,307.19 421.52,306.97 420.94,306.77 420.36,306.58 419.78,306.4 419.2,306.24 418.62,306.09 418.04,305.95 417.46,305.81 416.88,305.69 416.3,305.57 415.72,305.46 415.14,305.36 414.55,305.26 413.97,305.17 413.39,305.08 412.81,305 412.23,304.92 411.65,304.85 411.07,304.78 410.49,304.72 409.91,304.65 409.33,304.59 408.75,304.54 408.17,304.48 407.59,304.43 407,304.38 406.42,304.34 405.84,304.29 405.26,304.25 404.68,304.21 404.1,304.17 403.52,304.13 402.94,304.1 402.36,304.07 401.78,304.03 401.2,304 400.61,303.97 400.03,303.94 399.45,303.92 398.87,303.89 398.29,303.86 397.71,303.84 397.13,303.82 396.55,303.79 395.97,303.77 395.39,303.75 394.81,303.73 394.23,303.71 393.64,303.69 393.06,303.67 392.48,303.65 391.9,303.64 391.32,303.62 390.74,303.6 390.16,303.59 389.58,303.57 389,303.56 388.42,303.55 387.84,303.53 387.26,303.52 386.68,303.51 386.09,303.49 385.51,303.48 384.93,303.47 384.35,303.46 383.77,303.45 383.19,303.44 382.61,303.43 382.03,303.42 381.45,303.41 380.87,303.4 380.29,303.39 379.7,303.38 379.12,303.37 378.54,303.36 377.96,303.35 377.38,303.35 376.8,303.34 376.22,303.33 375.64,303.32 375.06,303.32 374.48,303.31 373.9,303.3 373.32,303.3 372.74,303.29 372.15,303.28 371.57,303.28 370.99,303.27 370.41,303.26 369.83,303.26 369.25,303.25 368.67,303.25 368.09,303.24 367.51,303.24 366.93,303.23 366.35,303.23 365.76,303.22 365.18,303.22 364.6,303.21 364.02,303.21 363.44,303.2 362.86,303.2 362.28,303.19 361.7,303.19 361.12,303.19 360.54,303.18 359.96,303.18 359.38,303.17 358.8,303.17 358.21,303.17 357.63,303.16 357.05,303.16 356.47,303.16 355.89,303.15 355.31,303.15 354.73,303.15 354.15,303.14 353.57,303.14 352.99,303.14 352.41,303.13 351.82,303.13 351.24,303.13 350.66,303.13 350.08,303.12 349.5,303.12 348.92,303.12 348.34,303.11 347.76,303.11 347.18,303.11 346.6,303.11 346.02,303.1"/>
<line x1="466.48" y1="225.37" x2="466.48" y2="264.51" stroke="#f58c8c" stroke-width="0.7" />
<rect x="334.4" y="214.3" width="209.1" height="155.3" fill="none" stroke="#303030" stroke-width="1.1"/>
<line x1="346.02" y1="369.6" x2="346.02" y2="371.3" stroke="#303030" stroke-width="0.9" />
<line x1="369.25" y1="369.6" x2="369.25" y2="371.3" stroke="#303030" stroke-width="0.9" />
<line x1="392.48" y1="369.6" x2="392.48" y2="371.3" stroke="#303030" stroke-width="0.9" />
<line x1="415.72" y1="369.6" x2="415.72" y2="371.3" stroke="#303030" stroke-width="0.9" />
<line x1="438.95" y1="369.6" x2="438.95" y2="371.3" stroke="#303030" stroke-width="0.9" />
<line x1="462.18" y1="369.6" x2="462.18" y2="371.3" stroke="#303030" stroke-width="0.9" />
<line x1="485.42" y1="369.6" x2="485.42" y2="371.3" stroke="#303030" stroke-width="0.9" />
<line x1="508.65" y1="369.6" x2="508.65" y2="371.3" stroke="#303030" stroke-width="0.9" />
<line x1="531.88" y1="369.6" x2="531.88" y2="371.3" stroke="#303030" stroke-width="0.9" />
<line x1="334.4" y1="369.6" x2="334.4" y2="372.6" stroke="#303030" stroke-width="1.1" />
<text x="334.4" y="381.4" font-size="9.0" text-anchor="middle" fill="#141414" font-weight="normal" stroke="#141414" stroke-width="0.22" >2.4</text>
<line x1="357.63" y1="369.6" x2="357.63" y2="372.6" stroke="#303030" stroke-width="1.1" />
<text x="357.63" y="381.4" font-size="9.0" text-anchor="middle" fill="#141414" font-weight="normal" stroke="#141414" stroke-width="0.22" >2.6</text>
<line x1="380.87" y1="369.6" x2="380.87" y2="372.6" stroke="#303030" stroke-width="1.1" />
<text x="380.87" y="381.4" font-size="9.0" text-anchor="middle" fill="#141414" font-weight="normal" stroke="#141414" stroke-width="0.22" >2.8</text>
<line x1="404.1" y1="369.6" x2="404.1" y2="372.6" stroke="#303030" stroke-width="1.1" />
<text x="404.1" y="381.4" font-size="9.0" text-anchor="middle" fill="#141414" font-weight="normal" stroke="#141414" stroke-width="0.22" >3.0</text>
<line x1="427.33" y1="369.6" x2="427.33" y2="372.6" stroke="#303030" stroke-width="1.1" />
<text x="427.33" y="381.4" font-size="9.0" text-anchor="middle" fill="#141414" font-weight="normal" stroke="#141414" stroke-width="0.22" >3.2</text>
<line x1="450.57" y1="369.6" x2="450.57" y2="372.6" stroke="#303030" stroke-width="1.1" />
<text x="450.57" y="381.4" font-size="9.0" text-anchor="middle" fill="#141414" font-weight="normal" stroke="#141414" stroke-width="0.22" >3.4</text>
<line x1="473.8" y1="369.6" x2="473.8" y2="372.6" stroke="#303030" stroke-width="1.1" />
<text x="473.8" y="381.4" font-size="9.0" text-anchor="middle" fill="#141414" font-weight="normal" stroke="#141414" stroke-width="0.22" >3.6</text>
<line x1="497.03" y1="369.6" x2="497.03" y2="372.6" stroke="#303030" stroke-width="1.1" />
<text x="497.03" y="381.4" font-size="9.0" text-anchor="middle" fill="#141414" font-weight="normal" stroke="#141414" stroke-width="0.22" >3.8</text>
<line x1="520.27" y1="369.6" x2="520.27" y2="372.6" stroke="#303030" stroke-width="1.1" />
<text x="520.27" y="381.4" font-size="9.0" text-anchor="middle" fill="#141414" font-weight="normal" stroke="#141414" stroke-width="0.22" >4.0</text>
<line x1="543.5" y1="369.6" x2="543.5" y2="372.6" stroke="#303030" stroke-width="1.1" />
<text x="543.5" y="381.4" font-size="9.0" text-anchor="middle" fill="#141414" font-weight="normal" stroke="#141414" stroke-width="0.22" >4.2</text>
<line x1="334.4" y1="347.2" x2="332.7" y2="347.2" stroke="#303030" stroke-width="0.9" />
<line x1="334.4" y1="317.67" x2="332.7" y2="317.67" stroke="#303030" stroke-width="0.9" />
<line x1="334.4" y1="288.13" x2="332.7" y2="288.13" stroke="#303030" stroke-width="0.9" />
<line x1="334.4" y1="258.6" x2="332.7" y2="258.6" stroke="#303030" stroke-width="0.9" />
<line x1="334.4" y1="229.07" x2="332.7" y2="229.07" stroke="#303030" stroke-width="0.9" />
<line x1="334.4" y1="361.97" x2="331.4" y2="361.97" stroke="#303030" stroke-width="1.1" />
<text x="329.8" y="365.21" font-size="9.0" text-anchor="end" fill="#141414" font-weight="normal" stroke="#141414" stroke-width="0.22" >-0.8</text>
<line x1="334.4" y1="332.43" x2="331.4" y2="332.43" stroke="#303030" stroke-width="1.1" />
<text x="329.8" y="335.67" font-size="9.0" text-anchor="end" fill="#141414" font-weight="normal" stroke="#141414" stroke-width="0.22" >-0.4</text>
<line x1="334.4" y1="302.9" x2="331.4" y2="302.9" stroke="#303030" stroke-width="1.1" />
<text x="329.8" y="306.14" font-size="9.0" text-anchor="end" fill="#141414" font-weight="normal" stroke="#141414" stroke-width="0.22" >0.0</text>
<line x1="334.4" y1="273.37" x2="331.4" y2="273.37" stroke="#303030" stroke-width="1.1" />
<text x="329.8" y="276.61" font-size="9.0" text-anchor="end" fill="#141414" font-weight="normal" stroke="#141414" stroke-width="0.22" >0.4</text>
<line x1="334.4" y1="243.83" x2="331.4" y2="243.83" stroke="#303030" stroke-width="1.1" />
<text x="329.8" y="247.07" font-size="9.0" text-anchor="end" fill="#141414" font-weight="normal" stroke="#141414" stroke-width="0.22" >0.8</text>
<line x1="334.4" y1="214.3" x2="331.4" y2="214.3" stroke="#303030" stroke-width="1.1" />
<text x="329.8" y="217.54" font-size="9.0" text-anchor="end" fill="#141414" font-weight="normal" stroke="#141414" stroke-width="0.22" >1.2</text>
<line x1="344" y1="226.6" x2="362.3" y2="226.6" stroke="#d81e1e" stroke-width="1.0" />
<text x="364.8" y="228.9" font-size="8.2" text-anchor="start" fill="#141414" font-weight="normal" stroke="#141414" stroke-width="0.22" >1<tspan dy="-3.4" font-size="4.4">st</tspan><tspan dy="3.4" dx="2.2">cycle</tspan></text>
<line x1="344" y1="237.5" x2="362.3" y2="237.5" stroke="#f04a4a" stroke-width="1.0" />
<text x="364.8" y="239.8" font-size="8.2" text-anchor="start" fill="#141414" font-weight="normal" stroke="#141414" stroke-width="0.22" >2<tspan dy="-3.4" font-size="4.4">nd</tspan><tspan dy="3.4" dx="2.2">cycle</tspan></text>
<line x1="344" y1="248.4" x2="362.3" y2="248.4" stroke="#f9a0a0" stroke-width="0.8" />
<text x="364.8" y="250.7" font-size="8.2" text-anchor="start" fill="#141414" font-weight="normal" stroke="#141414" stroke-width="0.22" >3<tspan dy="-3.4" font-size="4.4">rd</tspan><tspan dy="3.4" dx="2.2">cycle</tspan></text>
<text x="340.5" y="363.3" font-size="7.9" text-anchor="start" fill="#141414" font-weight="normal" stroke="#141414" stroke-width="0.22" >R-HTS-S-LFP</text>
<text transform="translate(308.3,299.5) rotate(-90)" font-size="10.3" text-anchor="middle" fill="#141414" stroke="#141414" stroke-width="0.22" >Current density (A g<tspan dy="-3.5" font-size="6">-1</tspan><tspan dy="3.5">)</tspan></text>
<text x="439.3" y="399" font-size="10.3" text-anchor="middle" fill="#141414" font-weight="normal" stroke="#141414" stroke-width="0.22" >Voltage (V vs. Li/Li<tspan dy="-3.8" font-size="6.5">+</tspan><tspan dy="3.8">)</tspan></text>
<line x1="587" y1="254.4" x2="794" y2="254.4" stroke="#e9e9e9" stroke-width="0.8" stroke-dasharray="1.5 1"/>
<line x1="587" y1="292.6" x2="794" y2="292.6" stroke="#e9e9e9" stroke-width="0.8" stroke-dasharray="1.5 1"/>
<line x1="587" y1="330.8" x2="794" y2="330.8" stroke="#e9e9e9" stroke-width="0.8" stroke-dasharray="1.5 1"/>
<rect x="620.2" y="226.8" width="68.5" height="15.8" fill="url(#gch)"/>
<polyline fill="none" stroke="#5f6f8c" stroke-width="0.7" points="688.7,226.8 620.2,226.8 620.2,242.6 688.7,242.6"/>
<rect x="692.5" y="226.8" width="60.7" height="15.8" fill="url(#gdis)"/>
<polyline fill="none" stroke="#8c6464" stroke-width="0.7" points="692.5,226.8 753.2,226.8 753.2,242.6 692.5,242.6"/>
<text x="600.6" y="237" font-size="8.0" text-anchor="end" fill="#141414" font-weight="normal" stroke="#141414" stroke-width="0.22" >R-HTS-S</text>
<text x="623.4" y="237.6" font-size="7.6" text-anchor="start" fill="#fff" font-weight="normal"  >156.9</text>
<text x="751.4" y="237.6" font-size="7.6" text-anchor="end" fill="#fff" font-weight="normal"  >152.8</text>
<text x="765" y="236.9" font-size="7.7" text-anchor="start" fill="#141414" font-weight="normal" stroke="#141414" stroke-width="0.22" >97.4%</text>
<rect x="620.2" y="265.4" width="68.5" height="15.8" fill="url(#gch)"/>
<polyline fill="none" stroke="#5f6f8c" stroke-width="0.7" points="688.7,265.4 620.2,265.4 620.2,281.2 688.7,281.2"/>
<rect x="692.5" y="265.4" width="62.3" height="15.8" fill="url(#gdis)"/>
<polyline fill="none" stroke="#8c6464" stroke-width="0.7" points="692.5,265.4 754.8,265.4 754.8,281.2 692.5,281.2"/>
<text x="600.6" y="275.6" font-size="8.0" text-anchor="end" fill="#141414" font-weight="normal" stroke="#141414" stroke-width="0.22" >HTS-S</text>
<text x="623.4" y="276.2" font-size="7.6" text-anchor="start" fill="#fff" font-weight="normal"  >157</text>
<text x="753" y="276.2" font-size="7.6" text-anchor="end" fill="#fff" font-weight="normal"  >153.5</text>
<text x="765" y="275.5" font-size="7.7" text-anchor="start" fill="#141414" font-weight="normal" stroke="#141414" stroke-width="0.22" >97.8 %</text>
<rect x="616.8" y="304" width="71.9" height="15.8" fill="url(#gch)"/>
<polyline fill="none" stroke="#5f6f8c" stroke-width="0.7" points="688.7,304 616.8,304 616.8,319.8 688.7,319.8"/>
<rect x="692.5" y="304" width="36.3" height="15.8" fill="url(#gdis)"/>
<polyline fill="none" stroke="#8c6464" stroke-width="0.7" points="692.5,304 728.8,304 728.8,319.8 692.5,319.8"/>
<text x="600.6" y="314.2" font-size="8.0" text-anchor="end" fill="#141414" font-weight="normal" stroke="#141414" stroke-width="0.22" >Scrap</text>
<text x="620" y="314.8" font-size="7.6" text-anchor="start" fill="#fff" font-weight="normal"  >158.8</text>
<text x="727" y="314.8" font-size="7.6" text-anchor="end" fill="#fff" font-weight="normal"  >139.7</text>
<text x="766.2" y="314.1" font-size="7.7" text-anchor="start" fill="#141414" font-weight="normal" stroke="#141414" stroke-width="0.22" >87.9%</text>
<rect x="610.8" y="342.6" width="77.9" height="15.8" fill="url(#gch)"/>
<polyline fill="none" stroke="#5f6f8c" stroke-width="0.7" points="688.7,342.6 610.8,342.6 610.8,358.4 688.7,358.4"/>
<rect x="692.5" y="342.6" width="65.6" height="15.8" fill="url(#gdis)"/>
<polyline fill="none" stroke="#8c6464" stroke-width="0.7" points="692.5,342.6 758.1,342.6 758.1,358.4 692.5,358.4"/>
<text x="600.6" y="352.8" font-size="8.0" text-anchor="end" fill="#141414" font-weight="normal" stroke="#141414" stroke-width="0.22" >Commercial</text>
<text x="614" y="353.4" font-size="7.6" text-anchor="start" fill="#fff" font-weight="normal"  >161.9</text>
<text x="756.3" y="353.4" font-size="7.6" text-anchor="end" fill="#fff" font-weight="normal"  >155.3</text>
<text x="766.2" y="352.7" font-size="7.7" text-anchor="start" fill="#141414" font-weight="normal" stroke="#141414" stroke-width="0.22" >95.9%</text>
<line x1="690.6" y1="215.3" x2="690.6" y2="369.3" stroke="#555" stroke-width="1.0" />
<line x1="587" y1="369.3" x2="794.6" y2="369.3" stroke="#555" stroke-width="1.0" />
<rect x="687.6" y="367.5" width="5" height="3.6" fill="#fff"/>
<line x1="686.8" y1="372.4" x2="689.6" y2="365.6" stroke="#444" stroke-width="0.8" />
<line x1="689.8" y1="372.4" x2="692.6" y2="365.6" stroke="#444" stroke-width="0.8" />
<text x="577.4" y="215.3" font-size="7.6" text-anchor="start" fill="#141414" font-weight="normal" stroke="#141414" stroke-width="0.22" >LFP</text>
<rect x="634.2" y="208.6" width="19.7" height="9.3" fill="url(#gch)" stroke="#777" stroke-width="0.7"/>
<text x="656.2" y="216.2" font-size="8.5" text-anchor="start" fill="#141414" font-weight="normal" stroke="#141414" stroke-width="0.22" >Charge</text>
<rect x="697" y="208.8" width="19" height="9.2" fill="url(#gdis)" stroke="#777" stroke-width="0.7"/>
<text x="719" y="216.2" font-size="8.5" text-anchor="start" fill="#141414" font-weight="normal" stroke="#141414" stroke-width="0.22" >Discharge</text>
<text x="631" y="384.2" font-size="10.2" text-anchor="start" fill="#141414" font-weight="normal" stroke="#141414" stroke-width="0.22" >Specific capacity (mAh g<tspan dy="-3.8" font-size="6.5">-1</tspan><tspan dy="3.8">)</tspan></text>
<clipPath id="clipg"><rect x="77.4" y="407.1" width="208.60000000000002" height="159.39999999999998"/></clipPath>
<g clip-path="url(#clipg)"><circle cx="83.45" cy="442.52" r="2.05" fill="url(#bg0)"/><circle cx="89.39" cy="437.21" r="2.05" fill="url(#bg0)"/><circle cx="95.34" cy="435.88" r="2.05" fill="url(#bg0)"/><circle cx="101.28" cy="434.55" r="2.05" fill="url(#bg0)"/><circle cx="107.23" cy="434.55" r="2.05" fill="url(#bg0)"/><circle cx="113.18" cy="436.32" r="2.05" fill="url(#bg0)"/><circle cx="119.12" cy="436.77" r="2.05" fill="url(#bg0)"/><circle cx="125.07" cy="436.77" r="2.05" fill="url(#bg0)"/><circle cx="131.01" cy="437.21" r="2.05" fill="url(#bg0)"/><circle cx="136.96" cy="437.21" r="2.05" fill="url(#bg0)"/><circle cx="142.9" cy="442.97" r="2.05" fill="url(#bg0)"/><circle cx="148.85" cy="443.85" r="2.05" fill="url(#bg0)"/><circle cx="154.79" cy="444.29" r="2.05" fill="url(#bg0)"/><circle cx="160.74" cy="444.29" r="2.05" fill="url(#bg0)"/><circle cx="166.69" cy="444.29" r="2.05" fill="url(#bg0)"/><circle cx="172.63" cy="450.94" r="2.05" fill="url(#bg0)"/><circle cx="178.58" cy="451.38" r="2.05" fill="url(#bg0)"/><circle cx="184.52" cy="451.38" r="2.05" fill="url(#bg0)"/><circle cx="190.47" cy="451.82" r="2.05" fill="url(#bg0)"/><circle cx="196.41" cy="451.82" r="2.05" fill="url(#bg0)"/><circle cx="202.36" cy="459.35" r="2.05" fill="url(#bg0)"/><circle cx="208.31" cy="460.23" r="2.05" fill="url(#bg0)"/><circle cx="214.25" cy="461.56" r="2.05" fill="url(#bg0)"/><circle cx="220.2" cy="462.45" r="2.05" fill="url(#bg0)"/><circle cx="226.14" cy="464.66" r="2.05" fill="url(#bg0)"/><circle cx="232.09" cy="542.59" r="2.05" fill="url(#bg0)"/><circle cx="238.03" cy="547.02" r="2.05" fill="url(#bg0)"/><circle cx="243.98" cy="549.67" r="2.05" fill="url(#bg0)"/><circle cx="249.93" cy="553.22" r="2.05" fill="url(#bg0)"/><circle cx="255.87" cy="555.87" r="2.05" fill="url(#bg0)"/><circle cx="261.82" cy="438.09" r="2.05" fill="url(#bg0)"/><circle cx="267.76" cy="439.87" r="2.05" fill="url(#bg0)"/><circle cx="273.71" cy="438.98" r="2.05" fill="url(#bg0)"/><circle cx="279.65" cy="438.09" r="2.05" fill="url(#bg0)"/><circle cx="285.6" cy="438.98" r="2.05" fill="url(#bg0)"/><circle cx="83.45" cy="431.01" r="2.05" fill="url(#bg1)"/><circle cx="89.39" cy="429.24" r="2.05" fill="url(#bg1)"/><circle cx="95.34" cy="428.35" r="2.05" fill="url(#bg1)"/><circle cx="101.28" cy="428.35" r="2.05" fill="url(#bg1)"/><circle cx="107.23" cy="428.35" r="2.05" fill="url(#bg1)"/><circle cx="113.18" cy="429.24" r="2.05" fill="url(#bg1)"/><circle cx="119.12" cy="429.24" r="2.05" fill="url(#bg1)"/><circle cx="125.07" cy="429.24" r="2.05" fill="url(#bg1)"/><circle cx="131.01" cy="429.24" r="2.05" fill="url(#bg1)"/><circle cx="136.96" cy="429.24" r="2.05" fill="url(#bg1)"/><circle cx="142.9" cy="435.88" r="2.05" fill="url(#bg1)"/><circle cx="148.85" cy="435.88" r="2.05" fill="url(#bg1)"/><circle cx="154.79" cy="435.88" r="2.05" fill="url(#bg1)"/><circle cx="160.74" cy="435.88" r="2.05" fill="url(#bg1)"/><circle cx="166.69" cy="435.88" r="2.05" fill="url(#bg1)"/><circle cx="172.63" cy="443.41" r="2.05" fill="url(#bg1)"/><circle cx="178.58" cy="443.41" r="2.05" fill="url(#bg1)"/><circle cx="184.52" cy="443.41" r="2.05" fill="url(#bg1)"/><circle cx="190.47" cy="443.85" r="2.05" fill="url(#bg1)"/><circle cx="196.41" cy="445.18" r="2.05" fill="url(#bg1)"/><circle cx="202.36" cy="454.92" r="2.05" fill="url(#bg1)"/><circle cx="208.31" cy="455.81" r="2.05" fill="url(#bg1)"/><circle cx="214.25" cy="456.25" r="2.05" fill="url(#bg1)"/><circle cx="220.2" cy="456.69" r="2.05" fill="url(#bg1)"/><circle cx="226.14" cy="457.13" r="2.05" fill="url(#bg1)"/><circle cx="232.09" cy="474.85" r="2.05" fill="url(#bg1)"/><circle cx="238.03" cy="475.73" r="2.05" fill="url(#bg1)"/><circle cx="243.98" cy="477.06" r="2.05" fill="url(#bg1)"/><circle cx="249.93" cy="477.94" r="2.05" fill="url(#bg1)"/><circle cx="255.87" cy="478.39" r="2.05" fill="url(#bg1)"/><circle cx="261.82" cy="435.44" r="2.05" fill="url(#bg1)"/><circle cx="267.76" cy="435.44" r="2.05" fill="url(#bg1)"/><circle cx="273.71" cy="435.44" r="2.05" fill="url(#bg1)"/><circle cx="279.65" cy="435.44" r="2.05" fill="url(#bg1)"/><circle cx="285.6" cy="436.32" r="2.05" fill="url(#bg1)"/><circle cx="83.45" cy="431.45" r="2.05" fill="url(#bg2)"/><circle cx="89.39" cy="429.68" r="2.05" fill="url(#bg2)"/><circle cx="95.34" cy="429.24" r="2.05" fill="url(#bg2)"/><circle cx="101.28" cy="428.35" r="2.05" fill="url(#bg2)"/><circle cx="107.23" cy="428.35" r="2.05" fill="url(#bg2)"/><circle cx="113.18" cy="430.12" r="2.05" fill="url(#bg2)"/><circle cx="119.12" cy="430.12" r="2.05" fill="url(#bg2)"/><circle cx="125.07" cy="429.68" r="2.05" fill="url(#bg2)"/><circle cx="131.01" cy="429.68" r="2.05" fill="url(#bg2)"/><circle cx="136.96" cy="429.68" r="2.05" fill="url(#bg2)"/><circle cx="142.9" cy="434.11" r="2.05" fill="url(#bg2)"/><circle cx="148.85" cy="434.11" r="2.05" fill="url(#bg2)"/><circle cx="154.79" cy="434.11" r="2.05" fill="url(#bg2)"/><circle cx="160.74" cy="434.11" r="2.05" fill="url(#bg2)"/><circle cx="166.69" cy="434.11" r="2.05" fill="url(#bg2)"/><circle cx="172.63" cy="439.87" r="2.05" fill="url(#bg2)"/><circle cx="178.58" cy="439.87" r="2.05" fill="url(#bg2)"/><circle cx="184.52" cy="439.87" r="2.05" fill="url(#bg2)"/><circle cx="190.47" cy="439.87" r="2.05" fill="url(#bg2)"/><circle cx="196.41" cy="439.87" r="2.05" fill="url(#bg2)"/><circle cx="202.36" cy="447.84" r="2.05" fill="url(#bg2)"/><circle cx="208.31" cy="447.84" r="2.05" fill="url(#bg2)"/><circle cx="214.25" cy="447.84" r="2.05" fill="url(#bg2)"/><circle cx="220.2" cy="447.84" r="2.05" fill="url(#bg2)"/><circle cx="226.14" cy="447.84" r="2.05" fill="url(#bg2)"/><circle cx="232.09" cy="462" r="2.05" fill="url(#bg2)"/><circle cx="238.03" cy="463.78" r="2.05" fill="url(#bg2)"/><circle cx="243.98" cy="463.78" r="2.05" fill="url(#bg2)"/><circle cx="249.93" cy="464.22" r="2.05" fill="url(#bg2)"/><circle cx="255.87" cy="463.78" r="2.05" fill="url(#bg2)"/><circle cx="261.82" cy="432.78" r="2.05" fill="url(#bg2)"/><circle cx="267.76" cy="432.78" r="2.05" fill="url(#bg2)"/><circle cx="273.71" cy="432.78" r="2.05" fill="url(#bg2)"/><circle cx="279.65" cy="432.78" r="2.05" fill="url(#bg2)"/><circle cx="285.6" cy="432.78" r="2.05" fill="url(#bg2)"/><circle cx="83.45" cy="426.58" r="2.05" fill="url(#bg3)"/><circle cx="89.39" cy="426.14" r="2.05" fill="url(#bg3)"/><circle cx="95.34" cy="428.35" r="2.05" fill="url(#bg3)"/><circle cx="101.28" cy="428.35" r="2.05" fill="url(#bg3)"/><circle cx="107.23" cy="427.47" r="2.05" fill="url(#bg3)"/><circle cx="113.18" cy="428.35" r="2.05" fill="url(#bg3)"/><circle cx="119.12" cy="428.35" r="2.05" fill="url(#bg3)"/><circle cx="125.07" cy="427.47" r="2.05" fill="url(#bg3)"/><circle cx="131.01" cy="427.03" r="2.05" fill="url(#bg3)"/><circle cx="136.96" cy="427.03" r="2.05" fill="url(#bg3)"/><circle cx="142.9" cy="430.57" r="2.05" fill="url(#bg3)"/><circle cx="148.85" cy="430.57" r="2.05" fill="url(#bg3)"/><circle cx="154.79" cy="430.57" r="2.05" fill="url(#bg3)"/><circle cx="160.74" cy="430.57" r="2.05" fill="url(#bg3)"/><circle cx="166.69" cy="430.57" r="2.05" fill="url(#bg3)"/><circle cx="172.63" cy="436.32" r="2.05" fill="url(#bg3)"/><circle cx="178.58" cy="436.32" r="2.05" fill="url(#bg3)"/><circle cx="184.52" cy="436.32" r="2.05" fill="url(#bg3)"/><circle cx="190.47" cy="436.32" r="2.05" fill="url(#bg3)"/><circle cx="196.41" cy="436.32" r="2.05" fill="url(#bg3)"/><circle cx="202.36" cy="445.18" r="2.05" fill="url(#bg3)"/><circle cx="208.31" cy="445.18" r="2.05" fill="url(#bg3)"/><circle cx="214.25" cy="445.18" r="2.05" fill="url(#bg3)"/><circle cx="220.2" cy="445.18" r="2.05" fill="url(#bg3)"/><circle cx="226.14" cy="445.18" r="2.05" fill="url(#bg3)"/><circle cx="232.09" cy="461.56" r="2.05" fill="url(#bg3)"/><circle cx="238.03" cy="462.89" r="2.05" fill="url(#bg3)"/><circle cx="243.98" cy="462.45" r="2.05" fill="url(#bg3)"/><circle cx="249.93" cy="462.89" r="2.05" fill="url(#bg3)"/><circle cx="255.87" cy="462" r="2.05" fill="url(#bg3)"/><circle cx="261.82" cy="430.57" r="2.05" fill="url(#bg3)"/><circle cx="267.76" cy="430.57" r="2.05" fill="url(#bg3)"/><circle cx="273.71" cy="430.57" r="2.05" fill="url(#bg3)"/><circle cx="279.65" cy="430.57" r="2.05" fill="url(#bg3)"/><circle cx="285.6" cy="430.57" r="2.05" fill="url(#bg3)"/></g>
<line x1="77.4" y1="407.1" x2="285.6" y2="407.1" stroke="#8c8c8c" stroke-width="1.2" />
<line x1="285.6" y1="407.1" x2="285.6" y2="566.5" stroke="#8c8c8c" stroke-width="1.2" />
<line x1="77.4" y1="406.6" x2="77.4" y2="566.5" stroke="#303030" stroke-width="1.1" />
<line x1="77.4" y1="566.5" x2="286.1" y2="566.5" stroke="#303030" stroke-width="1.1" />
<line x1="107.23" y1="566.5" x2="107.23" y2="568" stroke="#303030" stroke-width="0.9" />
<line x1="166.69" y1="566.5" x2="166.69" y2="568" stroke="#303030" stroke-width="0.9" />
<line x1="226.14" y1="566.5" x2="226.14" y2="568" stroke="#303030" stroke-width="0.9" />
<line x1="285.6" y1="566.5" x2="285.6" y2="568" stroke="#303030" stroke-width="0.9" />
<line x1="77.5" y1="566.5" x2="77.5" y2="569.1" stroke="#303030" stroke-width="1.1" />
<text x="77.5" y="576.9" font-size="6.6" text-anchor="middle" fill="#141414" font-weight="normal" stroke="#141414" stroke-width="0.22" >0</text>
<line x1="136.96" y1="566.5" x2="136.96" y2="569.1" stroke="#303030" stroke-width="1.1" />
<text x="136.96" y="576.9" font-size="6.6" text-anchor="middle" fill="#141414" font-weight="normal" stroke="#141414" stroke-width="0.22" >10</text>
<line x1="196.41" y1="566.5" x2="196.41" y2="569.1" stroke="#303030" stroke-width="1.1" />
<text x="196.41" y="576.9" font-size="6.6" text-anchor="middle" fill="#141414" font-weight="normal" stroke="#141414" stroke-width="0.22" >20</text>
<line x1="255.87" y1="566.5" x2="255.87" y2="569.1" stroke="#303030" stroke-width="1.1" />
<text x="255.87" y="576.9" font-size="6.6" text-anchor="middle" fill="#141414" font-weight="normal" stroke="#141414" stroke-width="0.22" >30</text>
<line x1="77.4" y1="557.64" x2="75.9" y2="557.64" stroke="#303030" stroke-width="0.9" />
<line x1="77.4" y1="539.93" x2="75.9" y2="539.93" stroke="#303030" stroke-width="0.9" />
<line x1="77.4" y1="522.22" x2="75.9" y2="522.22" stroke="#303030" stroke-width="0.9" />
<line x1="77.4" y1="504.51" x2="75.9" y2="504.51" stroke="#303030" stroke-width="0.9" />
<line x1="77.4" y1="486.8" x2="75.9" y2="486.8" stroke="#303030" stroke-width="0.9" />
<line x1="77.4" y1="469.09" x2="75.9" y2="469.09" stroke="#303030" stroke-width="0.9" />
<line x1="77.4" y1="451.38" x2="75.9" y2="451.38" stroke="#303030" stroke-width="0.9" />
<line x1="77.4" y1="433.67" x2="75.9" y2="433.67" stroke="#303030" stroke-width="0.9" />
<line x1="77.4" y1="415.96" x2="75.9" y2="415.96" stroke="#303030" stroke-width="0.9" />
<line x1="77.4" y1="566.5" x2="74.8" y2="566.5" stroke="#303030" stroke-width="1.1" />
<text x="73.4" y="568.28" font-size="6.6" text-anchor="end" fill="#141414" font-weight="normal" stroke="#141414" stroke-width="0.22" >0</text>
<line x1="77.4" y1="548.79" x2="74.8" y2="548.79" stroke="#303030" stroke-width="1.1" />
<text x="73.4" y="550.56" font-size="6.6" text-anchor="end" fill="#141414" font-weight="normal" stroke="#141414" stroke-width="0.22" >20</text>
<line x1="77.4" y1="531.08" x2="74.8" y2="531.08" stroke="#303030" stroke-width="1.1" />
<text x="73.4" y="532.85" font-size="6.6" text-anchor="end" fill="#141414" font-weight="normal" stroke="#141414" stroke-width="0.22" >40</text>
<line x1="77.4" y1="513.37" x2="74.8" y2="513.37" stroke="#303030" stroke-width="1.1" />
<text x="73.4" y="515.14" font-size="6.6" text-anchor="end" fill="#141414" font-weight="normal" stroke="#141414" stroke-width="0.22" >60</text>
<line x1="77.4" y1="495.66" x2="74.8" y2="495.66" stroke="#303030" stroke-width="1.1" />
<text x="73.4" y="497.43" font-size="6.6" text-anchor="end" fill="#141414" font-weight="normal" stroke="#141414" stroke-width="0.22" >80</text>
<line x1="77.4" y1="477.94" x2="74.8" y2="477.94" stroke="#303030" stroke-width="1.1" />
<text x="73.4" y="479.72" font-size="6.6" text-anchor="end" fill="#141414" font-weight="normal" stroke="#141414" stroke-width="0.22" >100</text>
<line x1="77.4" y1="460.23" x2="74.8" y2="460.23" stroke="#303030" stroke-width="1.1" />
<text x="73.4" y="462.01" font-size="6.6" text-anchor="end" fill="#141414" font-weight="normal" stroke="#141414" stroke-width="0.22" >120</text>
<line x1="77.4" y1="442.52" x2="74.8" y2="442.52" stroke="#303030" stroke-width="1.1" />
<text x="73.4" y="444.3" font-size="6.6" text-anchor="end" fill="#141414" font-weight="normal" stroke="#141414" stroke-width="0.22" >140</text>
<line x1="77.4" y1="424.81" x2="74.8" y2="424.81" stroke="#303030" stroke-width="1.1" />
<text x="73.4" y="426.59" font-size="6.6" text-anchor="end" fill="#141414" font-weight="normal" stroke="#141414" stroke-width="0.22" >160</text>
<line x1="77.4" y1="407.1" x2="74.8" y2="407.1" stroke="#303030" stroke-width="1.1" />
<text x="73.4" y="408.88" font-size="6.6" text-anchor="end" fill="#141414" font-weight="normal" stroke="#141414" stroke-width="0.22" >180</text>
<text x="89.2" y="421.5" font-size="7.2" text-anchor="start" fill="#141414" font-weight="normal" stroke="#141414" stroke-width="0.22" >0.1C</text>
<text x="116.8" y="422.3" font-size="7.2" text-anchor="start" fill="#141414" font-weight="normal" stroke="#141414" stroke-width="0.22" >0.2C</text>
<text x="145.2" y="424.6" font-size="7.2" text-anchor="start" fill="#141414" font-weight="normal" stroke="#141414" stroke-width="0.22" >0.5C</text>
<text x="179.8" y="432.4" font-size="7.2" text-anchor="start" fill="#141414" font-weight="normal" stroke="#141414" stroke-width="0.22" >1C</text>
<text x="210.2" y="438" font-size="7.2" text-anchor="start" fill="#141414" font-weight="normal" stroke="#141414" stroke-width="0.22" >2C</text>
<text x="238.2" y="456.4" font-size="7.2" text-anchor="start" fill="#141414" font-weight="normal" stroke="#141414" stroke-width="0.22" >5C</text>
<text x="263.3" y="425.3" font-size="7.2" text-anchor="start" fill="#141414" font-weight="normal" stroke="#141414" stroke-width="0.22" >0.5C</text>
<circle cx="91.8" cy="511.9" r="2.1" fill="url(#bg0)"/>
<text x="102" y="514.4" font-size="7.3" text-anchor="start" fill="#141414" font-weight="normal" stroke="#141414" stroke-width="0.22" >Scrap LFP</text>
<circle cx="91.8" cy="521" r="2.1" fill="url(#bg1)"/>
<text x="102" y="523.5" font-size="7.3" text-anchor="start" fill="#141414" font-weight="normal" stroke="#141414" stroke-width="0.22" >HTS-S-LFP</text>
<circle cx="91.8" cy="530.1" r="2.1" fill="url(#bg2)"/>
<text x="102" y="532.6" font-size="7.3" text-anchor="start" fill="#141414" font-weight="normal" stroke="#141414" stroke-width="0.22" >R-HTS-LFP</text>
<circle cx="91.8" cy="539.2" r="2.1" fill="url(#bg3)"/>
<text x="102" y="541.7" font-size="7.3" text-anchor="start" fill="#141414" font-weight="normal" stroke="#141414" stroke-width="0.22" >Commercial LFP</text>
<text transform="translate(55.9,494) rotate(-90)" font-size="10.4" text-anchor="middle" fill="#141414" stroke="#141414" stroke-width="0.22" >Capacity (mAh g<tspan dy="-3.8" font-size="6.5">-1</tspan><tspan dy="3.8">)</tspan></text>
<text x="181.9" y="588.3" font-size="10.1" text-anchor="middle" fill="#141414" font-weight="normal" stroke="#141414" stroke-width="0.22" >Cycle number</text>
<rect x="364" y="470.6" width="99.7" height="86.7" fill="url(#gphoto)"/>
<g filter="url(#blurp)"><rect x="402.1" y="487.6" width="4.5" height="7" fill="#6e6552"/><rect x="417.8" y="487.6" width="4.1" height="6.6" fill="#6e6552"/><rect x="402.1" y="487.6" width="4.5" height="2.4" fill="#c9c4b6"/><rect x="417.8" y="487.6" width="4.1" height="2.2" fill="#c9c4b6"/><rect x="391.6" y="493.3" width="45.5" height="45.6" fill="#8e8e8e"/><rect x="392.4" y="493.3" width="43.6" height="3.4" fill="#c4c4c4"/><rect x="391.6" y="495.5" width="6.1" height="43.4" fill="#939393"/><rect x="393.6" y="496" width="1.2" height="42" fill="#b8b8b8"/><rect x="429.2" y="494.5" width="7.9" height="44.4" fill="#858585"/><rect x="431.8" y="496" width="1.3" height="40" fill="#b9b9b9"/><rect x="434.6" y="497" width="0.9" height="36" fill="#a6a6a6"/><rect x="397.7" y="534.2" width="31.5" height="3" fill="#9a9a9a"/><rect x="397.7" y="496.4" width="31.5" height="37.8" fill="url(#gcell)" stroke="#d2d2d2" stroke-width="0.6"/></g>
<polyline fill="none" stroke="#707070" stroke-width="3.4" points="341.5,432.37 342.89,432.52 344.29,432.43 345.69,432.55 347.08,432.56 348.48,432.28 349.87,432.26 351.26,432.67 352.66,432.38 354.06,432.37 355.45,432.75 356.85,432.49 358.24,432.67 359.63,432.49 361.03,432.57 362.43,432.33 363.82,432.57 365.21,432.68 366.61,432.51 368,432.62 369.4,432.59 370.8,432.28 372.19,432.63 373.58,432.55 374.98,432.4 376.38,432.27 377.77,432.68 379.17,432.49 380.56,432.61 381.95,432.69 383.35,432.61 384.75,432.71 386.14,432.45 387.54,432.65 388.93,432.47 390.32,432.72 391.72,432.69 393.12,432.3 394.51,432.32 395.9,432.36 397.3,432.73 398.69,432.47 400.09,432.56 401.49,432.4 402.88,432.5 404.27,432.44 405.67,432.43 407.06,432.54 408.46,432.54 409.86,432.7 411.25,432.59 412.64,432.71 414.04,432.68 415.44,432.75 416.83,432.59 418.23,432.33 419.62,432.68 421.01,432.73 422.41,432.7 423.81,432.53 425.2,432.61 426.6,432.36 427.99,432.67 429.38,432.54 430.78,432.39 432.18,432.28 433.57,432.68 434.97,432.74 436.36,432.29 437.75,432.65 439.15,432.46 440.55,432.33 441.94,432.4 443.34,432.63 444.73,432.69 446.12,432.27 447.52,432.56 448.91,432.27 450.31,432.61 451.7,432.42 453.1,432.69 454.5,432.74 455.89,432.5 457.28,432.75 458.68,432.4 460.07,432.29 461.47,432.55 462.87,432.27 464.26,432.35 465.66,432.45 467.05,432.56 468.44,432.33 469.84,432.27 471.24,432.68 472.63,432.41 474.02,432.73 475.42,432.7 476.81,432.44 478.21,432.48 479.61,432.51 481,432.57 482.39,432.55 483.79,432.53 485.19,432.56 486.58,432.72 487.98,432.5 489.37,432.47 490.76,432.61 492.16,432.37 493.56,432.4 494.95,432.74 496.35,432.51 497.74,432.52 499.13,432.26 500.53,432.46 501.93,432.54 503.32,432.26 504.72,432.56 506.11,432.57 507.5,432.28 508.9,432.56 510.29,432.48 511.69,432.59 513.09,432.43 514.48,432.6 515.88,432.62 517.27,432.26 518.66,432.28 520.06,432.59 521.45,432.73 522.85,432.38 524.25,432.48 525.64,432.55 527.03,432.41 528.43,432.43 529.83,432.41 531.22,432.43 532.62,432.55 534.01,432.4 535.4,432.44 536.8,432.64 538.19,432.26 539.59,432.53 540.99,432.62 542.38,432.41 543.77,432.36 545.17,432.65 546.57,432.37 547.96,432.34 549.36,432.47 550.75,432.6 552.14,432.3 553.54,432.41 554.93,432.42 556.33,432.67 557.73,432.47 559.12,432.68 560.51,432.33 561.91,432.42 563.31,432.58 564.7,432.69 566.1,432.48 567.49,432.36 568.88,432.31 570.28,432.51 571.67,432.35 573.07,432.65 574.47,432.67 575.86,432.34 577.25,432.39 578.65,432.65 580.04,432.57 581.44,432.65 582.84,432.42 584.23,432.31 585.62,432.4 587.02,432.65 588.41,432.39 589.81,432.42 591.21,432.46 592.6,432.46 594,432.45 595.39,432.71 596.78,432.33 598.18,432.25 599.58,432.72 600.97,432.69 602.37,432.74 603.76,432.47 605.15,432.73 606.55,432.71 607.94,432.36 609.34,432.62 610.74,432.67 612.13,432.58 613.53,432.51 614.92,432.39 616.32,432.42 617.71,432.36 619.11,432.28 620.5,432.54 621.89,432.39 623.29,432.66 624.68,432.27 626.08,432.7 627.48,432.6 628.87,432.71 630.26,432.7 631.66,432.7 633.06,432.54 634.45,432.26 635.85,432.62 637.24,432.34 638.63,432.4 640.03,432.58 641.42,432.51 642.82,432.46 644.22,432.72 645.61,432.56 647,432.42 648.4,432.38 649.8,432.68 651.19,432.49 652.59,432.64 653.98,432.43 655.38,432.35 656.77,432.52 658.16,432.66 659.56,432.34 660.95,432.65 662.35,432.71 663.75,432.65 665.14,432.66 666.53,432.25 667.93,432.56 669.33,432.68 670.72,432.27 672.12,432.39 673.51,432.38 674.9,432.51 676.3,432.46 677.69,432.49 679.09,432.64 680.49,432.25 681.88,432.28 683.27,432.31 684.67,432.31 686.07,432.28 687.46,432.74 688.86,432.68 690.25,432.29 691.64,432.5 693.04,432.41 694.43,432.41 695.83,432.43 697.22,432.57 698.62,432.54 700.01,432.43 701.41,432.35 702.81,432.41 704.2,432.31 705.6,432.53 706.99,432.61 708.38,432.44 709.78,432.29 711.17,432.34 712.57,432.44 713.97,432.55 715.36,432.64 716.75,432.44 718.15,432.65 719.55,432.56 720.94,432.47 722.34,432.44 723.73,432.5 725.12,432.6 726.52,432.46 727.91,432.6 729.31,432.48 730.71,432.37 732.1,432.52 733.5,432.6 734.89,432.29 736.29,432.46 737.68,432.46 739.08,432.69 740.47,432.72 741.87,432.44 743.26,432.7 744.65,432.65 746.05,432.38 747.44,432.48 748.84,432.31 750.24,432.66 751.63,432.58 753.02,432.69 754.42,432.65 755.82,432.58 757.21,432.62 758.61,432.53 760,432.3"/>
<polyline fill="none" stroke="#d2d2d2" stroke-width="1.3" points="341.5,432.34 342.89,432.26 344.29,432.44 345.69,432.29 347.08,432.24 348.48,432.44 349.87,432.75 351.26,432.68 352.66,432.66 354.06,432.33 355.45,432.52 356.85,432.37 358.24,432.3 359.63,432.26 361.03,432.33 362.43,432.76 363.82,432.7 365.21,432.68 366.61,432.68 368,432.32 369.4,432.39 370.8,432.58 372.19,432.64 373.58,432.71 374.98,432.73 376.38,432.25 377.77,432.56 379.17,432.6 380.56,432.5 381.95,432.31 383.35,432.48 384.75,432.25 386.14,432.76 387.54,432.72 388.93,432.53 390.32,432.38 391.72,432.75 393.12,432.54 394.51,432.73 395.9,432.71 397.3,432.51 398.69,432.45 400.09,432.56 401.49,432.46 402.88,432.3 404.27,432.38 405.67,432.69 407.06,432.23 408.46,432.23 409.86,432.58 411.25,432.37 412.64,432.52 414.04,432.48 415.44,432.41 416.83,432.8 418.23,432.32 419.62,432.45 421.01,432.32 422.41,432.58 423.81,432.37 425.2,432.41 426.6,432.65 427.99,432.39 429.38,432.54 430.78,432.74 432.18,432.26 433.57,432.24 434.97,432.34 436.36,432.66 437.75,432.57 439.15,432.34 440.55,432.4 441.94,432.31 443.34,432.48 444.73,432.23 446.12,432.62 447.52,432.74 448.91,432.77 450.31,432.64 451.7,432.78 453.1,432.21 454.5,432.37 455.89,432.78 457.28,432.67 458.68,432.45 460.07,432.77 461.47,432.57 462.87,432.69 464.26,432.38 465.66,432.31 467.05,432.47 468.44,432.28 469.84,432.43 471.24,432.78 472.63,432.4 474.02,432.21 475.42,432.23 476.81,432.3 478.21,432.67 479.61,432.42 481,432.37 482.39,432.26 483.79,432.79 485.19,432.45 486.58,432.32 487.98,432.24 489.37,432.23 490.76,432.3 492.16,432.61 493.56,432.29 494.95,432.22 496.35,432.49 497.74,432.35 499.13,432.8 500.53,432.27 501.93,432.52 503.32,432.66 504.72,432.45 506.11,432.79 507.5,432.49 508.9,432.35 510.29,432.45 511.69,432.22 513.09,432.45 514.48,432.35 515.88,432.73 517.27,432.7 518.66,432.5 520.06,432.22 521.45,432.35 522.85,432.35 524.25,432.32 525.64,432.34 527.03,432.72 528.43,432.29 529.83,432.23 531.22,432.76 532.62,432.54 534.01,432.79 535.4,432.44 536.8,432.74 538.19,432.59 539.59,432.67 540.99,432.65 542.38,432.5 543.77,432.26 545.17,432.33 546.57,432.72 547.96,432.74 549.36,432.75 550.75,432.4 552.14,432.59 553.54,432.68 554.93,432.59 556.33,432.69 557.73,432.52 559.12,432.59 560.51,432.61 561.91,432.36 563.31,432.75 564.7,432.77 566.1,432.24 567.49,432.78 568.88,432.78 570.28,432.6 571.67,432.23 573.07,432.74 574.47,432.28 575.86,432.78 577.25,432.6 578.65,432.24 580.04,432.3 581.44,432.58 582.84,432.54 584.23,432.65 585.62,432.76 587.02,432.33 588.41,432.2 589.81,432.75 591.21,432.21 592.6,432.73 594,432.27 595.39,432.69 596.78,432.67 598.18,432.73 599.58,432.53 600.97,432.73 602.37,432.32 603.76,432.6 605.15,432.4 606.55,432.74 607.94,432.66 609.34,432.48 610.74,432.52 612.13,432.22 613.53,432.22 614.92,432.56 616.32,432.49 617.71,432.72 619.11,432.56 620.5,432.28 621.89,432.42 623.29,432.66 624.68,432.51 626.08,432.21 627.48,432.7 628.87,432.7 630.26,432.25 631.66,432.53 633.06,432.43 634.45,432.67 635.85,432.39 637.24,432.34 638.63,432.49 640.03,432.78 641.42,432.26 642.82,432.27 644.22,432.57 645.61,432.73 647,432.51 648.4,432.46 649.8,432.71 651.19,432.67 652.59,432.24 653.98,432.73 655.38,432.32 656.77,432.38 658.16,432.7 659.56,432.45 660.95,432.68 662.35,432.3 663.75,432.72 665.14,432.31 666.53,432.29 667.93,432.5 669.33,432.4 670.72,432.53 672.12,432.74 673.51,432.63 674.9,432.2 676.3,432.39 677.69,432.53 679.09,432.49 680.49,432.63 681.88,432.49 683.27,432.25 684.67,432.35 686.07,432.71 687.46,432.41 688.86,432.66 690.25,432.79 691.64,432.58 693.04,432.61 694.43,432.57 695.83,432.39 697.22,432.75 698.62,432.48 700.01,432.75 701.41,432.38 702.81,432.72 704.2,432.67 705.6,432.57 706.99,432.47 708.38,432.28 709.78,432.66 711.17,432.42 712.57,432.6 713.97,432.28 715.36,432.25 716.75,432.29 718.15,432.69 719.55,432.31 720.94,432.74 722.34,432.42 723.73,432.55 725.12,432.41 726.52,432.57 727.91,432.26 729.31,432.44 730.71,432.76 732.1,432.31 733.5,432.59 734.89,432.4 736.29,432.38 737.68,432.21 739.08,432.21 740.47,432.77 741.87,432.7 743.26,432.68 744.65,432.68 746.05,432.77 747.44,432.3 748.84,432.55 750.24,432.5 751.63,432.54 753.02,432.76 754.42,432.66 755.82,432.78 757.21,432.27 758.61,432.59 760,432.61"/>
<polyline fill="none" stroke="#f21a1a" stroke-width="4.0" points="341.5,460.66 342.89,460.72 344.29,460.75 345.69,460.83 347.08,460.73 348.48,460.82 349.87,460.38 351.26,460.6 352.66,460.84 354.06,460.69 355.45,460.82 356.85,460.43 358.24,460.61 359.63,460.5 361.03,460.65 362.43,460.67 363.82,460.39 365.21,460.49 366.61,460.53 368,460.85 369.4,460.77 370.8,460.47 372.19,460.79 373.58,460.46 374.98,460.71 376.38,460.46 377.77,460.4 379.17,460.84 380.56,460.51 381.95,460.52 383.35,460.9 384.75,460.85 386.14,460.56 387.54,460.9 388.93,460.69 390.32,460.76 391.72,460.52 393.12,460.89 394.51,460.77 395.9,460.91 397.3,460.88 398.69,460.58 400.09,460.61 401.49,460.52 402.88,460.51 404.27,460.47 405.67,460.59 407.06,460.75 408.46,460.45 409.86,460.79 411.25,460.62 412.64,460.61 414.04,460.86 415.44,460.7 416.83,460.62 418.23,460.7 419.62,460.82 421.01,460.49 422.41,460.96 423.81,460.48 425.2,460.85 426.6,460.9 427.99,460.49 429.38,460.87 430.78,460.66 432.18,460.77 433.57,460.49 434.97,460.51 436.36,460.58 437.75,460.97 439.15,460.59 440.55,460.88 441.94,460.96 443.34,460.97 444.73,460.68 446.12,460.68 447.52,460.77 448.91,460.9 450.31,460.57 451.7,460.89 453.1,460.92 454.5,460.95 455.89,460.54 457.28,461 458.68,460.57 460.07,460.7 461.47,460.84 462.87,461 464.26,460.71 465.66,461 467.05,460.82 468.44,460.7 469.84,460.71 471.24,460.64 472.63,460.6 474.02,460.63 475.42,460.91 476.81,461.06 478.21,460.65 479.61,460.6 481,461.07 482.39,460.84 483.79,460.78 485.19,460.7 486.58,460.88 487.98,461 489.37,460.82 490.76,460.81 492.16,460.63 493.56,461.06 494.95,460.62 496.35,460.86 497.74,461.03 499.13,460.68 500.53,460.99 501.93,461.1 503.32,460.94 504.72,461.02 506.11,460.69 507.5,460.86 508.9,460.72 510.29,461.07 511.69,460.8 513.09,460.88 514.48,461.16 515.88,461.09 517.27,461.15 518.66,460.9 520.06,460.92 521.45,461.04 522.85,460.92 524.25,460.83 525.64,460.89 527.03,460.77 528.43,460.89 529.83,461.2 531.22,461.19 532.62,461.03 534.01,460.97 535.4,460.89 536.8,460.77 538.19,460.87 539.59,461.13 540.99,461.18 542.38,460.93 543.77,461.15 545.17,461.14 546.57,461.11 547.96,461.1 549.36,461.15 550.75,460.96 552.14,461.14 553.54,460.93 554.93,461.04 556.33,461.19 557.73,461.15 559.12,460.96 560.51,461.29 561.91,461.15 563.31,461.12 564.7,460.84 566.1,461.12 567.49,460.98 568.88,461.19 570.28,461.09 571.67,461.28 573.07,461.2 574.47,461.28 575.86,461.06 577.25,461.22 578.65,461.27 580.04,461.32 581.44,461.09 582.84,461.35 584.23,461.37 585.62,461.28 587.02,461.44 588.41,461.43 589.81,461.22 591.21,461.24 592.6,461.06 594,461.41 595.39,461.46 596.78,461.24 598.18,461.36 599.58,461.38 600.97,461.39 602.37,461.12 603.76,461.44 605.15,461.35 606.55,461.4 607.94,461.28 609.34,461.4 610.74,461.48 612.13,461.42 613.53,461.47 614.92,461.14 616.32,461.21 617.71,461.36 619.11,461.48 620.5,461.27 621.89,461.52 623.29,461.5 624.68,461.21 626.08,461.44 627.48,461.33 628.87,461.25 630.26,461.3 631.66,461.41 633.06,461.35 634.45,461.37 635.85,461.3 637.24,461.53 638.63,461.5 640.03,461.62 641.42,461.63 642.82,461.46 644.22,461.81 645.61,461.37 647,461.58 648.4,461.53 649.8,461.61 651.19,461.48 652.59,461.85 653.98,461.64 655.38,461.48 656.77,461.78 658.16,461.54 659.56,461.78 660.95,461.69 662.35,461.82 663.75,462.03 665.14,461.97 666.53,461.79 667.93,462 669.33,461.93 670.72,461.81 672.12,461.71 673.51,461.95 674.9,461.95 676.3,462.17 677.69,462.19 679.09,462.03 680.49,461.91 681.88,462.2 683.27,461.77 684.67,461.84 686.07,462.09 687.46,462.13 688.86,461.91 690.25,462.18 691.64,462.32 693.04,462.09 694.43,462.13 695.83,462.05 697.22,462.1 698.62,462.46 700.01,462.18 701.41,462.49 702.81,462.49 704.2,462.35 705.6,462.2 706.99,462.58 708.38,462.36 709.78,462.34 711.17,462.32 712.57,462.67 713.97,462.45 715.36,462.37 716.75,462.48 718.15,462.33 719.55,462.6 720.94,462.53 722.34,462.48 723.73,462.75 725.12,462.79 726.52,462.41 727.91,462.7 729.31,462.59 730.71,462.95 732.1,462.89 733.5,462.65 734.89,462.69 736.29,462.66 737.68,463.1 739.08,462.78 740.47,462.96 741.87,462.92 743.26,463.03 744.65,463.04 746.05,463.13 747.44,462.85 748.84,463.2 750.24,463 751.63,463.14 753.02,463.07 754.42,463.08 755.82,463.23 757.21,463.22 758.61,463.2 760,463.42"/>
<polyline fill="none" stroke="#fb7a7a" stroke-width="0.9" points="341.5,460.23 342.89,460.26 344.29,459.99 345.69,459.82 347.08,459.61 348.48,460.14 349.87,459.99 351.26,460.22 352.66,459.91 354.06,460.23 355.45,459.84 356.85,460.26 358.24,460.21 359.63,459.96 361.03,460.06 362.43,460.18 363.82,459.79 365.21,460.08 366.61,460.28 368,459.85 369.4,460.28 370.8,460.19 372.19,460.32 373.58,459.91 374.98,459.72 376.38,460.29 377.77,460.3 379.17,460.01 380.56,459.73 381.95,459.82 383.35,460.17 384.75,459.89 386.14,460.42 387.54,460.14 388.93,459.83 390.32,460.19 391.72,459.96 393.12,460.42 394.51,460.4 395.9,460.09 397.3,460.2 398.69,460.24 400.09,460.33 401.49,460.47 402.88,459.71 404.27,459.98 405.67,460.17 407.06,459.94 408.46,460.17 409.86,459.77 411.25,460.4 412.64,460.12 414.04,459.8 415.44,460.24 416.83,459.96 418.23,459.87 419.62,460.1 421.01,459.83 422.41,459.89 423.81,460.41 425.2,460.28 426.6,459.73 427.99,460.35 429.38,459.74 430.78,460 432.18,460.46 433.57,460.23 434.97,459.98 436.36,460.04 437.75,460.05 439.15,459.85 440.55,460.55 441.94,459.79 443.34,460.09 444.73,460.35 446.12,460.07 447.52,460.54 448.91,459.96 450.31,460.55 451.7,460.48 453.1,460.31 454.5,460.48 455.89,460.13 457.28,460.44 458.68,460.42 460.07,460.2 461.47,460.16 462.87,460.35 464.26,460.12 465.66,459.86 467.05,460.39 468.44,460.01 469.84,460.19 471.24,460.43 472.63,459.94 474.02,459.83 475.42,459.91 476.81,460.29 478.21,460.11 479.61,460.03 481,460.19 482.39,460.57 483.79,460.03 485.19,460.16 486.58,460.54 487.98,460.33 489.37,460.06 490.76,460.23 492.16,460.23 493.56,459.97 494.95,460.16 496.35,460.1 497.74,460.51 499.13,460.12 500.53,460.4 501.93,460.65 503.32,460.62 504.72,460.18 506.11,460.37 507.5,460.14 508.9,460.21 510.29,460.29 511.69,460.53 513.09,460.65 514.48,460.14 515.88,459.92 517.27,460.27 518.66,459.96 520.06,459.95 521.45,460.55 522.85,460.02 524.25,460.51 525.64,460.23 527.03,460.7 528.43,460.63 529.83,460 531.22,460.11 532.62,460.72 534.01,460.46 535.4,460.31 536.8,460.6 538.19,460.63 539.59,460.38 540.99,460.37 542.38,460.08 543.77,460.29 545.17,460.12 546.57,460.51 547.96,460.5 549.36,460.14 550.75,460.53 552.14,460.11 553.54,460.12 554.93,460.56 556.33,460.42 557.73,460.78 559.12,460.57 560.51,460.63 561.91,460.18 563.31,460.75 564.7,460.15 566.1,460.59 567.49,460.83 568.88,460.83 570.28,460.83 571.67,460.48 573.07,460.68 574.47,460.77 575.86,460.25 577.25,460.9 578.65,460.88 580.04,460.51 581.44,460.79 582.84,460.53 584.23,460.4 585.62,460.76 587.02,460.25 588.41,460.85 589.81,461 591.21,460.45 592.6,460.98 594,460.3 595.39,460.93 596.78,460.48 598.18,461.04 599.58,460.62 600.97,461.02 602.37,460.31 603.76,460.37 605.15,460.96 606.55,460.83 607.94,460.75 609.34,460.36 610.74,460.48 612.13,460.65 613.53,460.4 614.92,461.17 616.32,460.99 617.71,461.15 619.11,460.96 620.5,460.69 621.89,460.48 623.29,461.02 624.68,460.53 626.08,460.89 627.48,460.84 628.87,460.87 630.26,460.55 631.66,460.56 633.06,460.93 634.45,460.55 635.85,460.95 637.24,460.67 638.63,460.78 640.03,460.69 641.42,461.04 642.82,460.9 644.22,460.78 645.61,460.8 647,461.08 648.4,461.37 649.8,460.99 651.19,460.8 652.59,460.94 653.98,460.89 655.38,461.17 656.77,461.35 658.16,461.19 659.56,460.9 660.95,461.03 662.35,461.09 663.75,461.15 665.14,461.13 666.53,461.63 667.93,461.28 669.33,461.39 670.72,461.45 672.12,461.41 673.51,461.55 674.9,461.22 676.3,461.47 677.69,461.73 679.09,461.1 680.49,461.49 681.88,461.31 683.27,461.07 684.67,461.07 686.07,461.66 687.46,461.17 688.86,461.66 690.25,461.19 691.64,461.42 693.04,461.17 694.43,461.6 695.83,461.81 697.22,461.38 698.62,461.68 700.01,461.98 701.41,461.5 702.81,461.66 704.2,461.88 705.6,462.01 706.99,461.48 708.38,461.89 709.78,461.48 711.17,461.5 712.57,462.21 713.97,461.49 715.36,462.21 716.75,462.09 718.15,462.06 719.55,462.12 720.94,462.08 722.34,461.81 723.73,461.96 725.12,461.79 726.52,462.34 727.91,462.3 729.31,462.33 730.71,461.9 732.1,462.23 733.5,461.98 734.89,462.44 736.29,462.42 737.68,462.65 739.08,462.45 740.47,462.45 741.87,462.55 743.26,462.03 744.65,462.46 746.05,462.04 747.44,462.33 748.84,462.16 750.24,462.86 751.63,462.15 753.02,462.89 754.42,462.94 755.82,462.56 757.21,462.91 758.61,462.31 760,462.41"/>
<circle cx="376.4" cy="425.7" r="1.5" fill="#9a9a9a" stroke="#6a6a6a" stroke-width="0.5"/>
<circle cx="535.3" cy="434.8" r="1.4" fill="#9a9a9a" stroke="#6a6a6a" stroke-width="0.5"/>
<line x1="341.5" y1="406.3" x2="760" y2="406.3" stroke="#555" stroke-width="1.0" />
<line x1="341.5" y1="565.3" x2="760" y2="565.3" stroke="#444" stroke-width="1.0" />
<line x1="341.5" y1="406.3" x2="341.5" y2="565.3" stroke="#f02020" stroke-width="1.0" />
<line x1="760" y1="406.3" x2="760" y2="565.3" stroke="#8a8a8a" stroke-width="1.0" />
<line x1="355.45" y1="565.3" x2="355.45" y2="566.9" stroke="#303030" stroke-width="0.9" />
<line x1="383.35" y1="565.3" x2="383.35" y2="566.9" stroke="#303030" stroke-width="0.9" />
<line x1="411.25" y1="565.3" x2="411.25" y2="566.9" stroke="#303030" stroke-width="0.9" />
<line x1="439.15" y1="565.3" x2="439.15" y2="566.9" stroke="#303030" stroke-width="0.9" />
<line x1="467.05" y1="565.3" x2="467.05" y2="566.9" stroke="#303030" stroke-width="0.9" />
<line x1="494.95" y1="565.3" x2="494.95" y2="566.9" stroke="#303030" stroke-width="0.9" />
<line x1="522.85" y1="565.3" x2="522.85" y2="566.9" stroke="#303030" stroke-width="0.9" />
<line x1="550.75" y1="565.3" x2="550.75" y2="566.9" stroke="#303030" stroke-width="0.9" />
<line x1="578.65" y1="565.3" x2="578.65" y2="566.9" stroke="#303030" stroke-width="0.9" />
<line x1="606.55" y1="565.3" x2="606.55" y2="566.9" stroke="#303030" stroke-width="0.9" />
<line x1="634.45" y1="565.3" x2="634.45" y2="566.9" stroke="#303030" stroke-width="0.9" />
<line x1="662.35" y1="565.3" x2="662.35" y2="566.9" stroke="#303030" stroke-width="0.9" />
<line x1="690.25" y1="565.3" x2="690.25" y2="566.9" stroke="#303030" stroke-width="0.9" />
<line x1="718.15" y1="565.3" x2="718.15" y2="566.9" stroke="#303030" stroke-width="0.9" />
<line x1="746.05" y1="565.3" x2="746.05" y2="566.9" stroke="#303030" stroke-width="0.9" />
<line x1="341.5" y1="565.3" x2="341.5" y2="568.1" stroke="#303030" stroke-width="1.1" />
<text x="341.5" y="577.1" font-size="8.3" text-anchor="middle" fill="#141414" font-weight="normal" stroke="#141414" stroke-width="0.22" >0</text>
<line x1="369.4" y1="565.3" x2="369.4" y2="568.1" stroke="#303030" stroke-width="1.1" />
<text x="369.4" y="577.1" font-size="8.3" text-anchor="middle" fill="#141414" font-weight="normal" stroke="#141414" stroke-width="0.22" >20</text>
<line x1="397.3" y1="565.3" x2="397.3" y2="568.1" stroke="#303030" stroke-width="1.1" />
<text x="397.3" y="577.1" font-size="8.3" text-anchor="middle" fill="#141414" font-weight="normal" stroke="#141414" stroke-width="0.22" >40</text>
<line x1="425.2" y1="565.3" x2="425.2" y2="568.1" stroke="#303030" stroke-width="1.1" />
<text x="425.2" y="577.1" font-size="8.3" text-anchor="middle" fill="#141414" font-weight="normal" stroke="#141414" stroke-width="0.22" >60</text>
<line x1="453.1" y1="565.3" x2="453.1" y2="568.1" stroke="#303030" stroke-width="1.1" />
<text x="453.1" y="577.1" font-size="8.3" text-anchor="middle" fill="#141414" font-weight="normal" stroke="#141414" stroke-width="0.22" >80</text>
<line x1="481" y1="565.3" x2="481" y2="568.1" stroke="#303030" stroke-width="1.1" />
<text x="481" y="577.1" font-size="8.3" text-anchor="middle" fill="#141414" font-weight="normal" stroke="#141414" stroke-width="0.22" >100</text>
<line x1="508.9" y1="565.3" x2="508.9" y2="568.1" stroke="#303030" stroke-width="1.1" />
<text x="508.9" y="577.1" font-size="8.3" text-anchor="middle" fill="#141414" font-weight="normal" stroke="#141414" stroke-width="0.22" >120</text>
<line x1="536.8" y1="565.3" x2="536.8" y2="568.1" stroke="#303030" stroke-width="1.1" />
<text x="536.8" y="577.1" font-size="8.3" text-anchor="middle" fill="#141414" font-weight="normal" stroke="#141414" stroke-width="0.22" >140</text>
<line x1="564.7" y1="565.3" x2="564.7" y2="568.1" stroke="#303030" stroke-width="1.1" />
<text x="564.7" y="577.1" font-size="8.3" text-anchor="middle" fill="#141414" font-weight="normal" stroke="#141414" stroke-width="0.22" >160</text>
<line x1="592.6" y1="565.3" x2="592.6" y2="568.1" stroke="#303030" stroke-width="1.1" />
<text x="592.6" y="577.1" font-size="8.3" text-anchor="middle" fill="#141414" font-weight="normal" stroke="#141414" stroke-width="0.22" >180</text>
<line x1="620.5" y1="565.3" x2="620.5" y2="568.1" stroke="#303030" stroke-width="1.1" />
<text x="620.5" y="577.1" font-size="8.3" text-anchor="middle" fill="#141414" font-weight="normal" stroke="#141414" stroke-width="0.22" >200</text>
<line x1="648.4" y1="565.3" x2="648.4" y2="568.1" stroke="#303030" stroke-width="1.1" />
<text x="648.4" y="577.1" font-size="8.3" text-anchor="middle" fill="#141414" font-weight="normal" stroke="#141414" stroke-width="0.22" >220</text>
<line x1="676.3" y1="565.3" x2="676.3" y2="568.1" stroke="#303030" stroke-width="1.1" />
<text x="676.3" y="577.1" font-size="8.3" text-anchor="middle" fill="#141414" font-weight="normal" stroke="#141414" stroke-width="0.22" >240</text>
<line x1="704.2" y1="565.3" x2="704.2" y2="568.1" stroke="#303030" stroke-width="1.1" />
<text x="704.2" y="577.1" font-size="8.3" text-anchor="middle" fill="#141414" font-weight="normal" stroke="#141414" stroke-width="0.22" >260</text>
<line x1="732.1" y1="565.3" x2="732.1" y2="568.1" stroke="#303030" stroke-width="1.1" />
<text x="732.1" y="577.1" font-size="8.3" text-anchor="middle" fill="#141414" font-weight="normal" stroke="#141414" stroke-width="0.22" >280</text>
<line x1="760" y1="565.3" x2="760" y2="568.1" stroke="#303030" stroke-width="1.1" />
<text x="760" y="577.1" font-size="8.3" text-anchor="middle" fill="#141414" font-weight="normal" stroke="#141414" stroke-width="0.22" >300</text>
<line x1="341.5" y1="549.4" x2="339.8" y2="549.4" stroke="#f02020" stroke-width="0.9" />
<line x1="341.5" y1="517.6" x2="339.8" y2="517.6" stroke="#f02020" stroke-width="0.9" />
<line x1="341.5" y1="485.8" x2="339.8" y2="485.8" stroke="#f02020" stroke-width="0.9" />
<line x1="341.5" y1="454" x2="339.8" y2="454" stroke="#f02020" stroke-width="0.9" />
<line x1="341.5" y1="422.2" x2="339.8" y2="422.2" stroke="#f02020" stroke-width="0.9" />
<line x1="341.5" y1="565.3" x2="338.3" y2="565.3" stroke="#f02020" stroke-width="1.1" />
<text x="336.5" y="567.98" font-size="7.45" text-anchor="end" fill="#f02020" font-weight="normal" stroke="#f02020" stroke-width="0.22" >0</text>
<line x1="341.5" y1="533.5" x2="338.3" y2="533.5" stroke="#f02020" stroke-width="1.1" />
<text x="336.5" y="536.18" font-size="7.45" text-anchor="end" fill="#f02020" font-weight="normal" stroke="#f02020" stroke-width="0.22" >500</text>
<line x1="341.5" y1="501.7" x2="338.3" y2="501.7" stroke="#f02020" stroke-width="1.1" />
<text x="336.5" y="504.38" font-size="7.45" text-anchor="end" fill="#f02020" font-weight="normal" stroke="#f02020" stroke-width="0.22" >1000</text>
<line x1="341.5" y1="469.9" x2="338.3" y2="469.9" stroke="#f02020" stroke-width="1.1" />
<text x="336.5" y="472.58" font-size="7.45" text-anchor="end" fill="#f02020" font-weight="normal" stroke="#f02020" stroke-width="0.22" >1500</text>
<line x1="341.5" y1="438.1" x2="338.3" y2="438.1" stroke="#f02020" stroke-width="1.1" />
<text x="336.5" y="440.78" font-size="7.45" text-anchor="end" fill="#f02020" font-weight="normal" stroke="#f02020" stroke-width="0.22" >2000</text>
<line x1="341.5" y1="406.3" x2="338.3" y2="406.3" stroke="#f02020" stroke-width="1.1" />
<text x="336.5" y="408.98" font-size="7.45" text-anchor="end" fill="#f02020" font-weight="normal" stroke="#f02020" stroke-width="0.22" >2500</text>
<line x1="760" y1="565.3" x2="762.8" y2="565.3" stroke="#8a8a8a" stroke-width="0.9" />
<text x="765" y="567.6" font-size="6.4" text-anchor="start" fill="#8a8a8a" font-weight="normal" stroke="#8a8a8a" stroke-width="0.22" >90</text>
<line x1="760" y1="552.05" x2="761.6" y2="552.05" stroke="#8a8a8a" stroke-width="0.8" />
<line x1="760" y1="538.8" x2="762.8" y2="538.8" stroke="#8a8a8a" stroke-width="0.9" />
<text x="765" y="541.1" font-size="6.4" text-anchor="start" fill="#8a8a8a" font-weight="normal" stroke="#8a8a8a" stroke-width="0.22" >92</text>
<line x1="760" y1="525.55" x2="761.6" y2="525.55" stroke="#8a8a8a" stroke-width="0.8" />
<line x1="760" y1="512.3" x2="762.8" y2="512.3" stroke="#8a8a8a" stroke-width="0.9" />
<text x="765" y="514.6" font-size="6.4" text-anchor="start" fill="#8a8a8a" font-weight="normal" stroke="#8a8a8a" stroke-width="0.22" >94</text>
<line x1="760" y1="499.05" x2="761.6" y2="499.05" stroke="#8a8a8a" stroke-width="0.8" />
<line x1="760" y1="485.8" x2="762.8" y2="485.8" stroke="#8a8a8a" stroke-width="0.9" />
<text x="765" y="488.1" font-size="6.4" text-anchor="start" fill="#8a8a8a" font-weight="normal" stroke="#8a8a8a" stroke-width="0.22" >96</text>
<line x1="760" y1="472.55" x2="761.6" y2="472.55" stroke="#8a8a8a" stroke-width="0.8" />
<line x1="760" y1="459.3" x2="762.8" y2="459.3" stroke="#8a8a8a" stroke-width="0.9" />
<text x="765" y="461.6" font-size="6.4" text-anchor="start" fill="#8a8a8a" font-weight="normal" stroke="#8a8a8a" stroke-width="0.22" >98</text>
<line x1="760" y1="446.05" x2="761.6" y2="446.05" stroke="#8a8a8a" stroke-width="0.8" />
<line x1="760" y1="432.8" x2="762.8" y2="432.8" stroke="#8a8a8a" stroke-width="0.9" />
<text x="765" y="435.1" font-size="6.4" text-anchor="start" fill="#8a8a8a" font-weight="normal" stroke="#8a8a8a" stroke-width="0.22" >100</text>
<line x1="760" y1="419.55" x2="761.6" y2="419.55" stroke="#8a8a8a" stroke-width="0.8" />
<line x1="760" y1="406.3" x2="762.8" y2="406.3" stroke="#8a8a8a" stroke-width="0.9" />
<text x="765" y="408.6" font-size="6.4" text-anchor="start" fill="#8a8a8a" font-weight="normal" stroke="#8a8a8a" stroke-width="0.22" >102</text>
<text x="352.6" y="420.9" font-size="12.4" text-anchor="start" fill="#141414" font-weight="normal" stroke="#141414" stroke-width="0.22" >R-HTS-S-LFP</text>
<text x="701" y="488.9" font-size="13.6" text-anchor="start" fill="#141414" font-weight="normal" stroke="#141414" stroke-width="0.22" >97.56%</text>
<text x="483.4" y="527.3" font-size="14.1" text-anchor="start" fill="#141414" font-weight="normal" stroke="#141414" stroke-width="0.22" >Capacity: 1.6 Ah</text>
<text x="483.4" y="544.9" font-size="14.1" text-anchor="start" fill="#141414" font-weight="normal" stroke="#141414" stroke-width="0.22" >Scan rate: 1C</text>
<text transform="translate(309.8,484.1) rotate(-90)" font-size="10.5" text-anchor="middle" fill="#141414" stroke="#141414" stroke-width="0.22" >Capacity (mAh)</text>
<text transform="translate(788.6,490.6) rotate(-90)" font-size="10.6" text-anchor="middle" fill="#141414" stroke="#141414" stroke-width="0.22" >Coulombic retention (%)</text>
<text x="550.7" y="588.3" font-size="10.4" text-anchor="middle" fill="#141414" font-weight="normal" stroke="#141414" stroke-width="0.22" >Cycle number</text>
<text x="38.8" y="37.6" font-size="24.4" font-weight="bold" fill="#000">a</text>
<text x="288.6" y="37.9" font-size="24.4" font-weight="bold" fill="#000">b</text>
<text x="550.6" y="37.7" font-size="24.4" font-weight="bold" fill="#000">c</text>
<text x="38.6" y="221.0" font-size="24.4" font-weight="bold" fill="#000">d</text>
<text x="288.4" y="221.1" font-size="24.4" font-weight="bold" fill="#000">e</text>
<text x="550.6" y="220.9" font-size="24.4" font-weight="bold" fill="#000">f</text>
<text x="38.8" y="419.2" font-size="24.4" font-weight="bold" fill="#000">g</text>
<text x="288.4" y="418.9" font-size="24.4" font-weight="bold" fill="#000">h</text></svg></body></html>
